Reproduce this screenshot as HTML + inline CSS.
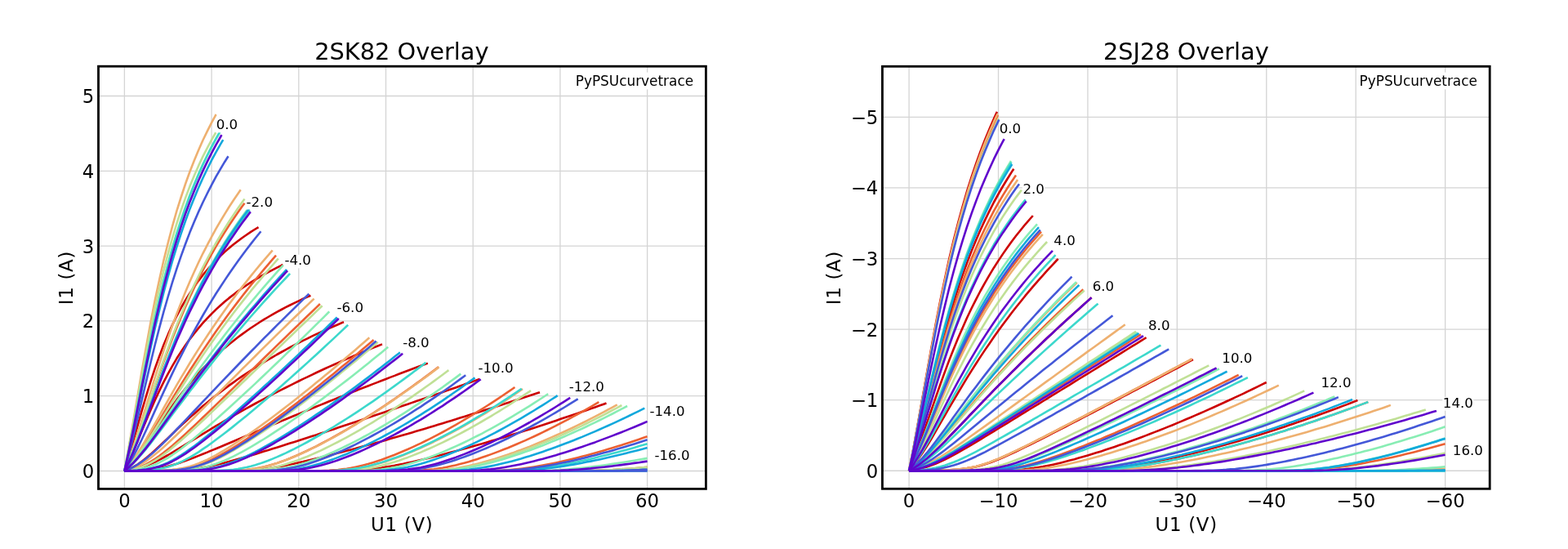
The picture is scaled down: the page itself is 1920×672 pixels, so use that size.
<!DOCTYPE html>
<html><head><meta charset="utf-8"><title>Overlay</title>
<style>html,body{margin:0;padding:0;background:#fff;overflow:hidden}svg{display:block}</style>
</head><body>
<svg width="1920" height="672" viewBox="0 0 1920 672" font-family="DejaVu Sans, Liberation Sans, sans-serif">
<rect width="1920" height="672" fill="#fff"/>
<clipPath id="c1"><rect x="120.50" y="81.20" width="743.90" height="517.20"/></clipPath>
<g stroke="#d4d4d4" stroke-width="1.3">
<line x1="152.40" y1="81.20" x2="152.40" y2="598.40"/>
<line x1="259.10" y1="81.20" x2="259.10" y2="598.40"/>
<line x1="365.80" y1="81.20" x2="365.80" y2="598.40"/>
<line x1="472.50" y1="81.20" x2="472.50" y2="598.40"/>
<line x1="579.20" y1="81.20" x2="579.20" y2="598.40"/>
<line x1="685.90" y1="81.20" x2="685.90" y2="598.40"/>
<line x1="792.60" y1="81.20" x2="792.60" y2="598.40"/>
<line x1="120.50" y1="576.50" x2="864.40" y2="576.50"/>
<line x1="120.50" y1="484.70" x2="864.40" y2="484.70"/>
<line x1="120.50" y1="392.90" x2="864.40" y2="392.90"/>
<line x1="120.50" y1="301.10" x2="864.40" y2="301.10"/>
<line x1="120.50" y1="209.30" x2="864.40" y2="209.30"/>
<line x1="120.50" y1="117.50" x2="864.40" y2="117.50"/>
</g>

<g clip-path="url(#c1)" fill="none" stroke-width="2.6" stroke-linejoin="round" stroke-linecap="butt">
<polyline points="152.4,576.5 157.7,558.8 163.1,540.2 168.4,521.3 173.7,502.6 179.1,484.4 184.4,467.2 189.7,451.1 195.1,436.1 200.4,422.2 205.8,409.4 211.1,397.6 216.4,386.8 221.8,376.7 227.1,367.5 232.4,358.9 237.8,351.0 243.1,343.6 248.4,336.7 253.8,330.3 259.1,324.3 264.4,318.7 269.8,313.4 275.1,308.4 280.4,303.7 285.8,299.3 291.1,295.2 296.4,291.2 301.8,287.5 307.1,283.9 312.5,280.5 316.5,278.1" stroke="#cc0000"/>
<polyline points="152.4,576.5 157.7,565.2 163.1,553.0 168.4,540.2 173.7,527.3 179.1,514.4 184.4,501.9 189.7,489.9 195.1,478.4 200.4,467.6 205.8,457.4 211.1,447.8 216.4,438.8 221.8,430.4 227.1,422.5 232.4,415.1 237.8,408.2 243.1,401.6 248.4,395.4 253.8,389.6 259.1,384.1 264.4,378.9 269.8,374.0 275.1,369.3 280.4,364.9 285.8,360.7 291.1,356.6 296.4,352.8 301.8,349.1 307.1,345.7 312.5,342.3 317.8,339.1 323.1,336.0 328.5,333.1 333.8,330.3 339.1,327.6 344.5,325.0 346.4,324.0" stroke="#cc0000"/>
<polyline points="152.4,576.5 157.7,571.8 163.1,566.0 168.4,559.4 173.7,552.1 179.1,544.4 184.4,536.3 189.7,528.2 195.1,520.1 200.4,512.1 205.8,504.3 211.1,496.7 216.4,489.4 221.8,482.4 227.1,475.6 232.4,469.1 237.8,462.9 243.1,456.9 248.4,451.2 253.8,445.7 259.1,440.5 264.4,435.4 269.8,430.6 275.1,425.9 280.4,421.5 285.8,417.2 291.1,413.0 296.4,409.1 301.8,405.2 307.1,401.5 312.5,398.0 317.8,394.5 323.1,391.2 328.5,388.0 333.8,384.9 339.1,381.9 344.5,379.0 349.8,376.2 355.1,373.5 360.5,370.9 365.8,368.3 371.1,365.8 376.5,363.4 380.4,361.7" stroke="#cc0000"/>
<polyline points="152.4,576.5 157.7,574.4 163.1,571.7 168.4,568.5 173.7,564.7 179.1,560.6 184.4,556.1 189.7,551.3 195.1,546.3 200.4,541.3 205.8,536.1 211.1,531.0 216.4,525.9 221.8,520.9 227.1,516.0 232.4,511.1 237.8,506.4 243.1,501.7 248.4,497.1 253.8,492.7 259.1,488.3 264.4,484.1 269.8,480.0 275.1,475.9 280.4,471.9 285.8,468.1 291.1,464.3 296.4,460.6 301.8,457.0 307.1,453.5 312.5,450.1 317.8,446.7 323.1,443.4 328.5,440.2 333.8,437.1 339.1,434.0 344.5,431.0 349.8,428.1 355.1,425.2 360.5,422.4 365.8,419.6 371.1,416.9 376.5,414.3 381.8,411.7 387.1,409.1 392.5,406.7 397.8,404.2 403.1,401.8 408.5,399.5 413.8,397.2 419.1,394.9 421.0,394.2" stroke="#cc0000"/>
<polyline points="152.4,576.5 157.7,575.8 163.1,574.8 168.4,573.5 173.7,572.0 179.1,570.1 184.4,567.9 189.7,565.5 195.1,562.8 200.4,560.0 205.8,557.0 211.1,553.9 216.4,550.7 221.8,547.4 227.1,544.2 232.4,540.9 237.8,537.6 243.1,534.3 248.4,531.1 253.8,527.8 259.1,524.6 264.4,521.4 269.8,518.3 275.1,515.1 280.4,512.0 285.8,508.9 291.1,505.9 296.4,502.9 301.8,499.9 307.1,497.0 312.5,494.0 317.8,491.2 323.1,488.3 328.5,485.5 333.8,482.7 339.1,479.9 344.5,477.2 349.8,474.5 355.1,471.8 360.5,469.1 365.8,466.5 371.1,463.9 376.5,461.4 381.8,458.8 387.1,456.3 392.5,453.8 397.8,451.3 403.1,448.9 408.5,446.5 413.8,444.1 419.1,441.8 424.5,439.4 429.8,437.1 435.2,434.8 440.5,432.5 445.8,430.3 451.2,428.1 456.5,425.9 461.8,423.7 467.2,421.6 467.9,421.3" stroke="#cc0000"/>
<polyline points="152.4,576.5 157.7,576.4 163.1,576.2 168.4,576.0 173.7,575.7 179.1,575.3 184.4,574.7 189.7,574.0 195.1,573.1 200.4,572.0 205.8,570.7 211.1,569.3 216.4,567.7 221.8,565.9 227.1,564.0 232.4,562.1 237.8,560.0 243.1,557.9 248.4,555.8 253.8,553.6 259.1,551.4 264.4,549.2 269.8,547.0 275.1,544.7 280.4,542.5 285.8,540.2 291.1,537.9 296.4,535.7 301.8,533.4 307.1,531.2 312.5,528.9 317.8,526.6 323.1,524.4 328.5,522.2 333.8,519.9 339.1,517.7 344.5,515.4 349.8,513.2 355.1,511.0 360.5,508.8 365.8,506.6 371.1,504.4 376.5,502.2 381.8,500.0 387.1,497.8 392.5,495.6 397.8,493.5 403.1,491.3 408.5,489.1 413.8,487.0 419.1,484.9 424.5,482.7 429.8,480.6 435.2,478.5 440.5,476.4 445.8,474.3 451.2,472.2 456.5,470.1 461.8,468.1 467.2,466.0 472.5,464.0 477.8,461.9 483.2,459.9 488.5,457.8 493.8,455.8 499.2,453.8 504.5,451.8 509.8,449.8 515.2,447.8 520.5,445.8 523.8,444.6" stroke="#cc0000"/>
<polyline points="152.4,576.5 157.7,576.5 163.1,576.5 168.4,576.5 173.7,576.5 179.1,576.4 184.4,576.4 189.7,576.4 195.1,576.3 200.4,576.2 205.8,576.1 211.1,576.0 216.4,575.8 221.8,575.5 227.1,575.1 232.4,574.6 237.8,574.0 243.1,573.3 248.4,572.4 253.8,571.4 259.1,570.3 264.4,569.1 269.8,567.8 275.1,566.5 280.4,565.1 285.8,563.6 291.1,562.1 296.4,560.6 301.8,559.0 307.1,557.5 312.5,555.9 317.8,554.3 323.1,552.6 328.5,551.0 333.8,549.3 339.1,547.7 344.5,546.0 349.8,544.3 355.1,542.6 360.5,540.9 365.8,539.2 371.1,537.5 376.5,535.8 381.8,534.1 387.1,532.4 392.5,530.6 397.8,528.9 403.1,527.1 408.5,525.4 413.8,523.6 419.1,521.8 424.5,520.1 429.8,518.3 435.2,516.5 440.5,514.7 445.8,512.9 451.2,511.1 456.5,509.3 461.8,507.5 467.2,505.7 472.5,503.9 477.8,502.1 483.2,500.3 488.5,498.4 493.8,496.6 499.2,494.8 504.5,492.9 509.8,491.1 515.2,489.3 520.5,487.4 525.9,485.6 531.2,483.7 536.5,481.9 541.9,480.0 547.2,478.1 552.5,476.3 557.9,474.4 563.2,472.5 568.5,470.6 573.9,468.8 579.2,466.9 584.5,465.0 587.5,463.9" stroke="#cc0000"/>
<polyline points="152.4,576.5 157.7,576.5 163.1,576.5 168.4,576.5 173.7,576.5 179.1,576.5 184.4,576.5 189.7,576.5 195.1,576.5 200.4,576.5 205.8,576.5 211.1,576.5 216.4,576.5 221.8,576.5 227.1,576.5 232.4,576.5 237.8,576.5 243.1,576.5 248.4,576.5 253.8,576.5 259.1,576.5 264.4,576.4 269.8,576.4 275.1,576.4 280.4,576.3 285.8,576.2 291.1,576.1 296.4,575.9 301.8,575.7 307.1,575.4 312.5,575.0 317.8,574.5 323.1,573.9 328.5,573.2 333.8,572.4 339.1,571.5 344.5,570.6 349.8,569.6 355.1,568.5 360.5,567.4 365.8,566.2 371.1,565.1 376.5,563.8 381.8,562.6 387.1,561.3 392.5,560.0 397.8,558.7 403.1,557.3 408.5,556.0 413.8,554.6 419.1,553.2 424.5,551.8 429.8,550.4 435.2,549.0 440.5,547.5 445.8,546.1 451.2,544.6 456.5,543.2 461.8,541.7 467.2,540.2 472.5,538.7 477.8,537.1 483.2,535.6 488.5,534.1 493.8,532.5 499.2,531.0 504.5,529.4 509.8,527.8 515.2,526.2 520.5,524.7 525.9,523.1 531.2,521.4 536.5,519.8 541.9,518.2 547.2,516.6 552.5,514.9 557.9,513.3 563.2,511.6 568.5,510.0 573.9,508.3 579.2,506.6 584.5,505.0 589.9,503.3 595.2,501.6 600.5,499.9 605.9,498.2 611.2,496.5 616.5,494.7 621.9,493.0 627.2,491.3 632.5,489.6 637.9,487.8 643.2,486.1 648.6,484.3 653.9,482.6 659.2,480.8 661.0,480.2" stroke="#cc0000"/>
<polyline points="152.4,576.5 157.7,576.5 163.1,576.5 168.4,576.5 173.7,576.5 179.1,576.5 184.4,576.5 189.7,576.5 195.1,576.5 200.4,576.5 205.8,576.5 211.1,576.5 216.4,576.5 221.8,576.5 227.1,576.5 232.4,576.5 237.8,576.5 243.1,576.5 248.4,576.5 253.8,576.5 259.1,576.5 264.4,576.5 269.8,576.5 275.1,576.5 280.4,576.5 285.8,576.5 291.1,576.5 296.4,576.5 301.8,576.5 307.1,576.5 312.5,576.5 317.8,576.5 323.1,576.5 328.5,576.5 333.8,576.5 339.1,576.5 344.5,576.5 349.8,576.5 355.1,576.5 360.5,576.5 365.8,576.5 371.1,576.5 376.5,576.5 381.8,576.5 387.1,576.5 392.5,576.5 397.8,576.4 403.1,576.4 408.5,576.4 413.8,576.3 419.1,576.2 424.5,576.1 429.8,575.9 435.2,575.7 440.5,575.4 445.8,575.0 451.2,574.5 456.5,573.9 461.8,573.2 467.2,572.5 472.5,571.6 477.8,570.7 483.2,569.8 488.5,568.7 493.8,567.7 499.2,566.5 504.5,565.4 509.8,564.2 515.2,563.0 520.5,561.7 525.9,560.4 531.2,559.1 536.5,557.8 541.9,556.4 547.2,555.0 552.5,553.6 557.9,552.2 563.2,550.8 568.5,549.3 573.9,547.8 579.2,546.3 584.5,544.8 589.9,543.3 595.2,541.7 600.5,540.1 605.9,538.6 611.2,537.0 616.5,535.4 621.9,533.7 627.2,532.1 632.5,530.4 637.9,528.8 643.2,527.1 648.6,525.4 653.9,523.7 659.2,521.9 664.6,520.2 669.9,518.4 675.2,516.7 680.6,514.9 685.9,513.1 691.2,511.3 696.6,509.5 701.9,507.7 707.2,505.9 712.6,504.0 717.9,502.2 723.2,500.3 728.6,498.4 733.9,496.6 739.2,494.7 742.5,493.5" stroke="#cc0000"/>
<polyline points="152.4,576.5 157.7,564.2 163.1,550.6 168.4,535.9 173.7,520.5 179.1,504.8 184.4,489.0 189.7,473.2 195.1,457.8 200.4,442.8 205.8,428.3 211.1,414.3 216.4,400.9 221.8,388.0 227.1,375.6 232.4,363.7 237.8,352.3 243.1,341.4 248.4,330.9 253.8,320.8 259.1,311.1 264.4,301.8 269.8,292.9 275.1,284.3 280.4,276.0 285.8,268.0 291.1,260.3 296.4,252.8 299.5,248.7" stroke="#ec6032"/>
<polyline points="152.4,576.5 157.7,570.7 163.1,564.1 168.4,556.9 173.7,549.0 179.1,540.7 184.4,532.2 189.7,523.4 195.1,514.5 200.4,505.6 205.8,496.7 211.1,487.8 216.4,479.1 221.8,470.4 227.1,461.9 232.4,453.5 237.8,445.2 243.1,437.1 248.4,429.1 253.8,421.2 259.1,413.4 264.4,405.8 269.8,398.3 275.1,391.0 280.4,383.7 285.8,376.6 291.1,369.6 296.4,362.7 301.8,355.9 307.1,349.3 312.5,342.7 317.8,336.2 323.1,329.9 328.5,323.6 333.8,317.4 338.0,312.6" stroke="#ec6032"/>
<polyline points="152.4,576.5 157.7,575.6 163.1,574.3 168.4,572.7 173.7,570.6 179.1,568.1 184.4,565.2 189.7,561.8 195.1,558.1 200.4,554.1 205.8,549.8 211.1,545.4 216.4,540.7 221.8,536.0 227.1,531.1 232.4,526.1 237.8,521.1 243.1,516.1 248.4,511.0 253.8,505.9 259.1,500.7 264.4,495.6 269.8,490.4 275.1,485.2 280.4,480.0 285.8,474.9 291.1,469.7 296.4,464.5 301.8,459.3 307.1,454.1 312.5,448.9 317.8,443.7 323.1,438.5 328.5,433.3 333.8,428.1 339.1,422.9 344.5,417.8 349.8,412.6 355.1,407.4 360.5,402.3 365.8,397.1 371.1,392.0 376.5,386.8 381.8,381.7 387.1,376.6 391.9,372.0" stroke="#ec6032"/>
<polyline points="152.4,576.5 157.7,576.5 163.1,576.5 168.4,576.5 173.7,576.4 179.1,576.4 184.4,576.4 189.7,576.3 195.1,576.2 200.4,576.0 205.8,575.7 211.1,575.4 216.4,574.9 221.8,574.2 227.1,573.3 232.4,572.2 237.8,570.8 243.1,569.1 248.4,567.2 253.8,565.0 259.1,562.6 264.4,560.0 269.8,557.2 275.1,554.2 280.4,551.1 285.8,547.9 291.1,544.6 296.4,541.2 301.8,537.7 307.1,534.1 312.5,530.5 317.8,526.8 323.1,523.1 328.5,519.3 333.8,515.5 339.1,511.6 344.5,507.6 349.8,503.7 355.1,499.6 360.5,495.6 365.8,491.5 371.1,487.3 376.5,483.2 381.8,479.0 387.1,474.7 392.5,470.4 397.8,466.1 403.1,461.8 408.5,457.4 413.8,453.0 419.1,448.6 424.5,444.2 429.8,439.7 435.2,435.2 440.5,430.6 445.8,426.1 451.2,421.5 456.5,416.9 457.5,416.0" stroke="#ec6032"/>
<polyline points="152.4,576.5 157.7,576.5 163.1,576.5 168.4,576.5 173.7,576.5 179.1,576.5 184.4,576.5 189.7,576.5 195.1,576.5 200.4,576.5 205.8,576.5 211.1,576.5 216.4,576.5 221.8,576.5 227.1,576.5 232.4,576.5 237.8,576.5 243.1,576.5 248.4,576.5 253.8,576.5 259.1,576.4 264.4,576.4 269.8,576.4 275.1,576.3 280.4,576.2 285.8,576.0 291.1,575.8 296.4,575.4 301.8,575.0 307.1,574.3 312.5,573.6 317.8,572.6 323.1,571.4 328.5,570.1 333.8,568.6 339.1,566.9 344.5,565.0 349.8,563.1 355.1,561.0 360.5,558.7 365.8,556.4 371.1,554.0 376.5,551.5 381.8,548.9 387.1,546.3 392.5,543.5 397.8,540.7 403.1,537.9 408.5,534.9 413.8,531.9 419.1,528.9 424.5,525.8 429.8,522.6 435.2,519.4 440.5,516.1 445.8,512.8 451.2,509.4 456.5,506.0 461.8,502.5 467.2,499.0 472.5,495.5 477.8,491.9 483.2,488.2 488.5,484.5 493.8,480.8 499.2,477.0 504.5,473.2 509.8,469.4 515.2,465.5 520.5,461.5 525.9,457.6 531.2,453.6 536.5,449.5 537.0,449.2" stroke="#ec6032"/>
<polyline points="152.4,576.5 157.7,576.5 163.1,576.5 168.4,576.5 173.7,576.5 179.1,576.5 184.4,576.5 189.7,576.5 195.1,576.5 200.4,576.5 205.8,576.5 211.1,576.5 216.4,576.5 221.8,576.5 227.1,576.5 232.4,576.5 237.8,576.5 243.1,576.5 248.4,576.5 253.8,576.5 259.1,576.5 264.4,576.5 269.8,576.5 275.1,576.5 280.4,576.5 285.8,576.5 291.1,576.5 296.4,576.5 301.8,576.5 307.1,576.5 312.5,576.5 317.8,576.5 323.1,576.5 328.5,576.5 333.8,576.5 339.1,576.5 344.5,576.5 349.8,576.5 355.1,576.5 360.5,576.5 365.8,576.5 371.1,576.4 376.5,576.4 381.8,576.4 387.1,576.3 392.5,576.2 397.8,576.0 403.1,575.8 408.5,575.4 413.8,575.0 419.1,574.4 424.5,573.7 429.8,572.8 435.2,571.7 440.5,570.5 445.8,569.2 451.2,567.8 456.5,566.2 461.8,564.5 467.2,562.7 472.5,560.8 477.8,558.8 483.2,556.7 488.5,554.5 493.8,552.3 499.2,550.0 504.5,547.6 509.8,545.1 515.2,542.6 520.5,540.0 525.9,537.3 531.2,534.6 536.5,531.8 541.9,529.0 547.2,526.1 552.5,523.1 557.9,520.1 563.2,517.0 568.5,513.9 573.9,510.7 579.2,507.5 584.5,504.2 589.9,500.9 595.2,497.5 600.5,494.1 605.9,490.6 611.2,487.1 616.5,483.5 621.9,479.9 627.2,476.2 630.4,474.0" stroke="#ec6032"/>
<polyline points="152.4,576.5 157.7,576.5 163.1,576.5 168.4,576.5 173.7,576.5 179.1,576.5 184.4,576.5 189.7,576.5 195.1,576.5 200.4,576.5 205.8,576.5 211.1,576.5 216.4,576.5 221.8,576.5 227.1,576.5 232.4,576.5 237.8,576.5 243.1,576.5 248.4,576.5 253.8,576.5 259.1,576.5 264.4,576.5 269.8,576.5 275.1,576.5 280.4,576.5 285.8,576.5 291.1,576.5 296.4,576.5 301.8,576.5 307.1,576.5 312.5,576.5 317.8,576.5 323.1,576.5 328.5,576.5 333.8,576.5 339.1,576.5 344.5,576.5 349.8,576.5 355.1,576.5 360.5,576.5 365.8,576.5 371.1,576.5 376.5,576.5 381.8,576.5 387.1,576.5 392.5,576.5 397.8,576.5 403.1,576.5 408.5,576.5 413.8,576.5 419.1,576.5 424.5,576.5 429.8,576.5 435.2,576.5 440.5,576.5 445.8,576.5 451.2,576.5 456.5,576.5 461.8,576.5 467.2,576.5 472.5,576.5 477.8,576.5 483.2,576.4 488.5,576.4 493.8,576.3 499.2,576.3 504.5,576.1 509.8,575.9 515.2,575.7 520.5,575.3 525.9,574.8 531.2,574.3 536.5,573.5 541.9,572.7 547.2,571.7 552.5,570.6 557.9,569.4 563.2,568.1 568.5,566.7 573.9,565.2 579.2,563.6 584.5,561.9 589.9,560.1 595.2,558.3 600.5,556.4 605.9,554.4 611.2,552.4 616.5,550.3 621.9,548.2 627.2,546.0 632.5,543.7 637.9,541.4 643.2,539.1 648.6,536.6 653.9,534.2 659.2,531.7 664.6,529.1 669.9,526.5 675.2,523.8 680.6,521.2 685.9,518.4 691.2,515.6 696.6,512.8 701.9,509.9 707.2,507.0 712.6,504.1 717.9,501.1 723.2,498.0 728.6,494.9 733.3,492.2" stroke="#ec6032"/>
<polyline points="152.4,576.5 157.7,576.5 163.1,576.5 168.4,576.5 173.7,576.5 179.1,576.5 184.4,576.5 189.7,576.5 195.1,576.5 200.4,576.5 205.8,576.5 211.1,576.5 216.4,576.5 221.8,576.5 227.1,576.5 232.4,576.5 237.8,576.5 243.1,576.5 248.4,576.5 253.8,576.5 259.1,576.5 264.4,576.5 269.8,576.5 275.1,576.5 280.4,576.5 285.8,576.5 291.1,576.5 296.4,576.5 301.8,576.5 307.1,576.5 312.5,576.5 317.8,576.5 323.1,576.5 328.5,576.5 333.8,576.5 339.1,576.5 344.5,576.5 349.8,576.5 355.1,576.5 360.5,576.5 365.8,576.5 371.1,576.5 376.5,576.5 381.8,576.5 387.1,576.5 392.5,576.5 397.8,576.5 403.1,576.5 408.5,576.5 413.8,576.5 419.1,576.5 424.5,576.5 429.8,576.5 435.2,576.5 440.5,576.5 445.8,576.5 451.2,576.5 456.5,576.5 461.8,576.5 467.2,576.5 472.5,576.5 477.8,576.5 483.2,576.5 488.5,576.5 493.8,576.5 499.2,576.5 504.5,576.5 509.8,576.5 515.2,576.5 520.5,576.5 525.9,576.5 531.2,576.5 536.5,576.5 541.9,576.5 547.2,576.5 552.5,576.5 557.9,576.5 563.2,576.5 568.5,576.5 573.9,576.5 579.2,576.4 584.5,576.4 589.9,576.4 595.2,576.3 600.5,576.2 605.9,576.1 611.2,575.8 616.5,575.6 621.9,575.2 627.2,574.8 632.5,574.3 637.9,573.7 643.2,573.0 648.6,572.3 653.9,571.5 659.2,570.6 664.6,569.6 669.9,568.6 675.2,567.5 680.6,566.4 685.9,565.3 691.2,564.1 696.6,562.8 701.9,561.5 707.2,560.2 712.6,558.8 717.9,557.4 723.2,556.0 728.6,554.5 733.9,553.0 739.2,551.4 744.6,549.8 749.9,548.2 755.3,546.6 760.6,544.9 765.9,543.2 771.3,541.5 776.6,539.7 781.9,537.9 787.3,536.1 792.6,534.3" stroke="#ec6032"/>
<polyline points="152.4,576.5 157.7,576.5 163.1,576.5 168.4,576.5 173.7,576.5 179.1,576.5 184.4,576.5 189.7,576.5 195.1,576.5 200.4,576.5 205.8,576.5 211.1,576.5 216.4,576.5 221.8,576.5 227.1,576.5 232.4,576.5 237.8,576.5 243.1,576.5 248.4,576.5 253.8,576.5 259.1,576.5 264.4,576.5 269.8,576.5 275.1,576.5 280.4,576.5 285.8,576.5 291.1,576.5 296.4,576.5 301.8,576.5 307.1,576.5 312.5,576.5 317.8,576.5 323.1,576.5 328.5,576.5 333.8,576.5 339.1,576.5 344.5,576.5 349.8,576.5 355.1,576.5 360.5,576.5 365.8,576.5 371.1,576.5 376.5,576.5 381.8,576.5 387.1,576.5 392.5,576.5 397.8,576.5 403.1,576.5 408.5,576.5 413.8,576.5 419.1,576.5 424.5,576.5 429.8,576.5 435.2,576.5 440.5,576.5 445.8,576.5 451.2,576.5 456.5,576.5 461.8,576.5 467.2,576.5 472.5,576.5 477.8,576.5 483.2,576.5 488.5,576.5 493.8,576.5 499.2,576.5 504.5,576.5 509.8,576.5 515.2,576.5 520.5,576.5 525.9,576.5 531.2,576.5 536.5,576.5 541.9,576.5 547.2,576.5 552.5,576.5 557.9,576.5 563.2,576.5 568.5,576.5 573.9,576.5 579.2,576.5 584.5,576.5 589.9,576.5 595.2,576.5 600.5,576.5 605.9,576.5 611.2,576.5 616.5,576.5 621.9,576.5 627.2,576.5 632.5,576.5 637.9,576.5 643.2,576.5 648.6,576.5 653.9,576.5 659.2,576.5 664.6,576.5 669.9,576.5 675.2,576.5 680.6,576.5 685.9,576.5 691.2,576.5 696.6,576.4 701.9,576.4 707.2,576.4 712.6,576.3 717.9,576.2 723.2,576.1 728.6,576.0 733.9,575.8 739.2,575.6 744.6,575.3 749.9,575.1 755.3,574.7 760.6,574.4 765.9,574.0 771.3,573.7 776.6,573.3 781.9,572.8 787.3,572.4 792.6,571.9" stroke="#ec6032"/>
<polyline points="152.4,576.5 157.7,547.5 163.1,516.8 168.4,485.4 173.7,454.2 179.1,423.9 184.4,395.0 189.7,367.8 195.1,342.4 200.4,318.8 205.8,297.0 211.1,276.8 216.4,258.2 221.8,241.0 227.1,225.0 232.4,210.2 237.8,196.5 243.1,183.7 248.4,171.7 253.8,160.6 259.1,150.1 264.4,140.3 264.6,140.0" stroke="#eeb070"/>
<polyline points="152.4,576.5 157.7,562.7 163.1,547.4 168.4,531.1 173.7,514.1 179.1,496.7 184.4,479.3 189.7,462.1 195.1,445.4 200.4,429.2 205.8,413.5 211.1,398.5 216.4,384.2 221.8,370.4 227.1,357.3 232.4,344.7 237.8,332.7 243.1,321.3 248.4,310.3 253.8,299.8 259.1,289.8 264.4,280.2 269.8,270.9 275.1,262.1 280.4,253.5 285.8,245.3 291.1,237.5 294.7,232.3" stroke="#eeb070"/>
<polyline points="152.4,576.5 157.7,570.1 163.1,562.9 168.4,554.9 173.7,546.4 179.1,537.4 184.4,528.1 189.7,518.6 195.1,509.1 200.4,499.5 205.8,490.0 211.1,480.6 216.4,471.4 221.8,462.2 227.1,453.3 232.4,444.5 237.8,435.8 243.1,427.4 248.4,419.1 253.8,411.0 259.1,403.0 264.4,395.2 269.8,387.5 275.1,380.0 280.4,372.6 285.8,365.4 291.1,358.3 296.4,351.4 301.8,344.6 307.1,337.9 312.5,331.3 317.8,324.9 323.1,318.6 328.5,312.4 333.7,306.4" stroke="#eeb070"/>
<polyline points="152.4,576.5 157.7,575.0 163.1,573.0 168.4,570.6 173.7,567.7 179.1,564.3 184.4,560.5 189.7,556.3 195.1,551.9 200.4,547.2 205.8,542.3 211.1,537.3 216.4,532.2 221.8,527.0 227.1,521.7 232.4,516.4 237.8,511.0 243.1,505.7 248.4,500.3 253.8,494.9 259.1,489.5 264.4,484.1 269.8,478.7 275.1,473.4 280.4,468.0 285.8,462.6 291.1,457.3 296.4,451.9 301.8,446.6 307.1,441.3 312.5,436.0 317.8,430.7 323.1,425.4 328.5,420.1 333.8,414.9 339.1,409.6 344.5,404.4 349.8,399.2 355.1,394.0 360.5,388.8 365.8,383.7 371.1,378.5 376.5,373.4 381.8,368.3 384.6,365.6" stroke="#eeb070"/>
<polyline points="152.4,576.5 157.7,576.5 163.1,576.5 168.4,576.5 173.7,576.4 179.1,576.4 184.4,576.3 189.7,576.2 195.1,576.0 200.4,575.7 205.8,575.4 211.1,574.9 216.4,574.2 221.8,573.4 227.1,572.2 232.4,570.9 237.8,569.2 243.1,567.2 248.4,565.0 253.8,562.6 259.1,559.9 264.4,557.1 269.8,554.0 275.1,550.9 280.4,547.6 285.8,544.2 291.1,540.7 296.4,537.2 301.8,533.5 307.1,529.8 312.5,526.1 317.8,522.3 323.1,518.4 328.5,514.5 333.8,510.5 339.1,506.5 344.5,502.4 349.8,498.3 355.1,494.2 360.5,490.0 365.8,485.8 371.1,481.5 376.5,477.3 381.8,473.0 387.1,468.6 392.5,464.2 397.8,459.8 403.1,455.4 408.5,450.9 413.8,446.4 419.1,441.9 424.5,437.3 429.8,432.8 435.2,428.2 440.5,423.5 445.8,418.9 451.2,414.2 452.3,413.2" stroke="#eeb070"/>
<polyline points="152.4,576.5 157.7,576.5 163.1,576.5 168.4,576.5 173.7,576.5 179.1,576.5 184.4,576.5 189.7,576.5 195.1,576.5 200.4,576.5 205.8,576.5 211.1,576.5 216.4,576.5 221.8,576.5 227.1,576.5 232.4,576.5 237.8,576.5 243.1,576.5 248.4,576.5 253.8,576.5 259.1,576.4 264.4,576.4 269.8,576.4 275.1,576.3 280.4,576.2 285.8,576.0 291.1,575.8 296.4,575.5 301.8,575.0 307.1,574.4 312.5,573.7 317.8,572.7 323.1,571.6 328.5,570.2 333.8,568.7 339.1,567.1 344.5,565.3 349.8,563.3 355.1,561.2 360.5,559.0 365.8,556.7 371.1,554.3 376.5,551.8 381.8,549.2 387.1,546.6 392.5,543.9 397.8,541.1 403.1,538.2 408.5,535.3 413.8,532.3 419.1,529.3 424.5,526.2 429.8,523.0 435.2,519.8 440.5,516.5 445.8,513.2 451.2,509.9 456.5,506.5 461.8,503.0 467.2,499.5 472.5,495.9 477.8,492.3 483.2,488.7 488.5,485.0 493.8,481.3 499.2,477.5 504.5,473.7 509.8,469.9 515.2,466.0 520.5,462.1 525.9,458.1 531.2,454.1 536.5,450.1 537.5,449.3" stroke="#eeb070"/>
<polyline points="152.4,576.5 157.7,576.5 163.1,576.5 168.4,576.5 173.7,576.5 179.1,576.5 184.4,576.5 189.7,576.5 195.1,576.5 200.4,576.5 205.8,576.5 211.1,576.5 216.4,576.5 221.8,576.5 227.1,576.5 232.4,576.5 237.8,576.5 243.1,576.5 248.4,576.5 253.8,576.5 259.1,576.5 264.4,576.5 269.8,576.5 275.1,576.5 280.4,576.5 285.8,576.5 291.1,576.5 296.4,576.5 301.8,576.5 307.1,576.5 312.5,576.5 317.8,576.5 323.1,576.5 328.5,576.5 333.8,576.5 339.1,576.5 344.5,576.5 349.8,576.5 355.1,576.5 360.5,576.5 365.8,576.5 371.1,576.5 376.5,576.5 381.8,576.5 387.1,576.4 392.5,576.4 397.8,576.3 403.1,576.2 408.5,576.0 413.8,575.8 419.1,575.5 424.5,575.1 429.8,574.5 435.2,573.8 440.5,573.0 445.8,572.0 451.2,570.8 456.5,569.5 461.8,568.1 467.2,566.5 472.5,564.9 477.8,563.1 483.2,561.2 488.5,559.3 493.8,557.2 499.2,555.1 504.5,552.8 509.8,550.6 515.2,548.2 520.5,545.7 525.9,543.2 531.2,540.7 536.5,538.0 541.9,535.3 547.2,532.6 552.5,529.8 557.9,526.9 563.2,524.0 568.5,521.0 573.9,517.9 579.2,514.9 584.5,511.7 589.9,508.5 595.2,505.3 600.5,502.0 605.9,498.6 611.2,495.2 616.5,491.8 621.9,488.3 627.2,484.7 632.5,481.1 637.9,477.5 640.0,476.1" stroke="#eeb070"/>
<polyline points="152.4,576.5 157.7,576.5 163.1,576.5 168.4,576.5 173.7,576.5 179.1,576.5 184.4,576.5 189.7,576.5 195.1,576.5 200.4,576.5 205.8,576.5 211.1,576.5 216.4,576.5 221.8,576.5 227.1,576.5 232.4,576.5 237.8,576.5 243.1,576.5 248.4,576.5 253.8,576.5 259.1,576.5 264.4,576.5 269.8,576.5 275.1,576.5 280.4,576.5 285.8,576.5 291.1,576.5 296.4,576.5 301.8,576.5 307.1,576.5 312.5,576.5 317.8,576.5 323.1,576.5 328.5,576.5 333.8,576.5 339.1,576.5 344.5,576.5 349.8,576.5 355.1,576.5 360.5,576.5 365.8,576.5 371.1,576.5 376.5,576.5 381.8,576.5 387.1,576.5 392.5,576.5 397.8,576.5 403.1,576.5 408.5,576.5 413.8,576.5 419.1,576.5 424.5,576.5 429.8,576.5 435.2,576.5 440.5,576.5 445.8,576.5 451.2,576.5 456.5,576.5 461.8,576.5 467.2,576.5 472.5,576.5 477.8,576.5 483.2,576.5 488.5,576.5 493.8,576.5 499.2,576.4 504.5,576.4 509.8,576.4 515.2,576.3 520.5,576.2 525.9,576.0 531.2,575.8 536.5,575.5 541.9,575.1 547.2,574.6 552.5,573.9 557.9,573.2 563.2,572.3 568.5,571.3 573.9,570.2 579.2,569.0 584.5,567.7 589.9,566.3 595.2,564.8 600.5,563.3 605.9,561.7 611.2,560.0 616.5,558.2 621.9,556.4 627.2,554.6 632.5,552.6 637.9,550.7 643.2,548.6 648.6,546.6 653.9,544.4 659.2,542.2 664.6,540.0 669.9,537.7 675.2,535.4 680.6,533.0 685.9,530.6 691.2,528.2 696.6,525.7 701.9,523.2 707.2,520.6 712.6,518.0 717.9,515.3 723.2,512.6 728.6,509.9 733.9,507.1 739.2,504.3 744.6,501.4 749.9,498.6 755.3,495.6 755.8,495.3" stroke="#eeb070"/>
<polyline points="152.4,576.5 157.7,576.5 163.1,576.5 168.4,576.5 173.7,576.5 179.1,576.5 184.4,576.5 189.7,576.5 195.1,576.5 200.4,576.5 205.8,576.5 211.1,576.5 216.4,576.5 221.8,576.5 227.1,576.5 232.4,576.5 237.8,576.5 243.1,576.5 248.4,576.5 253.8,576.5 259.1,576.5 264.4,576.5 269.8,576.5 275.1,576.5 280.4,576.5 285.8,576.5 291.1,576.5 296.4,576.5 301.8,576.5 307.1,576.5 312.5,576.5 317.8,576.5 323.1,576.5 328.5,576.5 333.8,576.5 339.1,576.5 344.5,576.5 349.8,576.5 355.1,576.5 360.5,576.5 365.8,576.5 371.1,576.5 376.5,576.5 381.8,576.5 387.1,576.5 392.5,576.5 397.8,576.5 403.1,576.5 408.5,576.5 413.8,576.5 419.1,576.5 424.5,576.5 429.8,576.5 435.2,576.5 440.5,576.5 445.8,576.5 451.2,576.5 456.5,576.5 461.8,576.5 467.2,576.5 472.5,576.5 477.8,576.5 483.2,576.5 488.5,576.5 493.8,576.5 499.2,576.5 504.5,576.5 509.8,576.5 515.2,576.5 520.5,576.5 525.9,576.5 531.2,576.5 536.5,576.5 541.9,576.5 547.2,576.5 552.5,576.5 557.9,576.5 563.2,576.5 568.5,576.5 573.9,576.5 579.2,576.5 584.5,576.5 589.9,576.5 595.2,576.5 600.5,576.5 605.9,576.5 611.2,576.5 616.5,576.5 621.9,576.5 627.2,576.5 632.5,576.5 637.9,576.5 643.2,576.5 648.6,576.5 653.9,576.5 659.2,576.5 664.6,576.5 669.9,576.5 675.2,576.5 680.6,576.5 685.9,576.5 691.2,576.5 696.6,576.5 701.9,576.5 707.2,576.5 712.6,576.4 717.9,576.4 723.2,576.4 728.6,576.3 733.9,576.2 739.2,576.1 744.6,576.0 749.9,575.8 755.3,575.6 760.6,575.4 765.9,575.2 771.3,575.0 776.6,574.7 781.9,574.4 787.3,574.1 792.6,573.7" stroke="#eeb070"/>
<polyline points="152.4,576.5 157.7,548.8 163.1,519.5 168.4,489.6 173.7,459.9 179.1,431.1 184.4,403.6 189.7,377.7 195.1,353.5 200.4,331.1 205.8,310.4 211.1,291.3 216.4,273.6 221.8,257.2 227.1,242.1 232.4,228.1 237.8,215.1 243.1,202.9 248.4,191.6 253.8,181.1 259.1,171.2 264.3,162.1" stroke="#c0e096"/>
<polyline points="152.4,576.5 157.7,564.0 163.1,550.2 168.4,535.3 173.7,519.7 179.1,503.7 184.4,487.6 189.7,471.6 195.1,456.0 200.4,440.7 205.8,426.0 211.1,411.8 216.4,398.1 221.8,385.0 227.1,372.4 232.4,360.3 237.8,348.8 243.1,337.7 248.4,327.0 253.8,316.8 259.1,307.0 264.4,297.5 269.8,288.4 275.1,279.7 280.4,271.3 285.8,263.1 291.1,255.3 296.4,247.8 299.5,243.6" stroke="#c0e096"/>
<polyline points="152.4,576.5 157.7,571.0 163.1,564.8 168.4,557.9 173.7,550.4 179.1,542.6 184.4,534.4 189.7,526.0 195.1,517.5 200.4,508.9 205.8,500.4 211.1,491.8 216.4,483.4 221.8,475.0 227.1,466.8 232.4,458.6 237.8,450.6 243.1,442.7 248.4,434.8 253.8,427.1 259.1,419.6 264.4,412.1 269.8,404.8 275.1,397.5 280.4,390.4 285.8,383.3 291.1,376.4 296.4,369.6 301.8,362.9 307.1,356.2 312.5,349.7 317.8,343.3 323.1,336.9 328.5,330.7 333.8,324.5 339.1,318.4 340.8,316.5" stroke="#c0e096"/>
<polyline points="152.4,576.5 157.7,575.8 163.1,574.7 168.4,573.3 173.7,571.5 179.1,569.3 184.4,566.6 189.7,563.6 195.1,560.2 200.4,556.4 205.8,552.4 211.1,548.1 216.4,543.6 221.8,539.0 227.1,534.3 232.4,529.5 237.8,524.6 243.1,519.7 248.4,514.7 253.8,509.7 259.1,504.6 264.4,499.5 269.8,494.4 275.1,489.3 280.4,484.2 285.8,479.1 291.1,474.0 296.4,468.8 301.8,463.7 307.1,458.5 312.5,453.4 317.8,448.2 323.1,443.1 328.5,437.9 333.8,432.8 339.1,427.6 344.5,422.5 349.8,417.4 355.1,412.2 360.5,407.1 365.8,401.9 371.1,396.8 376.5,391.7 381.8,386.6 387.1,381.4 392.5,376.3 394.6,374.3" stroke="#c0e096"/>
<polyline points="152.4,576.5 157.7,576.5 163.1,576.5 168.4,576.5 173.7,576.5 179.1,576.4 184.4,576.4 189.7,576.3 195.1,576.3 200.4,576.1 205.8,576.0 211.1,575.7 216.4,575.3 221.8,574.8 227.1,574.1 232.4,573.2 237.8,572.1 243.1,570.7 248.4,569.0 253.8,567.1 259.1,565.0 264.4,562.6 269.8,560.0 275.1,557.3 280.4,554.4 285.8,551.3 291.1,548.2 296.4,545.0 301.8,541.6 307.1,538.2 312.5,534.7 317.8,531.2 323.1,527.6 328.5,523.9 333.8,520.2 339.1,516.4 344.5,512.6 349.8,508.8 355.1,504.9 360.5,500.9 365.8,496.9 371.1,492.9 376.5,488.8 381.8,484.7 387.1,480.6 392.5,476.4 397.8,472.2 403.1,468.0 408.5,463.7 413.8,459.4 419.1,455.1 424.5,450.7 429.8,446.3 435.2,441.9 440.5,437.5 445.8,433.0 451.2,428.5 456.5,424.0 461.8,419.4 462.7,418.7" stroke="#c0e096"/>
<polyline points="152.4,576.5 157.7,576.5 163.1,576.5 168.4,576.5 173.7,576.5 179.1,576.5 184.4,576.5 189.7,576.5 195.1,576.5 200.4,576.5 205.8,576.5 211.1,576.5 216.4,576.5 221.8,576.5 227.1,576.5 232.4,576.5 237.8,576.5 243.1,576.5 248.4,576.5 253.8,576.5 259.1,576.5 264.4,576.5 269.8,576.5 275.1,576.4 280.4,576.4 285.8,576.3 291.1,576.3 296.4,576.1 301.8,576.0 307.1,575.7 312.5,575.3 317.8,574.8 323.1,574.2 328.5,573.4 333.8,572.4 339.1,571.2 344.5,569.8 349.8,568.3 355.1,566.6 360.5,564.8 365.8,562.9 371.1,560.8 376.5,558.7 381.8,556.4 387.1,554.0 392.5,551.6 397.8,549.0 403.1,546.4 408.5,543.7 413.8,541.0 419.1,538.2 424.5,535.3 429.8,532.4 435.2,529.4 440.5,526.3 445.8,523.2 451.2,520.0 456.5,516.8 461.8,513.5 467.2,510.2 472.5,506.8 477.8,503.4 483.2,499.9 488.5,496.4 493.8,492.8 499.2,489.2 504.5,485.6 509.8,481.9 515.2,478.1 520.5,474.3 525.9,470.5 531.2,466.6 536.5,462.7 541.9,458.8 547.2,454.8 549.4,453.1" stroke="#c0e096"/>
<polyline points="152.4,576.5 157.7,576.5 163.1,576.5 168.4,576.5 173.7,576.5 179.1,576.5 184.4,576.5 189.7,576.5 195.1,576.5 200.4,576.5 205.8,576.5 211.1,576.5 216.4,576.5 221.8,576.5 227.1,576.5 232.4,576.5 237.8,576.5 243.1,576.5 248.4,576.5 253.8,576.5 259.1,576.5 264.4,576.5 269.8,576.5 275.1,576.5 280.4,576.5 285.8,576.5 291.1,576.5 296.4,576.5 301.8,576.5 307.1,576.5 312.5,576.5 317.8,576.5 323.1,576.5 328.5,576.5 333.8,576.5 339.1,576.5 344.5,576.5 349.8,576.5 355.1,576.5 360.5,576.5 365.8,576.5 371.1,576.5 376.5,576.5 381.8,576.5 387.1,576.5 392.5,576.5 397.8,576.4 403.1,576.4 408.5,576.3 413.8,576.2 419.1,576.1 424.5,575.9 429.8,575.6 435.2,575.2 440.5,574.7 445.8,574.0 451.2,573.2 456.5,572.3 461.8,571.2 467.2,569.9 472.5,568.5 477.8,567.0 483.2,565.4 488.5,563.7 493.8,561.8 499.2,559.9 504.5,557.9 509.8,555.8 515.2,553.6 520.5,551.3 525.9,549.0 531.2,546.6 536.5,544.1 541.9,541.6 547.2,539.0 552.5,536.3 557.9,533.6 563.2,530.8 568.5,528.0 573.9,525.1 579.2,522.1 584.5,519.1 589.9,516.0 595.2,512.9 600.5,509.8 605.9,506.5 611.2,503.3 616.5,500.0 621.9,496.6 627.2,493.2 632.5,489.7 637.9,486.2 643.2,482.7 648.6,479.1 650.0,478.1" stroke="#c0e096"/>
<polyline points="152.4,576.5 157.7,576.5 163.1,576.5 168.4,576.5 173.7,576.5 179.1,576.5 184.4,576.5 189.7,576.5 195.1,576.5 200.4,576.5 205.8,576.5 211.1,576.5 216.4,576.5 221.8,576.5 227.1,576.5 232.4,576.5 237.8,576.5 243.1,576.5 248.4,576.5 253.8,576.5 259.1,576.5 264.4,576.5 269.8,576.5 275.1,576.5 280.4,576.5 285.8,576.5 291.1,576.5 296.4,576.5 301.8,576.5 307.1,576.5 312.5,576.5 317.8,576.5 323.1,576.5 328.5,576.5 333.8,576.5 339.1,576.5 344.5,576.5 349.8,576.5 355.1,576.5 360.5,576.5 365.8,576.5 371.1,576.5 376.5,576.5 381.8,576.5 387.1,576.5 392.5,576.5 397.8,576.5 403.1,576.5 408.5,576.5 413.8,576.5 419.1,576.5 424.5,576.5 429.8,576.5 435.2,576.5 440.5,576.5 445.8,576.5 451.2,576.5 456.5,576.5 461.8,576.5 467.2,576.5 472.5,576.5 477.8,576.5 483.2,576.5 488.5,576.5 493.8,576.5 499.2,576.5 504.5,576.4 509.8,576.4 515.2,576.4 520.5,576.3 525.9,576.2 531.2,576.0 536.5,575.8 541.9,575.4 547.2,575.0 552.5,574.5 557.9,573.8 563.2,573.1 568.5,572.2 573.9,571.2 579.2,570.1 584.5,568.9 589.9,567.6 595.2,566.2 600.5,564.8 605.9,563.2 611.2,561.6 616.5,560.0 621.9,558.2 627.2,556.4 632.5,554.6 637.9,552.7 643.2,550.7 648.6,548.7 653.9,546.7 659.2,544.6 664.6,542.4 669.9,540.2 675.2,538.0 680.6,535.7 685.9,533.4 691.2,531.0 696.6,528.6 701.9,526.1 707.2,523.6 712.6,521.1 717.9,518.5 723.2,515.9 728.6,513.2 733.9,510.5 739.2,507.8 744.6,505.0 749.9,502.2 755.3,499.4 760.6,496.5 761.4,496.1" stroke="#c0e096"/>
<polyline points="152.4,576.5 157.7,576.5 163.1,576.5 168.4,576.5 173.7,576.5 179.1,576.5 184.4,576.5 189.7,576.5 195.1,576.5 200.4,576.5 205.8,576.5 211.1,576.5 216.4,576.5 221.8,576.5 227.1,576.5 232.4,576.5 237.8,576.5 243.1,576.5 248.4,576.5 253.8,576.5 259.1,576.5 264.4,576.5 269.8,576.5 275.1,576.5 280.4,576.5 285.8,576.5 291.1,576.5 296.4,576.5 301.8,576.5 307.1,576.5 312.5,576.5 317.8,576.5 323.1,576.5 328.5,576.5 333.8,576.5 339.1,576.5 344.5,576.5 349.8,576.5 355.1,576.5 360.5,576.5 365.8,576.5 371.1,576.5 376.5,576.5 381.8,576.5 387.1,576.5 392.5,576.5 397.8,576.5 403.1,576.5 408.5,576.5 413.8,576.5 419.1,576.5 424.5,576.5 429.8,576.5 435.2,576.5 440.5,576.5 445.8,576.5 451.2,576.5 456.5,576.5 461.8,576.5 467.2,576.5 472.5,576.5 477.8,576.5 483.2,576.5 488.5,576.5 493.8,576.5 499.2,576.5 504.5,576.5 509.8,576.5 515.2,576.5 520.5,576.5 525.9,576.5 531.2,576.5 536.5,576.5 541.9,576.5 547.2,576.5 552.5,576.5 557.9,576.5 563.2,576.5 568.5,576.5 573.9,576.5 579.2,576.5 584.5,576.5 589.9,576.5 595.2,576.5 600.5,576.5 605.9,576.5 611.2,576.5 616.5,576.5 621.9,576.5 627.2,576.5 632.5,576.5 637.9,576.5 643.2,576.5 648.6,576.5 653.9,576.5 659.2,576.5 664.6,576.5 669.9,576.5 675.2,576.5 680.6,576.5 685.9,576.5 691.2,576.5 696.6,576.4 701.9,576.4 707.2,576.4 712.6,576.3 717.9,576.2 723.2,576.1 728.6,576.0 733.9,575.8 739.2,575.6 744.6,575.3 749.9,575.1 755.3,574.7 760.6,574.4 765.9,574.0 771.3,573.7 776.6,573.3 781.9,572.8 787.3,572.4 792.6,571.9" stroke="#c0e096"/>
<polyline points="152.4,576.5 157.7,551.1 163.1,524.0 168.4,496.0 173.7,467.9 179.1,440.4 184.4,413.9 189.7,388.8 195.1,365.1 200.4,343.0 205.8,322.3 211.1,303.1 216.4,285.3 221.8,268.7 227.1,253.3 232.4,238.9 237.8,225.5 243.1,212.9 248.4,201.1 253.8,190.1 259.1,179.7 264.4,170.0 268.8,162.5" stroke="#88edb4"/>
<polyline points="152.4,576.5 157.7,565.2 163.1,552.6 168.4,539.0 173.7,524.7 179.1,510.0 184.4,495.1 189.7,480.3 195.1,465.7 200.4,451.4 205.8,437.6 211.1,424.2 216.4,411.2 221.8,398.7 227.1,386.7 232.4,375.1 237.8,364.0 243.1,353.3 248.4,343.0 253.8,333.1 259.1,323.5 264.4,314.3 269.8,305.4 275.1,296.8 280.4,288.5 285.8,280.5 291.1,272.8 296.4,265.3 301.8,258.1 304.5,254.5" stroke="#88edb4"/>
<polyline points="152.4,576.5 157.7,571.6 163.1,565.9 168.4,559.7 173.7,552.9 179.1,545.8 184.4,538.3 189.7,530.6 195.1,522.8 200.4,515.0 205.8,507.1 211.1,499.2 216.4,491.3 221.8,483.5 227.1,475.8 232.4,468.2 237.8,460.6 243.1,453.1 248.4,445.8 253.8,438.5 259.1,431.2 264.4,424.1 269.8,417.1 275.1,410.1 280.4,403.3 285.8,396.5 291.1,389.8 296.4,383.2 301.8,376.7 307.1,370.2 312.5,363.8 317.8,357.5 323.1,351.3 328.5,345.2 333.8,339.1 339.1,333.1 344.5,327.2 346.8,324.6" stroke="#88edb4"/>
<polyline points="152.4,576.5 157.7,576.1 163.1,575.6 168.4,574.8 173.7,573.8 179.1,572.4 184.4,570.7 189.7,568.7 195.1,566.2 200.4,563.4 205.8,560.3 211.1,556.8 216.4,553.1 221.8,549.2 227.1,545.1 232.4,540.9 237.8,536.5 243.1,532.1 248.4,527.6 253.8,523.0 259.1,518.3 264.4,513.6 269.8,508.8 275.1,504.0 280.4,499.2 285.8,494.3 291.1,489.4 296.4,484.5 301.8,479.5 307.1,474.6 312.5,469.6 317.8,464.5 323.1,459.5 328.5,454.4 333.8,449.3 339.1,444.2 344.5,439.1 349.8,433.9 355.1,428.7 360.5,423.5 365.8,418.3 371.1,413.1 376.5,407.9 381.8,402.6 387.1,397.4 392.5,392.1 397.8,386.8 403.1,381.5 403.3,381.3" stroke="#88edb4"/>
<polyline points="152.4,576.5 157.7,576.5 163.1,576.5 168.4,576.5 173.7,576.5 179.1,576.5 184.4,576.5 189.7,576.4 195.1,576.4 200.4,576.4 205.8,576.3 211.1,576.2 216.4,576.0 221.8,575.8 227.1,575.4 232.4,574.9 237.8,574.3 243.1,573.5 248.4,572.4 253.8,571.1 259.1,569.6 264.4,567.8 269.8,565.8 275.1,563.6 280.4,561.2 285.8,558.6 291.1,555.9 296.4,553.1 301.8,550.1 307.1,547.1 312.5,543.9 317.8,540.7 323.1,537.5 328.5,534.1 333.8,530.7 339.1,527.2 344.5,523.7 349.8,520.1 355.1,516.5 360.5,512.8 365.8,509.1 371.1,505.4 376.5,501.5 381.8,497.7 387.1,493.8 392.5,489.9 397.8,485.9 403.1,481.9 408.5,477.9 413.8,473.8 419.1,469.7 424.5,465.6 429.8,461.4 435.2,457.2 440.5,453.0 445.8,448.7 451.2,444.5 456.5,440.1 461.8,435.8 467.2,431.4 472.5,427.0 475.2,424.8" stroke="#88edb4"/>
<polyline points="152.4,576.5 157.7,576.5 163.1,576.5 168.4,576.5 173.7,576.5 179.1,576.5 184.4,576.5 189.7,576.5 195.1,576.5 200.4,576.5 205.8,576.5 211.1,576.5 216.4,576.5 221.8,576.5 227.1,576.5 232.4,576.5 237.8,576.5 243.1,576.5 248.4,576.5 253.8,576.5 259.1,576.5 264.4,576.5 269.8,576.5 275.1,576.5 280.4,576.5 285.8,576.5 291.1,576.4 296.4,576.4 301.8,576.4 307.1,576.3 312.5,576.2 317.8,576.0 323.1,575.8 328.5,575.5 333.8,575.0 339.1,574.4 344.5,573.6 349.8,572.7 355.1,571.6 360.5,570.4 365.8,569.0 371.1,567.4 376.5,565.7 381.8,563.8 387.1,561.9 392.5,559.8 397.8,557.7 403.1,555.4 408.5,553.1 413.8,550.6 419.1,548.1 424.5,545.5 429.8,542.9 435.2,540.2 440.5,537.4 445.8,534.5 451.2,531.6 456.5,528.7 461.8,525.6 467.2,522.5 472.5,519.4 477.8,516.2 483.2,513.0 488.5,509.7 493.8,506.3 499.2,502.9 504.5,499.4 509.8,495.9 515.2,492.4 520.5,488.8 525.9,485.2 531.2,481.5 536.5,477.7 541.9,474.0 547.2,470.1 552.5,466.3 557.9,462.4 563.2,458.4 564.3,457.6" stroke="#88edb4"/>
<polyline points="152.4,576.5 157.7,576.5 163.1,576.5 168.4,576.5 173.7,576.5 179.1,576.5 184.4,576.5 189.7,576.5 195.1,576.5 200.4,576.5 205.8,576.5 211.1,576.5 216.4,576.5 221.8,576.5 227.1,576.5 232.4,576.5 237.8,576.5 243.1,576.5 248.4,576.5 253.8,576.5 259.1,576.5 264.4,576.5 269.8,576.5 275.1,576.5 280.4,576.5 285.8,576.5 291.1,576.5 296.4,576.5 301.8,576.5 307.1,576.5 312.5,576.5 317.8,576.5 323.1,576.5 328.5,576.5 333.8,576.5 339.1,576.5 344.5,576.5 349.8,576.5 355.1,576.5 360.5,576.5 365.8,576.5 371.1,576.5 376.5,576.5 381.8,576.5 387.1,576.5 392.5,576.5 397.8,576.5 403.1,576.5 408.5,576.5 413.8,576.5 419.1,576.5 424.5,576.4 429.8,576.4 435.2,576.3 440.5,576.2 445.8,576.1 451.2,575.8 456.5,575.5 461.8,575.1 467.2,574.6 472.5,573.9 477.8,573.1 483.2,572.1 488.5,571.0 493.8,569.7 499.2,568.3 504.5,566.8 509.8,565.2 515.2,563.4 520.5,561.6 525.9,559.7 531.2,557.7 536.5,555.6 541.9,553.4 547.2,551.1 552.5,548.8 557.9,546.4 563.2,544.0 568.5,541.5 573.9,538.9 579.2,536.2 584.5,533.5 589.9,530.8 595.2,527.9 600.5,525.1 605.9,522.1 611.2,519.1 616.5,516.1 621.9,513.0 627.2,509.9 632.5,506.7 637.9,503.4 643.2,500.1 648.6,496.8 653.9,493.4 659.2,490.0 664.6,486.5 669.9,483.0 671.2,482.1" stroke="#88edb4"/>
<polyline points="152.4,576.5 157.7,576.5 163.1,576.5 168.4,576.5 173.7,576.5 179.1,576.5 184.4,576.5 189.7,576.5 195.1,576.5 200.4,576.5 205.8,576.5 211.1,576.5 216.4,576.5 221.8,576.5 227.1,576.5 232.4,576.5 237.8,576.5 243.1,576.5 248.4,576.5 253.8,576.5 259.1,576.5 264.4,576.5 269.8,576.5 275.1,576.5 280.4,576.5 285.8,576.5 291.1,576.5 296.4,576.5 301.8,576.5 307.1,576.5 312.5,576.5 317.8,576.5 323.1,576.5 328.5,576.5 333.8,576.5 339.1,576.5 344.5,576.5 349.8,576.5 355.1,576.5 360.5,576.5 365.8,576.5 371.1,576.5 376.5,576.5 381.8,576.5 387.1,576.5 392.5,576.5 397.8,576.5 403.1,576.5 408.5,576.5 413.8,576.5 419.1,576.5 424.5,576.5 429.8,576.5 435.2,576.5 440.5,576.5 445.8,576.5 451.2,576.5 456.5,576.5 461.8,576.5 467.2,576.5 472.5,576.5 477.8,576.5 483.2,576.5 488.5,576.5 493.8,576.5 499.2,576.5 504.5,576.5 509.8,576.4 515.2,576.4 520.5,576.4 525.9,576.3 531.2,576.2 536.5,576.0 541.9,575.8 547.2,575.4 552.5,575.0 557.9,574.5 563.2,573.9 568.5,573.1 573.9,572.2 579.2,571.3 584.5,570.2 589.9,569.0 595.2,567.7 600.5,566.4 605.9,564.9 611.2,563.4 616.5,561.9 621.9,560.2 627.2,558.6 632.5,556.8 637.9,555.0 643.2,553.1 648.6,551.2 653.9,549.3 659.2,547.2 664.6,545.2 669.9,543.1 675.2,540.9 680.6,538.7 685.9,536.5 691.2,534.2 696.6,531.9 701.9,529.5 707.2,527.1 712.6,524.7 717.9,522.2 723.2,519.6 728.6,517.1 733.9,514.5 739.2,511.8 744.6,509.2 749.9,506.5 755.3,503.7 760.6,500.9 765.9,498.1 768.1,497.0" stroke="#88edb4"/>
<polyline points="152.4,576.5 157.7,576.5 163.1,576.5 168.4,576.5 173.7,576.5 179.1,576.5 184.4,576.5 189.7,576.5 195.1,576.5 200.4,576.5 205.8,576.5 211.1,576.5 216.4,576.5 221.8,576.5 227.1,576.5 232.4,576.5 237.8,576.5 243.1,576.5 248.4,576.5 253.8,576.5 259.1,576.5 264.4,576.5 269.8,576.5 275.1,576.5 280.4,576.5 285.8,576.5 291.1,576.5 296.4,576.5 301.8,576.5 307.1,576.5 312.5,576.5 317.8,576.5 323.1,576.5 328.5,576.5 333.8,576.5 339.1,576.5 344.5,576.5 349.8,576.5 355.1,576.5 360.5,576.5 365.8,576.5 371.1,576.5 376.5,576.5 381.8,576.5 387.1,576.5 392.5,576.5 397.8,576.5 403.1,576.5 408.5,576.5 413.8,576.5 419.1,576.5 424.5,576.5 429.8,576.5 435.2,576.5 440.5,576.5 445.8,576.5 451.2,576.5 456.5,576.5 461.8,576.5 467.2,576.5 472.5,576.5 477.8,576.5 483.2,576.5 488.5,576.5 493.8,576.5 499.2,576.5 504.5,576.5 509.8,576.5 515.2,576.5 520.5,576.5 525.9,576.5 531.2,576.5 536.5,576.5 541.9,576.5 547.2,576.5 552.5,576.5 557.9,576.5 563.2,576.5 568.5,576.5 573.9,576.5 579.2,576.5 584.5,576.5 589.9,576.5 595.2,576.5 600.5,576.5 605.9,576.5 611.2,576.5 616.5,576.5 621.9,576.5 627.2,576.5 632.5,576.5 637.9,576.4 643.2,576.4 648.6,576.4 653.9,576.3 659.2,576.2 664.6,576.1 669.9,575.9 675.2,575.7 680.6,575.4 685.9,575.1 691.2,574.7 696.6,574.3 701.9,573.8 707.2,573.3 712.6,572.8 717.9,572.2 723.2,571.5 728.6,570.9 733.9,570.2 739.2,569.5 744.6,568.7 749.9,567.9 755.3,567.1 760.6,566.3 765.9,565.5 771.3,564.6 776.6,563.7 781.9,562.8 787.3,561.9 792.6,560.9" stroke="#88edb4"/>
<polyline points="152.4,576.5 157.7,551.5 163.1,524.8 168.4,497.1 173.7,469.3 179.1,442.0 184.4,415.7 189.7,390.6 195.1,366.9 200.4,344.7 205.8,324.0 211.1,304.7 216.4,286.7 221.8,270.0 227.1,254.4 232.4,239.8 237.8,226.2 243.1,213.5 248.4,201.5 253.8,190.3 259.1,179.8 264.4,169.8 269.8,160.4 270.0,160.0" stroke="#3cd8cc"/>
<polyline points="152.4,576.5 157.7,565.5 163.1,553.2 168.4,539.9 173.7,525.9 179.1,511.5 184.4,496.9 189.7,482.4 195.1,468.0 200.4,454.0 205.8,440.4 211.1,427.2 216.4,414.4 221.8,402.1 227.1,390.2 232.4,378.7 237.8,367.7 243.1,357.1 248.4,346.9 253.8,337.1 259.1,327.6 264.4,318.4 269.8,309.6 275.1,301.1 280.4,292.8 285.8,284.9 291.1,277.2 296.4,269.7 301.8,262.5 305.8,257.2" stroke="#3cd8cc"/>
<polyline points="152.4,576.5 157.7,572.1 163.1,567.2 168.4,561.6 173.7,555.6 179.1,549.3 184.4,542.6 189.7,535.7 195.1,528.7 200.4,521.6 205.8,514.5 211.1,507.3 216.4,500.2 221.8,493.1 227.1,486.1 232.4,479.0 237.8,472.1 243.1,465.2 248.4,458.4 253.8,451.6 259.1,444.9 264.4,438.3 269.8,431.7 275.1,425.2 280.4,418.8 285.8,412.4 291.1,406.1 296.4,399.8 301.8,393.6 307.1,387.5 312.5,381.4 317.8,375.4 323.1,369.4 328.5,363.5 333.8,357.7 339.1,351.9 344.5,346.2 349.8,340.5 355.1,334.9" stroke="#3cd8cc"/>
<polyline points="152.4,576.5 157.7,576.4 163.1,576.3 168.4,576.2 173.7,576.0 179.1,575.7 184.4,575.2 189.7,574.6 195.1,573.8 200.4,572.7 205.8,571.4 211.1,569.7 216.4,567.7 221.8,565.3 227.1,562.7 232.4,559.8 237.8,556.6 243.1,553.3 248.4,549.7 253.8,546.1 259.1,542.3 264.4,538.3 269.8,534.3 275.1,530.2 280.4,526.1 285.8,521.9 291.1,517.6 296.4,513.3 301.8,508.9 307.1,504.5 312.5,500.0 317.8,495.5 323.1,491.0 328.5,486.4 333.8,481.8 339.1,477.2 344.5,472.5 349.8,467.8 355.1,463.1 360.5,458.3 365.8,453.5 371.1,448.7 376.5,443.9 381.8,439.0 387.1,434.2 392.5,429.2 397.8,424.3 403.1,419.4 408.5,414.4 413.8,409.4 419.1,404.4 424.5,399.3 426.2,397.7" stroke="#3cd8cc"/>
<polyline points="152.4,576.5 157.7,576.5 163.1,576.5 168.4,576.5 173.7,576.5 179.1,576.5 184.4,576.5 189.7,576.5 195.1,576.5 200.4,576.5 205.8,576.5 211.1,576.5 216.4,576.5 221.8,576.5 227.1,576.5 232.4,576.5 237.8,576.5 243.1,576.4 248.4,576.4 253.8,576.3 259.1,576.2 264.4,576.1 269.8,575.9 275.1,575.6 280.4,575.2 285.8,574.7 291.1,574.0 296.4,573.1 301.8,572.0 307.1,570.7 312.5,569.2 317.8,567.6 323.1,565.7 328.5,563.8 333.8,561.6 339.1,559.4 344.5,557.0 349.8,554.6 355.1,552.0 360.5,549.4 365.8,546.6 371.1,543.8 376.5,541.0 381.8,538.0 387.1,535.0 392.5,532.0 397.8,528.9 403.1,525.7 408.5,522.5 413.8,519.2 419.1,515.9 424.5,512.5 429.8,509.1 435.2,505.6 440.5,502.1 445.8,498.5 451.2,494.9 456.5,491.3 461.8,487.6 467.2,483.8 472.5,480.1 477.8,476.3 483.2,472.4 488.5,468.5 493.8,464.6 499.2,460.6 504.5,456.7 509.8,452.6 515.2,448.6 520.5,444.5 521.4,443.8" stroke="#3cd8cc"/>
<polyline points="152.4,576.5 157.7,576.5 163.1,576.5 168.4,576.5 173.7,576.5 179.1,576.5 184.4,576.5 189.7,576.5 195.1,576.5 200.4,576.5 205.8,576.5 211.1,576.5 216.4,576.5 221.8,576.5 227.1,576.5 232.4,576.5 237.8,576.5 243.1,576.5 248.4,576.5 253.8,576.5 259.1,576.5 264.4,576.5 269.8,576.5 275.1,576.5 280.4,576.5 285.8,576.5 291.1,576.5 296.4,576.5 301.8,576.5 307.1,576.5 312.5,576.5 317.8,576.5 323.1,576.5 328.5,576.5 333.8,576.5 339.1,576.5 344.5,576.5 349.8,576.5 355.1,576.5 360.5,576.5 365.8,576.5 371.1,576.5 376.5,576.5 381.8,576.4 387.1,576.4 392.5,576.4 397.8,576.3 403.1,576.2 408.5,576.0 413.8,575.7 419.1,575.4 424.5,574.9 429.8,574.3 435.2,573.6 440.5,572.7 445.8,571.6 451.2,570.4 456.5,569.1 461.8,567.6 467.2,566.0 472.5,564.3 477.8,562.5 483.2,560.6 488.5,558.6 493.8,556.6 499.2,554.4 504.5,552.2 509.8,549.8 515.2,547.5 520.5,545.0 525.9,542.5 531.2,539.9 536.5,537.2 541.9,534.5 547.2,531.7 552.5,528.9 557.9,526.0 563.2,523.1 568.5,520.1 573.9,517.0 579.2,513.9 584.5,510.7 589.9,507.5 595.2,504.2 600.5,500.9 605.9,497.5 611.2,494.1 616.5,490.7 621.9,487.2 627.2,483.6 632.5,480.0 637.9,476.4 638.7,475.8" stroke="#3cd8cc"/>
<polyline points="152.4,576.5 157.7,576.5 163.1,576.5 168.4,576.5 173.7,576.5 179.1,576.5 184.4,576.5 189.7,576.5 195.1,576.5 200.4,576.5 205.8,576.5 211.1,576.5 216.4,576.5 221.8,576.5 227.1,576.5 232.4,576.5 237.8,576.5 243.1,576.5 248.4,576.5 253.8,576.5 259.1,576.5 264.4,576.5 269.8,576.5 275.1,576.5 280.4,576.5 285.8,576.5 291.1,576.5 296.4,576.5 301.8,576.5 307.1,576.5 312.5,576.5 317.8,576.5 323.1,576.5 328.5,576.5 333.8,576.5 339.1,576.5 344.5,576.5 349.8,576.5 355.1,576.5 360.5,576.5 365.8,576.5 371.1,576.5 376.5,576.5 381.8,576.5 387.1,576.5 392.5,576.5 397.8,576.5 403.1,576.5 408.5,576.5 413.8,576.5 419.1,576.5 424.5,576.5 429.8,576.5 435.2,576.5 440.5,576.5 445.8,576.5 451.2,576.5 456.5,576.5 461.8,576.5 467.2,576.5 472.5,576.5 477.8,576.5 483.2,576.5 488.5,576.5 493.8,576.5 499.2,576.5 504.5,576.5 509.8,576.5 515.2,576.5 520.5,576.5 525.9,576.5 531.2,576.5 536.5,576.5 541.9,576.5 547.2,576.5 552.5,576.5 557.9,576.5 563.2,576.5 568.5,576.5 573.9,576.5 579.2,576.5 584.5,576.5 589.9,576.5 595.2,576.5 600.5,576.4 605.9,576.4 611.2,576.3 616.5,576.2 621.9,576.1 627.2,575.9 632.5,575.6 637.9,575.3 643.2,574.9 648.6,574.5 653.9,573.9 659.2,573.3 664.6,572.6 669.9,571.9 675.2,571.1 680.6,570.2 685.9,569.3 691.2,568.3 696.6,567.3 701.9,566.2 707.2,565.2 712.6,564.0 717.9,562.9 723.2,561.7 728.6,560.4 733.9,559.1 739.2,557.8 744.6,556.5 749.9,555.1 755.3,553.7 760.6,552.3 765.9,550.9 771.3,549.4 776.6,547.9 781.9,546.3 787.3,544.8 792.6,543.2" stroke="#3cd8cc"/>
<polyline points="152.4,576.5 157.7,576.5 163.1,576.5 168.4,576.5 173.7,576.5 179.1,576.5 184.4,576.5 189.7,576.5 195.1,576.5 200.4,576.5 205.8,576.5 211.1,576.5 216.4,576.5 221.8,576.5 227.1,576.5 232.4,576.5 237.8,576.5 243.1,576.5 248.4,576.5 253.8,576.5 259.1,576.5 264.4,576.5 269.8,576.5 275.1,576.5 280.4,576.5 285.8,576.5 291.1,576.5 296.4,576.5 301.8,576.5 307.1,576.5 312.5,576.5 317.8,576.5 323.1,576.5 328.5,576.5 333.8,576.5 339.1,576.5 344.5,576.5 349.8,576.5 355.1,576.5 360.5,576.5 365.8,576.5 371.1,576.5 376.5,576.5 381.8,576.5 387.1,576.5 392.5,576.5 397.8,576.5 403.1,576.5 408.5,576.5 413.8,576.5 419.1,576.5 424.5,576.5 429.8,576.5 435.2,576.5 440.5,576.5 445.8,576.5 451.2,576.5 456.5,576.5 461.8,576.5 467.2,576.5 472.5,576.5 477.8,576.5 483.2,576.5 488.5,576.5 493.8,576.5 499.2,576.5 504.5,576.5 509.8,576.5 515.2,576.5 520.5,576.5 525.9,576.5 531.2,576.5 536.5,576.5 541.9,576.5 547.2,576.5 552.5,576.5 557.9,576.5 563.2,576.5 568.5,576.5 573.9,576.5 579.2,576.5 584.5,576.5 589.9,576.5 595.2,576.5 600.5,576.5 605.9,576.5 611.2,576.5 616.5,576.5 621.9,576.5 627.2,576.5 632.5,576.5 637.9,576.5 643.2,576.5 648.6,576.5 653.9,576.5 659.2,576.5 664.6,576.5 669.9,576.5 675.2,576.5 680.6,576.5 685.9,576.5 691.2,576.5 696.6,576.5 701.9,576.5 707.2,576.5 712.6,576.5 717.9,576.5 723.2,576.5 728.6,576.4 733.9,576.4 739.2,576.4 744.6,576.3 749.9,576.2 755.3,576.1 760.6,576.0 765.9,575.8 771.3,575.6 776.6,575.4 781.9,575.2 787.3,574.9 792.6,574.7" stroke="#3cd8cc"/>
<polyline points="152.4,576.5 792.6,576.5" stroke="#3cd8cc"/>
<polyline points="152.4,576.5 157.7,553.5 163.1,528.7 168.4,503.0 173.7,477.0 179.1,451.2 184.4,426.2 189.7,402.3 195.1,379.6 200.4,358.3 205.8,338.2 211.1,319.5 216.4,302.0 221.8,285.6 227.1,270.3 232.4,255.9 237.8,242.5 243.1,229.8 248.4,218.0 253.8,206.8 259.1,196.2 264.4,186.3 269.8,176.9 273.2,171.1" stroke="#12a8dc"/>
<polyline points="152.4,576.5 157.7,565.3 163.1,552.8 168.4,539.4 173.7,525.2 179.1,510.6 184.4,495.8 189.7,481.1 195.1,466.6 200.4,452.4 205.8,438.7 211.1,425.3 216.4,412.4 221.8,400.0 227.1,388.1 232.4,376.5 237.8,365.5 243.1,354.8 248.4,344.5 253.8,334.6 259.1,325.1 264.4,315.9 269.8,307.0 275.1,298.5 280.4,290.2 285.8,282.2 291.1,274.5 296.4,267.0 301.8,259.8 305.0,255.6" stroke="#12a8dc"/>
<polyline points="152.4,576.5 157.7,571.9 163.1,566.6 168.4,560.7 173.7,554.4 179.1,547.6 184.4,540.6 189.7,533.4 195.1,526.0 200.4,518.5 205.8,511.0 211.1,503.5 216.4,496.1 221.8,488.6 227.1,481.3 232.4,474.0 237.8,466.7 243.1,459.5 248.4,452.4 253.8,445.4 259.1,438.5 264.4,431.6 269.8,424.8 275.1,418.1 280.4,411.4 285.8,404.9 291.1,398.3 296.4,391.9 301.8,385.5 307.1,379.2 312.5,373.0 317.8,366.8 323.1,360.7 328.5,354.7 333.8,348.7 339.1,342.8 344.5,337.0 349.8,331.2 351.0,329.9" stroke="#12a8dc"/>
<polyline points="152.4,576.5 157.7,576.3 163.1,576.1 168.4,575.7 173.7,575.1 179.1,574.4 184.4,573.4 189.7,572.1 195.1,570.4 200.4,568.4 205.8,566.1 211.1,563.4 216.4,560.4 221.8,557.1 227.1,553.6 232.4,549.9 237.8,546.0 243.1,542.0 248.4,537.8 253.8,533.6 259.1,529.2 264.4,524.8 269.8,520.4 275.1,515.8 280.4,511.3 285.8,506.7 291.1,502.0 296.4,497.3 301.8,492.6 307.1,487.8 312.5,483.0 317.8,478.2 323.1,473.3 328.5,468.5 333.8,463.5 339.1,458.6 344.5,453.6 349.8,448.7 355.1,443.7 360.5,438.6 365.8,433.6 371.1,428.5 376.5,423.4 381.8,418.3 387.1,413.2 392.5,408.0 397.8,402.9 403.1,397.7 408.5,392.5 412.7,388.4" stroke="#12a8dc"/>
<polyline points="152.4,576.5 157.7,576.5 163.1,576.5 168.4,576.5 173.7,576.5 179.1,576.5 184.4,576.5 189.7,576.5 195.1,576.5 200.4,576.5 205.8,576.4 211.1,576.4 216.4,576.3 221.8,576.2 227.1,576.1 232.4,575.9 237.8,575.6 243.1,575.2 248.4,574.7 253.8,574.0 259.1,573.1 264.4,572.0 269.8,570.7 275.1,569.1 280.4,567.3 285.8,565.3 291.1,563.2 296.4,560.8 301.8,558.4 307.1,555.8 312.5,553.1 317.8,550.3 323.1,547.4 328.5,544.4 333.8,541.4 339.1,538.3 344.5,535.1 349.8,531.8 355.1,528.6 360.5,525.2 365.8,521.8 371.1,518.3 376.5,514.8 381.8,511.3 387.1,507.7 392.5,504.1 397.8,500.4 403.1,496.7 408.5,492.9 413.8,489.1 419.1,485.3 424.5,481.4 429.8,477.5 435.2,473.6 440.5,469.6 445.8,465.6 451.2,461.6 456.5,457.5 461.8,453.4 467.2,449.2 472.5,445.1 477.8,440.9 483.2,436.6 488.5,432.4 489.8,431.3" stroke="#12a8dc"/>
<polyline points="152.4,576.5 157.7,576.5 163.1,576.5 168.4,576.5 173.7,576.5 179.1,576.5 184.4,576.5 189.7,576.5 195.1,576.5 200.4,576.5 205.8,576.5 211.1,576.5 216.4,576.5 221.8,576.5 227.1,576.5 232.4,576.5 237.8,576.5 243.1,576.5 248.4,576.5 253.8,576.5 259.1,576.5 264.4,576.5 269.8,576.5 275.1,576.5 280.4,576.5 285.8,576.5 291.1,576.5 296.4,576.5 301.8,576.5 307.1,576.5 312.5,576.4 317.8,576.4 323.1,576.4 328.5,576.3 333.8,576.2 339.1,576.0 344.5,575.7 349.8,575.4 355.1,574.9 360.5,574.3 365.8,573.5 371.1,572.6 376.5,571.5 381.8,570.2 387.1,568.8 392.5,567.3 397.8,565.6 403.1,563.8 408.5,561.9 413.8,559.9 419.1,557.8 424.5,555.7 429.8,553.4 435.2,551.0 440.5,548.6 445.8,546.1 451.2,543.5 456.5,540.8 461.8,538.1 467.2,535.3 472.5,532.5 477.8,529.6 483.2,526.6 488.5,523.6 493.8,520.5 499.2,517.4 504.5,514.2 509.8,510.9 515.2,507.6 520.5,504.2 525.9,500.8 531.2,497.4 536.5,493.9 541.9,490.3 547.2,486.7 552.5,483.0 557.9,479.3 563.2,475.6 568.5,471.8 573.9,467.9 579.2,464.1 581.5,462.4" stroke="#12a8dc"/>
<polyline points="152.4,576.5 157.7,576.5 163.1,576.5 168.4,576.5 173.7,576.5 179.1,576.5 184.4,576.5 189.7,576.5 195.1,576.5 200.4,576.5 205.8,576.5 211.1,576.5 216.4,576.5 221.8,576.5 227.1,576.5 232.4,576.5 237.8,576.5 243.1,576.5 248.4,576.5 253.8,576.5 259.1,576.5 264.4,576.5 269.8,576.5 275.1,576.5 280.4,576.5 285.8,576.5 291.1,576.5 296.4,576.5 301.8,576.5 307.1,576.5 312.5,576.5 317.8,576.5 323.1,576.5 328.5,576.5 333.8,576.5 339.1,576.5 344.5,576.5 349.8,576.5 355.1,576.5 360.5,576.5 365.8,576.5 371.1,576.5 376.5,576.5 381.8,576.5 387.1,576.5 392.5,576.5 397.8,576.5 403.1,576.5 408.5,576.5 413.8,576.5 419.1,576.5 424.5,576.5 429.8,576.5 435.2,576.4 440.5,576.4 445.8,576.4 451.2,576.3 456.5,576.2 461.8,576.0 467.2,575.7 472.5,575.4 477.8,574.9 483.2,574.4 488.5,573.6 493.8,572.7 499.2,571.7 504.5,570.5 509.8,569.2 515.2,567.8 520.5,566.2 525.9,564.6 531.2,562.8 536.5,560.9 541.9,559.0 547.2,557.0 552.5,554.8 557.9,552.6 563.2,550.4 568.5,548.0 573.9,545.6 579.2,543.2 584.5,540.6 589.9,538.0 595.2,535.4 600.5,532.6 605.9,529.9 611.2,527.0 616.5,524.2 621.9,521.2 627.2,518.2 632.5,515.2 637.9,512.1 643.2,508.9 648.6,505.7 653.9,502.5 659.2,499.2 664.6,495.9 669.9,492.5 675.2,489.0 680.6,485.6 682.7,484.1" stroke="#12a8dc"/>
<polyline points="152.4,576.5 157.7,576.5 163.1,576.5 168.4,576.5 173.7,576.5 179.1,576.5 184.4,576.5 189.7,576.5 195.1,576.5 200.4,576.5 205.8,576.5 211.1,576.5 216.4,576.5 221.8,576.5 227.1,576.5 232.4,576.5 237.8,576.5 243.1,576.5 248.4,576.5 253.8,576.5 259.1,576.5 264.4,576.5 269.8,576.5 275.1,576.5 280.4,576.5 285.8,576.5 291.1,576.5 296.4,576.5 301.8,576.5 307.1,576.5 312.5,576.5 317.8,576.5 323.1,576.5 328.5,576.5 333.8,576.5 339.1,576.5 344.5,576.5 349.8,576.5 355.1,576.5 360.5,576.5 365.8,576.5 371.1,576.5 376.5,576.5 381.8,576.5 387.1,576.5 392.5,576.5 397.8,576.5 403.1,576.5 408.5,576.5 413.8,576.5 419.1,576.5 424.5,576.5 429.8,576.5 435.2,576.5 440.5,576.5 445.8,576.5 451.2,576.5 456.5,576.5 461.8,576.5 467.2,576.5 472.5,576.5 477.8,576.5 483.2,576.5 488.5,576.5 493.8,576.5 499.2,576.5 504.5,576.5 509.8,576.5 515.2,576.5 520.5,576.5 525.9,576.4 531.2,576.4 536.5,576.4 541.9,576.3 547.2,576.2 552.5,576.0 557.9,575.8 563.2,575.5 568.5,575.1 573.9,574.7 579.2,574.1 584.5,573.4 589.9,572.5 595.2,571.6 600.5,570.6 605.9,569.5 611.2,568.3 616.5,567.1 621.9,565.8 627.2,564.4 632.5,562.9 637.9,561.4 643.2,559.8 648.6,558.2 653.9,556.5 659.2,554.7 664.6,552.9 669.9,551.1 675.2,549.2 680.6,547.3 685.9,545.3 691.2,543.3 696.6,541.3 701.9,539.2 707.2,537.0 712.6,534.9 717.9,532.6 723.2,530.4 728.6,528.1 733.9,525.8 739.2,523.4 744.6,521.0 749.9,518.6 755.3,516.1 760.6,513.6 765.9,511.1 771.3,508.5 776.6,505.9 781.9,503.3 787.3,500.6 789.3,499.6" stroke="#12a8dc"/>
<polyline points="152.4,576.5 157.7,576.5 163.1,576.5 168.4,576.5 173.7,576.5 179.1,576.5 184.4,576.5 189.7,576.5 195.1,576.5 200.4,576.5 205.8,576.5 211.1,576.5 216.4,576.5 221.8,576.5 227.1,576.5 232.4,576.5 237.8,576.5 243.1,576.5 248.4,576.5 253.8,576.5 259.1,576.5 264.4,576.5 269.8,576.5 275.1,576.5 280.4,576.5 285.8,576.5 291.1,576.5 296.4,576.5 301.8,576.5 307.1,576.5 312.5,576.5 317.8,576.5 323.1,576.5 328.5,576.5 333.8,576.5 339.1,576.5 344.5,576.5 349.8,576.5 355.1,576.5 360.5,576.5 365.8,576.5 371.1,576.5 376.5,576.5 381.8,576.5 387.1,576.5 392.5,576.5 397.8,576.5 403.1,576.5 408.5,576.5 413.8,576.5 419.1,576.5 424.5,576.5 429.8,576.5 435.2,576.5 440.5,576.5 445.8,576.5 451.2,576.5 456.5,576.5 461.8,576.5 467.2,576.5 472.5,576.5 477.8,576.5 483.2,576.5 488.5,576.5 493.8,576.5 499.2,576.5 504.5,576.5 509.8,576.5 515.2,576.5 520.5,576.5 525.9,576.5 531.2,576.5 536.5,576.5 541.9,576.5 547.2,576.5 552.5,576.5 557.9,576.5 563.2,576.5 568.5,576.5 573.9,576.5 579.2,576.5 584.5,576.5 589.9,576.5 595.2,576.5 600.5,576.5 605.9,576.4 611.2,576.4 616.5,576.4 621.9,576.3 627.2,576.2 632.5,576.1 637.9,575.9 643.2,575.6 648.6,575.3 653.9,574.9 659.2,574.5 664.6,573.9 669.9,573.3 675.2,572.7 680.6,572.0 685.9,571.2 691.2,570.4 696.6,569.5 701.9,568.6 707.2,567.7 712.6,566.7 717.9,565.6 723.2,564.6 728.6,563.5 733.9,562.4 739.2,561.2 744.6,560.0 749.9,558.8 755.3,557.5 760.6,556.3 765.9,555.0 771.3,553.6 776.6,552.3 781.9,550.9 787.3,549.5 792.6,548.0" stroke="#12a8dc"/>
<polyline points="152.4,576.5 157.7,556.7 163.1,535.2 168.4,512.6 173.7,489.6 179.1,466.6 184.4,444.0 189.7,422.3 195.1,401.4 200.4,381.7 205.8,363.0 211.1,345.3 216.4,328.8 221.8,313.1 227.1,298.5 232.4,284.6 237.8,271.6 243.1,259.3 248.4,247.7 253.8,236.7 259.1,226.3 264.4,216.4 269.8,207.1 275.1,198.2 279.5,191.2" stroke="#4458d8"/>
<polyline points="152.4,576.5 157.7,568.2 163.1,558.8 168.4,548.6 173.7,537.7 179.1,526.3 184.4,514.7 189.7,502.9 195.1,491.2 200.4,479.6 205.8,468.1 211.1,456.9 216.4,446.0 221.8,435.3 227.1,424.9 232.4,414.7 237.8,404.9 243.1,395.3 248.4,386.0 253.8,376.9 259.1,368.1 264.4,359.5 269.8,351.2 275.1,343.1 280.4,335.2 285.8,327.5 291.1,320.0 296.4,312.7 301.8,305.5 307.1,298.6 312.5,291.8 317.8,285.2 319.4,283.2" stroke="#4458d8"/>
<polyline points="152.4,576.5 157.7,574.5 163.1,571.9 168.4,568.8 173.7,565.2 179.1,561.2 184.4,556.8 189.7,552.1 195.1,547.1 200.4,541.9 205.8,536.5 211.1,531.1 216.4,525.5 221.8,520.0 227.1,514.3 232.4,508.7 237.8,503.0 243.1,497.4 248.4,491.7 253.8,486.1 259.1,480.4 264.4,474.8 269.8,469.2 275.1,463.6 280.4,458.1 285.8,452.5 291.1,447.0 296.4,441.5 301.8,436.0 307.1,430.5 312.5,425.1 317.8,419.6 323.1,414.2 328.5,408.8 333.8,403.5 339.1,398.2 344.5,392.8 349.8,387.6 355.1,382.3 360.5,377.1 365.8,371.8 371.1,366.6 376.5,361.5 378.3,359.7" stroke="#4458d8"/>
<polyline points="152.4,576.5 157.7,576.5 163.1,576.5 168.4,576.5 173.7,576.5 179.1,576.4 184.4,576.4 189.7,576.3 195.1,576.2 200.4,576.1 205.8,575.9 211.1,575.6 216.4,575.2 221.8,574.6 227.1,573.8 232.4,572.8 237.8,571.6 243.1,570.1 248.4,568.3 253.8,566.3 259.1,564.0 264.4,561.6 269.8,558.9 275.1,556.1 280.4,553.1 285.8,550.0 291.1,546.8 296.4,543.5 301.8,540.1 307.1,536.6 312.5,533.1 317.8,529.5 323.1,525.8 328.5,522.1 333.8,518.3 339.1,514.5 344.5,510.6 349.8,506.7 355.1,502.8 360.5,498.8 365.8,494.8 371.1,490.7 376.5,486.6 381.8,482.4 387.1,478.3 392.5,474.0 397.8,469.8 403.1,465.5 408.5,461.2 413.8,456.9 419.1,452.5 424.5,448.1 429.8,443.7 435.2,439.2 440.5,434.7 445.8,430.2 451.2,425.7 456.5,421.1 460.6,417.6" stroke="#4458d8"/>
<polyline points="152.4,576.5 157.7,576.5 163.1,576.5 168.4,576.5 173.7,576.5 179.1,576.5 184.4,576.5 189.7,576.5 195.1,576.5 200.4,576.5 205.8,576.5 211.1,576.5 216.4,576.5 221.8,576.5 227.1,576.5 232.4,576.5 237.8,576.5 243.1,576.5 248.4,576.5 253.8,576.5 259.1,576.5 264.4,576.5 269.8,576.5 275.1,576.5 280.4,576.5 285.8,576.5 291.1,576.5 296.4,576.5 301.8,576.4 307.1,576.4 312.5,576.3 317.8,576.2 323.1,576.1 328.5,575.9 333.8,575.6 339.1,575.2 344.5,574.6 349.8,573.9 355.1,573.0 360.5,572.0 365.8,570.8 371.1,569.5 376.5,568.0 381.8,566.3 387.1,564.5 392.5,562.6 397.8,560.6 403.1,558.5 408.5,556.3 413.8,554.0 419.1,551.7 424.5,549.2 429.8,546.7 435.2,544.1 440.5,541.4 445.8,538.7 451.2,535.9 456.5,533.0 461.8,530.1 467.2,527.1 472.5,524.1 477.8,521.0 483.2,517.8 488.5,514.6 493.8,511.3 499.2,508.0 504.5,504.6 509.8,501.2 515.2,497.8 520.5,494.2 525.9,490.7 531.2,487.1 536.5,483.4 541.9,479.7 547.2,476.0 552.5,472.2 557.9,468.3 563.2,464.4 568.5,460.5 570.2,459.3" stroke="#4458d8"/>
<polyline points="152.4,576.5 157.7,576.5 163.1,576.5 168.4,576.5 173.7,576.5 179.1,576.5 184.4,576.5 189.7,576.5 195.1,576.5 200.4,576.5 205.8,576.5 211.1,576.5 216.4,576.5 221.8,576.5 227.1,576.5 232.4,576.5 237.8,576.5 243.1,576.5 248.4,576.5 253.8,576.5 259.1,576.5 264.4,576.5 269.8,576.5 275.1,576.5 280.4,576.5 285.8,576.5 291.1,576.5 296.4,576.5 301.8,576.5 307.1,576.5 312.5,576.5 317.8,576.5 323.1,576.5 328.5,576.5 333.8,576.5 339.1,576.5 344.5,576.5 349.8,576.5 355.1,576.5 360.5,576.5 365.8,576.5 371.1,576.5 376.5,576.5 381.8,576.5 387.1,576.5 392.5,576.5 397.8,576.5 403.1,576.5 408.5,576.5 413.8,576.5 419.1,576.5 424.5,576.5 429.8,576.5 435.2,576.5 440.5,576.5 445.8,576.5 451.2,576.5 456.5,576.5 461.8,576.4 467.2,576.4 472.5,576.4 477.8,576.3 483.2,576.1 488.5,576.0 493.8,575.7 499.2,575.3 504.5,574.9 509.8,574.3 515.2,573.5 520.5,572.7 525.9,571.6 531.2,570.5 536.5,569.2 541.9,567.8 547.2,566.3 552.5,564.7 557.9,562.9 563.2,561.1 568.5,559.3 573.9,557.3 579.2,555.2 584.5,553.1 589.9,550.9 595.2,548.7 600.5,546.4 605.9,544.0 611.2,541.5 616.5,539.0 621.9,536.5 627.2,533.9 632.5,531.2 637.9,528.5 643.2,525.7 648.6,522.9 653.9,520.0 659.2,517.1 664.6,514.1 669.9,511.1 675.2,508.0 680.6,504.9 685.9,501.7 691.2,498.5 696.6,495.2 701.9,491.9 707.2,488.6 707.7,488.3" stroke="#4458d8"/>
<polyline points="152.4,576.5 157.7,576.5 163.1,576.5 168.4,576.5 173.7,576.5 179.1,576.5 184.4,576.5 189.7,576.5 195.1,576.5 200.4,576.5 205.8,576.5 211.1,576.5 216.4,576.5 221.8,576.5 227.1,576.5 232.4,576.5 237.8,576.5 243.1,576.5 248.4,576.5 253.8,576.5 259.1,576.5 264.4,576.5 269.8,576.5 275.1,576.5 280.4,576.5 285.8,576.5 291.1,576.5 296.4,576.5 301.8,576.5 307.1,576.5 312.5,576.5 317.8,576.5 323.1,576.5 328.5,576.5 333.8,576.5 339.1,576.5 344.5,576.5 349.8,576.5 355.1,576.5 360.5,576.5 365.8,576.5 371.1,576.5 376.5,576.5 381.8,576.5 387.1,576.5 392.5,576.5 397.8,576.5 403.1,576.5 408.5,576.5 413.8,576.5 419.1,576.5 424.5,576.5 429.8,576.5 435.2,576.5 440.5,576.5 445.8,576.5 451.2,576.5 456.5,576.5 461.8,576.5 467.2,576.5 472.5,576.5 477.8,576.5 483.2,576.5 488.5,576.5 493.8,576.5 499.2,576.5 504.5,576.5 509.8,576.5 515.2,576.5 520.5,576.5 525.9,576.5 531.2,576.5 536.5,576.5 541.9,576.5 547.2,576.5 552.5,576.5 557.9,576.5 563.2,576.5 568.5,576.5 573.9,576.5 579.2,576.5 584.5,576.5 589.9,576.4 595.2,576.4 600.5,576.3 605.9,576.2 611.2,576.1 616.5,575.9 621.9,575.7 627.2,575.4 632.5,575.0 637.9,574.5 643.2,573.9 648.6,573.3 653.9,572.6 659.2,571.8 664.6,571.0 669.9,570.1 675.2,569.2 680.6,568.2 685.9,567.1 691.2,566.0 696.6,564.9 701.9,563.7 707.2,562.4 712.6,561.2 717.9,559.9 723.2,558.5 728.6,557.2 733.9,555.8 739.2,554.3 744.6,552.9 749.9,551.4 755.3,549.8 760.6,548.3 765.9,546.7 771.3,545.1 776.6,543.4 781.9,541.7 787.3,540.0 792.6,538.3" stroke="#4458d8"/>
<polyline points="152.4,576.5 157.7,576.5 163.1,576.5 168.4,576.5 173.7,576.5 179.1,576.5 184.4,576.5 189.7,576.5 195.1,576.5 200.4,576.5 205.8,576.5 211.1,576.5 216.4,576.5 221.8,576.5 227.1,576.5 232.4,576.5 237.8,576.5 243.1,576.5 248.4,576.5 253.8,576.5 259.1,576.5 264.4,576.5 269.8,576.5 275.1,576.5 280.4,576.5 285.8,576.5 291.1,576.5 296.4,576.5 301.8,576.5 307.1,576.5 312.5,576.5 317.8,576.5 323.1,576.5 328.5,576.5 333.8,576.5 339.1,576.5 344.5,576.5 349.8,576.5 355.1,576.5 360.5,576.5 365.8,576.5 371.1,576.5 376.5,576.5 381.8,576.5 387.1,576.5 392.5,576.5 397.8,576.5 403.1,576.5 408.5,576.5 413.8,576.5 419.1,576.5 424.5,576.5 429.8,576.5 435.2,576.5 440.5,576.5 445.8,576.5 451.2,576.5 456.5,576.5 461.8,576.5 467.2,576.5 472.5,576.5 477.8,576.5 483.2,576.5 488.5,576.5 493.8,576.5 499.2,576.5 504.5,576.5 509.8,576.5 515.2,576.5 520.5,576.5 525.9,576.5 531.2,576.5 536.5,576.5 541.9,576.5 547.2,576.5 552.5,576.5 557.9,576.5 563.2,576.5 568.5,576.5 573.9,576.5 579.2,576.5 584.5,576.5 589.9,576.5 595.2,576.5 600.5,576.5 605.9,576.5 611.2,576.5 616.5,576.5 621.9,576.5 627.2,576.5 632.5,576.5 637.9,576.5 643.2,576.5 648.6,576.5 653.9,576.5 659.2,576.5 664.6,576.5 669.9,576.5 675.2,576.5 680.6,576.5 685.9,576.5 691.2,576.5 696.6,576.5 701.9,576.5 707.2,576.5 712.6,576.5 717.9,576.5 723.2,576.5 728.6,576.4 733.9,576.4 739.2,576.4 744.6,576.3 749.9,576.2 755.3,576.1 760.6,576.0 765.9,575.8 771.3,575.6 776.6,575.4 781.9,575.2 787.3,574.9 792.6,574.7" stroke="#4458d8"/>
<polyline points="152.4,576.5 792.6,576.5" stroke="#4458d8"/>
<polyline points="152.4,576.5 157.7,552.4 163.1,526.6 168.4,499.9 173.7,472.9 179.1,446.3 184.4,420.6 189.7,396.0 195.1,372.8 200.4,351.0 205.8,330.6 211.1,311.5 216.4,293.8 221.8,277.2 227.1,261.7 232.4,247.2 237.8,233.7 243.1,221.0 248.4,209.1 253.8,197.9 259.1,187.3 264.4,177.4 269.8,168.0 271.4,165.2" stroke="#6004cc"/>
<polyline points="152.4,576.5 157.7,565.7 163.1,553.6 168.4,540.6 173.7,526.8 179.1,512.6 184.4,498.3 189.7,483.9 195.1,469.8 200.4,456.0 205.8,442.5 211.1,429.4 216.4,416.8 221.8,404.6 227.1,392.8 232.4,381.5 237.8,370.6 243.1,360.0 248.4,349.9 253.8,340.1 259.1,330.7 264.4,321.6 269.8,312.8 275.1,304.3 280.4,296.1 285.8,288.2 291.1,280.5 296.4,273.1 301.8,265.9 306.8,259.3" stroke="#6004cc"/>
<polyline points="152.4,576.5 157.7,572.0 163.1,566.8 168.4,561.0 173.7,554.7 179.1,548.1 184.4,541.2 189.7,534.0 195.1,526.7 200.4,519.4 205.8,512.0 211.1,504.6 216.4,497.2 221.8,489.9 227.1,482.6 232.4,475.4 237.8,468.2 243.1,461.1 248.4,454.1 253.8,447.1 259.1,440.3 264.4,433.5 269.8,426.7 275.1,420.0 280.4,413.5 285.8,406.9 291.1,400.5 296.4,394.1 301.8,387.8 307.1,381.5 312.5,375.3 317.8,369.2 323.1,363.1 328.5,357.1 333.8,351.2 339.1,345.3 344.5,339.5 349.8,333.7 352.1,331.3" stroke="#6004cc"/>
<polyline points="152.4,576.5 157.7,576.4 163.1,576.1 168.4,575.8 173.7,575.3 179.1,574.7 184.4,573.8 189.7,572.6 195.1,571.2 200.4,569.3 205.8,567.2 211.1,564.7 216.4,561.8 221.8,558.7 227.1,555.3 232.4,551.7 237.8,548.0 243.1,544.0 248.4,540.0 253.8,535.8 259.1,531.6 264.4,527.2 269.8,522.8 275.1,518.4 280.4,513.9 285.8,509.3 291.1,504.7 296.4,500.1 301.8,495.4 307.1,490.7 312.5,485.9 317.8,481.1 323.1,476.3 328.5,471.5 333.8,466.6 339.1,461.7 344.5,456.8 349.8,451.8 355.1,446.9 360.5,441.9 365.8,436.9 371.1,431.8 376.5,426.8 381.8,421.7 387.1,416.6 392.5,411.5 397.8,406.3 403.1,401.2 408.5,396.0 413.8,390.8 414.8,389.9" stroke="#6004cc"/>
<polyline points="152.4,576.5 157.7,576.5 163.1,576.5 168.4,576.5 173.7,576.5 179.1,576.5 184.4,576.5 189.7,576.5 195.1,576.5 200.4,576.5 205.8,576.4 211.1,576.4 216.4,576.4 221.8,576.3 227.1,576.2 232.4,576.0 237.8,575.8 243.1,575.5 248.4,575.0 253.8,574.5 259.1,573.7 264.4,572.7 269.8,571.5 275.1,570.1 280.4,568.4 285.8,566.6 291.1,564.6 296.4,562.4 301.8,560.0 307.1,557.5 312.5,554.9 317.8,552.2 323.1,549.4 328.5,546.5 333.8,543.6 339.1,540.5 344.5,537.4 349.8,534.3 355.1,531.1 360.5,527.8 365.8,524.4 371.1,521.1 376.5,517.6 381.8,514.2 387.1,510.6 392.5,507.1 397.8,503.4 403.1,499.8 408.5,496.1 413.8,492.4 419.1,488.6 424.5,484.8 429.8,480.9 435.2,477.1 440.5,473.1 445.8,469.2 451.2,465.2 456.5,461.2 461.8,457.1 467.2,453.0 472.5,448.9 477.8,444.8 483.2,440.6 488.5,436.4 493.1,432.8" stroke="#6004cc"/>
<polyline points="152.4,576.5 157.7,576.5 163.1,576.5 168.4,576.5 173.7,576.5 179.1,576.5 184.4,576.5 189.7,576.5 195.1,576.5 200.4,576.5 205.8,576.5 211.1,576.5 216.4,576.5 221.8,576.5 227.1,576.5 232.4,576.5 237.8,576.5 243.1,576.5 248.4,576.5 253.8,576.5 259.1,576.5 264.4,576.5 269.8,576.5 275.1,576.5 280.4,576.5 285.8,576.5 291.1,576.5 296.4,576.5 301.8,576.5 307.1,576.5 312.5,576.5 317.8,576.5 323.1,576.4 328.5,576.4 333.8,576.3 339.1,576.2 344.5,576.1 349.8,575.9 355.1,575.6 360.5,575.2 365.8,574.7 371.1,574.0 376.5,573.2 381.8,572.2 387.1,571.0 392.5,569.7 397.8,568.3 403.1,566.7 408.5,565.1 413.8,563.2 419.1,561.3 424.5,559.3 429.8,557.2 435.2,555.0 440.5,552.7 445.8,550.4 451.2,547.9 456.5,545.4 461.8,542.9 467.2,540.2 472.5,537.5 477.8,534.7 483.2,531.9 488.5,529.0 493.8,526.0 499.2,523.0 504.5,519.9 509.8,516.7 515.2,513.6 520.5,510.3 525.9,507.0 531.2,503.6 536.5,500.2 541.9,496.8 547.2,493.2 552.5,489.7 557.9,486.1 563.2,482.4 568.5,478.7 573.9,474.9 579.2,471.1 584.5,467.3 588.7,464.2" stroke="#6004cc"/>
<polyline points="152.4,576.5 157.7,576.5 163.1,576.5 168.4,576.5 173.7,576.5 179.1,576.5 184.4,576.5 189.7,576.5 195.1,576.5 200.4,576.5 205.8,576.5 211.1,576.5 216.4,576.5 221.8,576.5 227.1,576.5 232.4,576.5 237.8,576.5 243.1,576.5 248.4,576.5 253.8,576.5 259.1,576.5 264.4,576.5 269.8,576.5 275.1,576.5 280.4,576.5 285.8,576.5 291.1,576.5 296.4,576.5 301.8,576.5 307.1,576.5 312.5,576.5 317.8,576.5 323.1,576.5 328.5,576.5 333.8,576.5 339.1,576.5 344.5,576.5 349.8,576.5 355.1,576.5 360.5,576.5 365.8,576.5 371.1,576.5 376.5,576.5 381.8,576.5 387.1,576.5 392.5,576.5 397.8,576.5 403.1,576.5 408.5,576.5 413.8,576.5 419.1,576.5 424.5,576.5 429.8,576.5 435.2,576.5 440.5,576.5 445.8,576.5 451.2,576.5 456.5,576.4 461.8,576.4 467.2,576.3 472.5,576.2 477.8,576.1 483.2,575.9 488.5,575.6 493.8,575.1 499.2,574.6 504.5,573.9 509.8,573.1 515.2,572.2 520.5,571.1 525.9,569.8 531.2,568.4 536.5,566.9 541.9,565.3 547.2,563.6 552.5,561.8 557.9,559.9 563.2,557.9 568.5,555.9 573.9,553.7 579.2,551.5 584.5,549.2 589.9,546.9 595.2,544.4 600.5,542.0 605.9,539.4 611.2,536.8 616.5,534.1 621.9,531.4 627.2,528.6 632.5,525.8 637.9,522.9 643.2,520.0 648.6,517.0 653.9,513.9 659.2,510.8 664.6,507.7 669.9,504.5 675.2,501.3 680.6,498.0 685.9,494.6 691.2,491.3 696.6,487.8 698.2,486.8" stroke="#6004cc"/>
<polyline points="152.4,576.5 157.7,576.5 163.1,576.5 168.4,576.5 173.7,576.5 179.1,576.5 184.4,576.5 189.7,576.5 195.1,576.5 200.4,576.5 205.8,576.5 211.1,576.5 216.4,576.5 221.8,576.5 227.1,576.5 232.4,576.5 237.8,576.5 243.1,576.5 248.4,576.5 253.8,576.5 259.1,576.5 264.4,576.5 269.8,576.5 275.1,576.5 280.4,576.5 285.8,576.5 291.1,576.5 296.4,576.5 301.8,576.5 307.1,576.5 312.5,576.5 317.8,576.5 323.1,576.5 328.5,576.5 333.8,576.5 339.1,576.5 344.5,576.5 349.8,576.5 355.1,576.5 360.5,576.5 365.8,576.5 371.1,576.5 376.5,576.5 381.8,576.5 387.1,576.5 392.5,576.5 397.8,576.5 403.1,576.5 408.5,576.5 413.8,576.5 419.1,576.5 424.5,576.5 429.8,576.5 435.2,576.5 440.5,576.5 445.8,576.5 451.2,576.5 456.5,576.5 461.8,576.5 467.2,576.5 472.5,576.5 477.8,576.5 483.2,576.5 488.5,576.5 493.8,576.5 499.2,576.5 504.5,576.5 509.8,576.5 515.2,576.5 520.5,576.5 525.9,576.5 531.2,576.5 536.5,576.5 541.9,576.5 547.2,576.5 552.5,576.4 557.9,576.4 563.2,576.3 568.5,576.2 573.9,576.1 579.2,575.9 584.5,575.7 589.9,575.3 595.2,574.9 600.5,574.4 605.9,573.7 611.2,573.0 616.5,572.2 621.9,571.3 627.2,570.3 632.5,569.3 637.9,568.2 643.2,567.0 648.6,565.7 653.9,564.4 659.2,563.1 664.6,561.7 669.9,560.2 675.2,558.7 680.6,557.2 685.9,555.6 691.2,553.9 696.6,552.2 701.9,550.5 707.2,548.8 712.6,547.0 717.9,545.1 723.2,543.3 728.6,541.4 733.9,539.4 739.2,537.4 744.6,535.4 749.9,533.4 755.3,531.3 760.6,529.2 765.9,527.1 771.3,524.9 776.6,522.7 781.9,520.5 787.3,518.2 792.6,515.9" stroke="#6004cc"/>
<polyline points="152.4,576.5 157.7,576.5 163.1,576.5 168.4,576.5 173.7,576.5 179.1,576.5 184.4,576.5 189.7,576.5 195.1,576.5 200.4,576.5 205.8,576.5 211.1,576.5 216.4,576.5 221.8,576.5 227.1,576.5 232.4,576.5 237.8,576.5 243.1,576.5 248.4,576.5 253.8,576.5 259.1,576.5 264.4,576.5 269.8,576.5 275.1,576.5 280.4,576.5 285.8,576.5 291.1,576.5 296.4,576.5 301.8,576.5 307.1,576.5 312.5,576.5 317.8,576.5 323.1,576.5 328.5,576.5 333.8,576.5 339.1,576.5 344.5,576.5 349.8,576.5 355.1,576.5 360.5,576.5 365.8,576.5 371.1,576.5 376.5,576.5 381.8,576.5 387.1,576.5 392.5,576.5 397.8,576.5 403.1,576.5 408.5,576.5 413.8,576.5 419.1,576.5 424.5,576.5 429.8,576.5 435.2,576.5 440.5,576.5 445.8,576.5 451.2,576.5 456.5,576.5 461.8,576.5 467.2,576.5 472.5,576.5 477.8,576.5 483.2,576.5 488.5,576.5 493.8,576.5 499.2,576.5 504.5,576.5 509.8,576.5 515.2,576.5 520.5,576.5 525.9,576.5 531.2,576.5 536.5,576.5 541.9,576.5 547.2,576.5 552.5,576.5 557.9,576.5 563.2,576.5 568.5,576.5 573.9,576.5 579.2,576.5 584.5,576.5 589.9,576.5 595.2,576.5 600.5,576.5 605.9,576.5 611.2,576.5 616.5,576.5 621.9,576.5 627.2,576.5 632.5,576.5 637.9,576.5 643.2,576.5 648.6,576.5 653.9,576.4 659.2,576.4 664.6,576.4 669.9,576.3 675.2,576.2 680.6,576.0 685.9,575.9 691.2,575.6 696.6,575.4 701.9,575.0 707.2,574.7 712.6,574.3 717.9,573.8 723.2,573.4 728.6,572.8 733.9,572.3 739.2,571.7 744.6,571.1 749.9,570.5 755.3,569.8 760.6,569.1 765.9,568.4 771.3,567.7 776.6,566.9 781.9,566.2 787.3,565.4 792.6,564.6" stroke="#6004cc"/>
</g>

<rect x="702.40" y="88.6" width="150" height="20.8" fill="#fff"/>
<text x="849.10" y="104.60" font-size="16.90" text-anchor="end">PyPSUcurvetrace</text>
<rect x="264.16" y="145.73" width="27.51" height="16.60" fill="#fff"/><text x="264.66" y="158.40" font-size="16.67" text-anchor="start">0.0</text>
<rect x="301.00" y="239.83" width="33.53" height="16.60" fill="#fff"/><text x="301.50" y="252.50" font-size="16.67" text-anchor="start">-2.0</text>
<rect x="347.90" y="311.73" width="33.53" height="16.60" fill="#fff"/><text x="348.40" y="324.40" font-size="16.67" text-anchor="start">-4.0</text>
<rect x="412.00" y="369.23" width="33.53" height="16.60" fill="#fff"/><text x="412.50" y="381.90" font-size="16.67" text-anchor="start">-6.0</text>
<rect x="492.70" y="412.23" width="33.53" height="16.60" fill="#fff"/><text x="493.20" y="424.90" font-size="16.67" text-anchor="start">-8.0</text>
<rect x="585.00" y="443.63" width="44.13" height="16.60" fill="#fff"/><text x="585.50" y="456.30" font-size="16.67" text-anchor="start">-10.0</text>
<rect x="696.30" y="466.33" width="44.13" height="16.60" fill="#fff"/><text x="696.80" y="479.00" font-size="16.67" text-anchor="start">-12.0</text>
<rect x="795.00" y="496.13" width="44.13" height="16.60" fill="#fff"/><text x="795.50" y="508.80" font-size="16.67" text-anchor="start">-14.0</text>
<rect x="801.00" y="550.53" width="44.13" height="16.60" fill="#fff"/><text x="801.50" y="563.20" font-size="16.67" text-anchor="start">-16.0</text>
<rect x="120.50" y="81.20" width="743.90" height="517.20" fill="none" stroke="#000" stroke-width="2.8"/>
<text x="152.40" y="620.90" font-size="22.80" text-anchor="middle">0</text>
<text x="259.10" y="620.90" font-size="22.80" text-anchor="middle">10</text>
<text x="365.80" y="620.90" font-size="22.80" text-anchor="middle">20</text>
<text x="472.50" y="620.90" font-size="22.80" text-anchor="middle">30</text>
<text x="579.20" y="620.90" font-size="22.80" text-anchor="middle">40</text>
<text x="685.90" y="620.90" font-size="22.80" text-anchor="middle">50</text>
<text x="792.60" y="620.90" font-size="22.80" text-anchor="middle">60</text>
<text x="115.30" y="585.00" font-size="22.80" text-anchor="end">0</text>
<text x="115.30" y="493.20" font-size="22.80" text-anchor="end">1</text>
<text x="115.30" y="401.40" font-size="22.80" text-anchor="end">2</text>
<text x="115.30" y="309.60" font-size="22.80" text-anchor="end">3</text>
<text x="115.30" y="217.80" font-size="22.80" text-anchor="end">4</text>
<text x="115.30" y="126.00" font-size="22.80" text-anchor="end">5</text>
<text x="491.90" y="649.60" font-size="22.80" text-anchor="middle" textLength="75.7">U1 (V)</text>
<text x="0" y="0" font-size="22.8" text-anchor="middle" textLength="65.6" transform="translate(88.8 340.45) rotate(-90)">I1 (A)</text>
<text x="491.90" y="72.60" font-size="28.80" text-anchor="middle">2SK82 Overlay</text><clipPath id="c2"><rect x="1080.45" y="81.30" width="743.75" height="517.00"/></clipPath>
<g stroke="#d4d4d4" stroke-width="1.3">
<line x1="1113.10" y1="81.30" x2="1113.10" y2="598.30"/>
<line x1="1222.52" y1="81.30" x2="1222.52" y2="598.30"/>
<line x1="1331.94" y1="81.30" x2="1331.94" y2="598.30"/>
<line x1="1441.36" y1="81.30" x2="1441.36" y2="598.30"/>
<line x1="1550.78" y1="81.30" x2="1550.78" y2="598.30"/>
<line x1="1660.20" y1="81.30" x2="1660.20" y2="598.30"/>
<line x1="1769.62" y1="81.30" x2="1769.62" y2="598.30"/>
<line x1="1080.45" y1="576.25" x2="1824.20" y2="576.25"/>
<line x1="1080.45" y1="489.68" x2="1824.20" y2="489.68"/>
<line x1="1080.45" y1="403.11" x2="1824.20" y2="403.11"/>
<line x1="1080.45" y1="316.54" x2="1824.20" y2="316.54"/>
<line x1="1080.45" y1="229.97" x2="1824.20" y2="229.97"/>
<line x1="1080.45" y1="143.40" x2="1824.20" y2="143.40"/>
</g>

<g clip-path="url(#c2)" fill="none" stroke-width="2.6" stroke-linejoin="round" stroke-linecap="butt">
<polyline points="1113.1,576.2 1118.6,548.2 1124.0,518.2 1129.5,487.3 1135.0,456.2 1140.5,425.6 1145.9,396.1 1151.4,368.1 1156.9,341.7 1162.3,316.9 1167.8,293.9 1173.3,272.4 1178.8,252.3 1184.2,233.7 1189.7,216.4 1195.2,200.2 1200.6,185.1 1206.1,170.9 1211.6,157.7 1217.0,145.2 1220.9,136.9" stroke="#cc0000"/>
<polyline points="1113.1,576.2 1118.6,557.0 1124.0,536.2 1129.5,514.3 1135.0,492.0 1140.5,469.7 1145.9,447.9 1151.4,426.8 1156.9,406.7 1162.3,387.5 1167.8,369.5 1173.3,352.4 1178.8,336.4 1184.2,321.3 1189.7,307.1 1195.2,293.8 1200.6,281.2 1206.1,269.4 1211.6,258.1 1217.0,247.5 1222.5,237.5 1228.0,228.0 1233.5,219.0 1238.9,210.4 1241.3,206.8" stroke="#cc0000"/>
<polyline points="1113.1,576.2 1118.6,563.3 1124.0,549.0 1129.5,533.8 1135.0,518.0 1140.5,502.0 1145.9,486.1 1151.4,470.5 1156.9,455.4 1162.3,440.9 1167.8,426.9 1173.3,413.6 1178.8,400.9 1184.2,388.8 1189.7,377.3 1195.2,366.4 1200.6,356.0 1206.1,346.1 1211.6,336.7 1217.0,327.7 1222.5,319.1 1228.0,310.9 1233.5,303.0 1238.9,295.5 1244.4,288.3 1249.9,281.5 1255.3,274.8 1260.8,268.5 1264.8,264.0" stroke="#cc0000"/>
<polyline points="1113.1,576.2 1118.6,569.9 1124.0,562.6 1129.5,554.6 1135.0,546.0 1140.5,537.0 1145.9,527.7 1151.4,518.2 1156.9,508.7 1162.3,499.2 1167.8,489.8 1173.3,480.5 1178.8,471.4 1184.2,462.4 1189.7,453.6 1195.2,445.0 1200.6,436.6 1206.1,428.4 1211.6,420.4 1217.0,412.5 1222.5,404.8 1228.0,397.3 1233.5,390.0 1238.9,382.8 1244.4,375.8 1249.9,369.0 1255.3,362.2 1260.8,355.7 1266.3,349.2 1271.8,342.9 1277.2,336.8 1282.7,330.7 1288.2,324.8 1293.6,319.0 1295.7,316.9" stroke="#cc0000"/>
<polyline points="1113.1,576.2 1118.6,573.2 1124.0,569.7 1129.5,565.6 1135.0,561.2 1140.5,556.3 1145.9,551.2 1151.4,545.9 1156.9,540.4 1162.3,534.7 1167.8,529.0 1173.3,523.3 1178.8,517.5 1184.2,511.8 1189.7,506.0 1195.2,500.3 1200.6,494.6 1206.1,488.9 1211.6,483.3 1217.0,477.7 1222.5,472.1 1228.0,466.6 1233.5,461.1 1238.9,455.6 1244.4,450.2 1249.9,444.8 1255.3,439.5 1260.8,434.2 1266.3,428.9 1271.8,423.7 1277.2,418.5 1282.7,413.3 1288.2,408.2 1293.6,403.1 1299.1,398.0 1304.6,393.0 1310.1,388.0 1315.5,383.1 1321.0,378.2 1326.5,373.3 1331.9,368.4 1336.6,364.3" stroke="#cc0000"/>
<polyline points="1113.1,576.2 1118.6,575.4 1124.0,574.4 1129.5,573.1 1135.0,571.5 1140.5,569.6 1145.9,567.5 1151.4,565.1 1156.9,562.5 1162.3,559.8 1167.8,556.9 1173.3,553.8 1178.8,550.7 1184.2,547.6 1189.7,544.3 1195.2,541.1 1200.6,537.8 1206.1,534.5 1211.6,531.2 1217.0,527.8 1222.5,524.5 1228.0,521.2 1233.5,517.8 1238.9,514.5 1244.4,511.1 1249.9,507.7 1255.3,504.4 1260.8,501.0 1266.3,497.7 1271.8,494.3 1277.2,491.0 1282.7,487.6 1288.2,484.2 1293.6,480.9 1299.1,477.5 1304.6,474.1 1310.1,470.8 1315.5,467.4 1321.0,464.0 1326.5,460.7 1331.9,457.3 1337.4,454.0 1342.9,450.6 1348.4,447.2 1353.8,443.9 1359.3,440.5 1364.8,437.1 1370.2,433.8 1375.7,430.4 1381.2,427.0 1386.6,423.6 1392.1,420.3 1397.6,416.9 1403.1,413.5 1403.6,413.2" stroke="#cc0000"/>
<polyline points="1113.1,576.2 1118.6,576.2 1124.0,576.2 1129.5,576.2 1135.0,576.1 1140.5,576.1 1145.9,576.0 1151.4,575.9 1156.9,575.7 1162.3,575.4 1167.8,575.1 1173.3,574.7 1178.8,574.1 1184.2,573.4 1189.7,572.5 1195.2,571.3 1200.6,569.9 1206.1,568.3 1211.6,566.5 1217.0,564.5 1222.5,562.4 1228.0,560.0 1233.5,557.6 1238.9,555.1 1244.4,552.5 1249.9,549.9 1255.3,547.2 1260.8,544.5 1266.3,541.8 1271.8,539.0 1277.2,536.3 1282.7,533.5 1288.2,530.7 1293.6,527.9 1299.1,525.1 1304.6,522.3 1310.1,519.4 1315.5,516.6 1321.0,513.8 1326.5,510.9 1331.9,508.1 1337.4,505.3 1342.9,502.4 1348.4,499.5 1353.8,496.7 1359.3,493.8 1364.8,490.9 1370.2,488.1 1375.7,485.2 1381.2,482.3 1386.6,479.4 1392.1,476.6 1397.6,473.7 1403.1,470.8 1408.5,467.9 1414.0,465.0 1419.5,462.1 1424.9,459.2 1430.4,456.3 1435.9,453.4 1441.4,450.5 1446.8,447.6 1452.3,444.7 1457.8,441.7 1460.9,440.1" stroke="#cc0000"/>
<polyline points="1113.1,576.2 1118.6,576.2 1124.0,576.2 1129.5,576.2 1135.0,576.2 1140.5,576.2 1145.9,576.2 1151.4,576.2 1156.9,576.2 1162.3,576.2 1167.8,576.2 1173.3,576.2 1178.8,576.2 1184.2,576.2 1189.7,576.2 1195.2,576.2 1200.6,576.2 1206.1,576.2 1211.6,576.1 1217.0,576.1 1222.5,576.0 1228.0,575.9 1233.5,575.7 1238.9,575.5 1244.4,575.2 1249.9,574.8 1255.3,574.2 1260.8,573.6 1266.3,572.9 1271.8,572.0 1277.2,571.1 1282.7,570.0 1288.2,568.9 1293.6,567.7 1299.1,566.4 1304.6,565.0 1310.1,563.6 1315.5,562.2 1321.0,560.6 1326.5,559.1 1331.9,557.5 1337.4,555.8 1342.9,554.1 1348.4,552.4 1353.8,550.6 1359.3,548.8 1364.8,547.0 1370.2,545.1 1375.7,543.2 1381.2,541.2 1386.6,539.2 1392.1,537.2 1397.6,535.2 1403.1,533.1 1408.5,531.0 1414.0,528.9 1419.5,526.8 1424.9,524.6 1430.4,522.4 1435.9,520.2 1441.4,517.9 1446.8,515.6 1452.3,513.3 1457.8,511.0 1463.2,508.6 1468.7,506.3 1474.2,503.9 1479.7,501.4 1485.1,499.0 1490.6,496.5 1496.1,494.0 1501.5,491.5 1507.0,489.0 1512.5,486.4 1518.0,483.9 1523.4,481.3 1528.9,478.6 1534.4,476.0 1539.8,473.4 1545.3,470.7 1550.7,468.0" stroke="#cc0000"/>
<polyline points="1113.1,576.2 1118.6,576.2 1124.0,576.2 1129.5,576.2 1135.0,576.2 1140.5,576.2 1145.9,576.2 1151.4,576.2 1156.9,576.2 1162.3,576.2 1167.8,576.2 1173.3,576.2 1178.8,576.2 1184.2,576.2 1189.7,576.2 1195.2,576.2 1200.6,576.2 1206.1,576.2 1211.6,576.2 1217.0,576.2 1222.5,576.2 1228.0,576.2 1233.5,576.2 1238.9,576.2 1244.4,576.2 1249.9,576.2 1255.3,576.2 1260.8,576.2 1266.3,576.2 1271.8,576.2 1277.2,576.2 1282.7,576.2 1288.2,576.2 1293.6,576.2 1299.1,576.2 1304.6,576.2 1310.1,576.1 1315.5,576.0 1321.0,575.9 1326.5,575.8 1331.9,575.6 1337.4,575.3 1342.9,575.0 1348.4,574.6 1353.8,574.1 1359.3,573.6 1364.8,573.0 1370.2,572.3 1375.7,571.6 1381.2,570.8 1386.6,569.9 1392.1,569.1 1397.6,568.1 1403.1,567.2 1408.5,566.2 1414.0,565.1 1419.5,564.0 1424.9,562.9 1430.4,561.8 1435.9,560.6 1441.4,559.4 1446.8,558.1 1452.3,556.8 1457.8,555.5 1463.2,554.2 1468.7,552.8 1474.2,551.4 1479.7,550.0 1485.1,548.6 1490.6,547.1 1496.1,545.6 1501.5,544.1 1507.0,542.6 1512.5,541.0 1518.0,539.4 1523.4,537.8 1528.9,536.2 1534.4,534.5 1539.8,532.9 1545.3,531.2 1550.8,529.5 1556.3,527.7 1561.7,525.9 1567.2,524.2 1572.7,522.4 1578.1,520.5 1583.6,518.7 1589.1,516.8 1594.5,514.9 1600.0,513.0 1605.5,511.1 1611.0,509.2 1616.4,507.2 1621.9,505.2 1627.4,503.2 1632.8,501.2 1638.3,499.2 1643.8,497.1 1649.3,495.1 1654.7,493.0 1660.2,490.9 1662.4,490.0" stroke="#cc0000"/>
<polyline points="1113.1,576.2 1118.6,548.8 1124.0,519.5 1129.5,489.1 1135.0,458.5 1140.5,428.5 1145.9,399.5 1151.4,371.9 1156.9,345.9 1162.3,321.4 1167.8,298.6 1173.3,277.4 1178.8,257.6 1184.2,239.1 1189.7,221.9 1195.2,205.9 1200.6,190.9 1206.1,176.8 1211.6,163.7 1217.0,151.3 1221.9,140.9" stroke="#ec6032"/>
<polyline points="1113.1,576.2 1118.6,557.8 1124.0,537.8 1129.5,516.8 1135.0,495.4 1140.5,473.9 1145.9,452.9 1151.4,432.5 1156.9,413.0 1162.3,394.5 1167.8,377.0 1173.3,360.5 1178.8,344.9 1184.2,330.2 1189.7,316.4 1195.2,303.4 1200.6,291.1 1206.1,279.5 1211.6,268.6 1217.0,258.2 1222.5,248.4 1228.0,239.1 1233.5,230.3 1238.9,221.9 1244.0,214.4" stroke="#ec6032"/>
<polyline points="1113.1,576.2 1118.6,566.0 1124.0,554.6 1129.5,542.4 1135.0,529.5 1140.5,516.2 1145.9,502.9 1151.4,489.6 1156.9,476.5 1162.3,463.8 1167.8,451.4 1173.3,439.5 1178.8,428.0 1184.2,416.9 1189.7,406.2 1195.2,396.0 1200.6,386.2 1206.1,376.7 1211.6,367.7 1217.0,358.9 1222.5,350.5 1228.0,342.4 1233.5,334.6 1238.9,327.1 1244.4,319.9 1249.9,312.9 1255.3,306.2 1260.8,299.6 1266.3,293.3 1271.8,287.2 1275.0,283.7" stroke="#ec6032"/>
<polyline points="1113.1,576.2 1118.6,572.6 1124.0,568.3 1129.5,563.5 1135.0,558.3 1140.5,552.7 1145.9,546.7 1151.4,540.6 1156.9,534.2 1162.3,527.8 1167.8,521.4 1173.3,514.9 1178.8,508.4 1184.2,502.0 1189.7,495.6 1195.2,489.2 1200.6,482.9 1206.1,476.7 1211.6,470.5 1217.0,464.4 1222.5,458.3 1228.0,452.3 1233.5,446.3 1238.9,440.5 1244.4,434.6 1249.9,428.9 1255.3,423.2 1260.8,417.5 1266.3,412.0 1271.8,406.4 1277.2,401.0 1282.7,395.5 1288.2,390.2 1293.6,384.9 1299.1,379.6 1304.6,374.4 1310.1,369.3 1315.5,364.2 1321.0,359.1 1326.4,354.2" stroke="#ec6032"/>
<polyline points="1113.1,576.2 1118.6,575.1 1124.0,573.7 1129.5,572.0 1135.0,570.0 1140.5,567.7 1145.9,565.2 1151.4,562.5 1156.9,559.6 1162.3,556.6 1167.8,553.4 1173.3,550.2 1178.8,546.9 1184.2,543.6 1189.7,540.2 1195.2,536.8 1200.6,533.4 1206.1,530.0 1211.6,526.5 1217.0,523.1 1222.5,519.7 1228.0,516.2 1233.5,512.8 1238.9,509.3 1244.4,505.8 1249.9,502.4 1255.3,498.9 1260.8,495.5 1266.3,492.0 1271.8,488.6 1277.2,485.1 1282.7,481.7 1288.2,478.2 1293.6,474.7 1299.1,471.3 1304.6,467.8 1310.1,464.4 1315.5,460.9 1321.0,457.5 1326.5,454.0 1331.9,450.5 1337.4,447.1 1342.9,443.6 1348.4,440.2 1353.8,436.7 1359.3,433.3 1364.8,429.8 1370.2,426.3 1375.7,422.9 1381.2,419.4 1386.6,416.0 1392.1,412.5 1397.0,409.4" stroke="#ec6032"/>
<polyline points="1113.1,576.2 1118.6,576.2 1124.0,576.2 1129.5,576.2 1135.0,576.1 1140.5,576.1 1145.9,576.0 1151.4,575.8 1156.9,575.6 1162.3,575.4 1167.8,575.0 1173.3,574.5 1178.8,573.9 1184.2,573.1 1189.7,572.1 1195.2,570.9 1200.6,569.4 1206.1,567.8 1211.6,565.9 1217.0,563.8 1222.5,561.6 1228.0,559.2 1233.5,556.8 1238.9,554.2 1244.4,551.6 1249.9,549.0 1255.3,546.3 1260.8,543.6 1266.3,540.8 1271.8,538.0 1277.2,535.3 1282.7,532.5 1288.2,529.7 1293.6,526.8 1299.1,524.0 1304.6,521.2 1310.1,518.3 1315.5,515.5 1321.0,512.7 1326.5,509.8 1331.9,507.0 1337.4,504.1 1342.9,501.2 1348.4,498.4 1353.8,495.5 1359.3,492.6 1364.8,489.7 1370.2,486.8 1375.7,484.0 1381.2,481.1 1386.6,478.2 1392.1,475.3 1397.6,472.4 1403.1,469.5 1408.5,466.6 1414.0,463.7 1419.5,460.8 1424.9,457.9 1430.4,455.0 1435.9,452.0 1441.4,449.1 1446.8,446.2 1452.3,443.3 1457.8,440.4 1459.4,439.5" stroke="#ec6032"/>
<polyline points="1113.1,576.2 1118.6,576.2 1124.0,576.2 1129.5,576.2 1135.0,576.2 1140.5,576.2 1145.9,576.2 1151.4,576.2 1156.9,576.2 1162.3,576.2 1167.8,576.2 1173.3,576.2 1178.8,576.2 1184.2,576.2 1189.7,576.1 1195.2,576.0 1200.6,575.9 1206.1,575.8 1211.6,575.6 1217.0,575.3 1222.5,575.0 1228.0,574.5 1233.5,573.9 1238.9,573.1 1244.4,572.2 1249.9,571.1 1255.3,569.9 1260.8,568.5 1266.3,567.0 1271.8,565.4 1277.2,563.7 1282.7,561.9 1288.2,560.1 1293.6,558.2 1299.1,556.3 1304.6,554.3 1310.1,552.2 1315.5,550.2 1321.0,548.0 1326.5,545.9 1331.9,543.7 1337.4,541.5 1342.9,539.3 1348.4,537.1 1353.8,534.8 1359.3,532.5 1364.8,530.2 1370.2,527.8 1375.7,525.5 1381.2,523.1 1386.6,520.7 1392.1,518.2 1397.6,515.8 1403.1,513.4 1408.5,510.9 1414.0,508.4 1419.5,505.9 1424.9,503.4 1430.4,500.8 1435.9,498.3 1441.4,495.7 1446.8,493.1 1452.3,490.5 1457.8,487.9 1463.2,485.3 1468.7,482.6 1474.2,480.0 1479.7,477.3 1485.1,474.6 1490.6,471.9 1496.1,469.2 1501.5,466.5 1507.0,463.8 1512.5,461.0 1516.7,458.9" stroke="#ec6032"/>
<polyline points="1113.1,576.2 1118.6,576.2 1124.0,576.2 1129.5,576.2 1135.0,576.2 1140.5,576.2 1145.9,576.2 1151.4,576.2 1156.9,576.2 1162.3,576.2 1167.8,576.2 1173.3,576.2 1178.8,576.2 1184.2,576.2 1189.7,576.2 1195.2,576.2 1200.6,576.2 1206.1,576.2 1211.6,576.2 1217.0,576.2 1222.5,576.2 1228.0,576.2 1233.5,576.2 1238.9,576.2 1244.4,576.2 1249.9,576.2 1255.3,576.2 1260.8,576.2 1266.3,576.2 1271.8,576.2 1277.2,576.2 1282.7,576.2 1288.2,576.2 1293.6,576.2 1299.1,576.2 1304.6,576.2 1310.1,576.2 1315.5,576.2 1321.0,576.1 1326.5,576.0 1331.9,575.9 1337.4,575.7 1342.9,575.5 1348.4,575.3 1353.8,574.9 1359.3,574.5 1364.8,574.1 1370.2,573.5 1375.7,572.9 1381.2,572.2 1386.6,571.5 1392.1,570.8 1397.6,569.9 1403.1,569.1 1408.5,568.2 1414.0,567.2 1419.5,566.2 1424.9,565.2 1430.4,564.2 1435.9,563.1 1441.4,562.0 1446.8,560.8 1452.3,559.6 1457.8,558.4 1463.2,557.2 1468.7,555.9 1474.2,554.6 1479.7,553.3 1485.1,552.0 1490.6,550.6 1496.1,549.2 1501.5,547.8 1507.0,546.4 1512.5,544.9 1518.0,543.4 1523.4,541.9 1528.9,540.4 1534.4,538.8 1539.8,537.3 1545.3,535.7 1550.8,534.0 1556.3,532.4 1561.7,530.7 1567.2,529.1 1572.7,527.4 1578.1,525.6 1583.6,523.9 1589.1,522.1 1594.5,520.4 1600.0,518.6 1605.5,516.8 1611.0,514.9 1616.4,513.1 1621.9,511.2 1627.4,509.3 1632.8,507.4 1638.3,505.5 1643.8,503.5 1649.3,501.6 1654.7,499.6 1660.2,497.6 1665.7,495.6 1671.1,493.6 1675.3,492.0" stroke="#ec6032"/>
<polyline points="1113.1,576.2 1118.6,576.2 1124.0,576.2 1129.5,576.2 1135.0,576.2 1140.5,576.2 1145.9,576.2 1151.4,576.2 1156.9,576.2 1162.3,576.2 1167.8,576.2 1173.3,576.2 1178.8,576.2 1184.2,576.2 1189.7,576.2 1195.2,576.2 1200.6,576.2 1206.1,576.2 1211.6,576.2 1217.0,576.2 1222.5,576.2 1228.0,576.2 1233.5,576.2 1238.9,576.2 1244.4,576.2 1249.9,576.2 1255.3,576.2 1260.8,576.2 1266.3,576.2 1271.8,576.2 1277.2,576.2 1282.7,576.2 1288.2,576.2 1293.6,576.2 1299.1,576.2 1304.6,576.2 1310.1,576.2 1315.5,576.2 1321.0,576.2 1326.5,576.2 1331.9,576.2 1337.4,576.2 1342.9,576.2 1348.4,576.2 1353.8,576.2 1359.3,576.2 1364.8,576.2 1370.2,576.2 1375.7,576.2 1381.2,576.2 1386.6,576.2 1392.1,576.2 1397.6,576.2 1403.1,576.2 1408.5,576.2 1414.0,576.2 1419.5,576.2 1424.9,576.2 1430.4,576.2 1435.9,576.2 1441.4,576.2 1446.8,576.2 1452.3,576.2 1457.8,576.2 1463.2,576.2 1468.7,576.2 1474.2,576.2 1479.7,576.2 1485.1,576.2 1490.6,576.2 1496.1,576.2 1501.5,576.2 1507.0,576.2 1512.5,576.2 1518.0,576.2 1523.4,576.2 1528.9,576.2 1534.4,576.2 1539.8,576.2 1545.3,576.2 1550.8,576.2 1556.3,576.2 1561.7,576.2 1567.2,576.2 1572.7,576.1 1578.1,576.1 1583.6,576.0 1589.1,575.9 1594.5,575.7 1600.0,575.5 1605.5,575.2 1611.0,574.8 1616.4,574.4 1621.9,573.9 1627.4,573.3 1632.8,572.7 1638.3,572.0 1643.8,571.2 1649.3,570.4 1654.7,569.5 1660.2,568.6 1665.7,567.6 1671.1,566.7 1676.6,565.6 1682.1,564.5 1687.6,563.4 1693.0,562.3 1698.5,561.1 1704.0,559.9 1709.4,558.7 1714.9,557.4 1720.4,556.1 1725.9,554.8 1731.3,553.4 1736.8,552.0 1742.3,550.6 1747.7,549.2 1753.2,547.7 1758.7,546.2 1764.1,544.7 1769.6,543.2" stroke="#ec6032"/>
<polyline points="1113.1,576.2 1118.6,548.6 1124.0,519.0 1129.5,488.4 1135.0,457.6 1140.5,427.4 1145.9,398.2 1151.4,370.4 1156.9,344.2 1162.3,319.7 1167.8,296.7 1173.3,275.4 1178.8,255.5 1184.2,237.0 1189.7,219.7 1195.2,203.6 1200.6,188.6 1206.1,174.5 1211.6,161.3 1217.0,148.9 1221.5,139.3" stroke="#eeb070"/>
<polyline points="1113.1,576.2 1118.6,558.4 1124.0,539.1 1129.5,518.7 1135.0,497.8 1140.5,477.0 1145.9,456.5 1151.4,436.7 1156.9,417.7 1162.3,399.7 1167.8,382.5 1173.3,366.4 1178.8,351.2 1184.2,336.8 1189.7,323.3 1195.2,310.5 1200.6,298.5 1206.1,287.1 1211.6,276.4 1217.0,266.2 1222.5,256.5 1228.0,247.4 1233.5,238.7 1238.9,230.4 1244.4,222.5 1246.1,220.1" stroke="#eeb070"/>
<polyline points="1113.1,576.2 1118.6,566.4 1124.0,555.4 1129.5,543.6 1135.0,531.1 1140.5,518.3 1145.9,505.4 1151.4,492.4 1156.9,479.7 1162.3,467.3 1167.8,455.2 1173.3,443.5 1178.8,432.2 1184.2,421.3 1189.7,410.8 1195.2,400.7 1200.6,391.0 1206.1,381.7 1211.6,372.7 1217.0,364.0 1222.5,355.6 1228.0,347.6 1233.5,339.8 1238.9,332.3 1244.4,325.1 1249.9,318.1 1255.3,311.4 1260.8,304.8 1266.3,298.5 1271.8,292.4 1276.8,286.9" stroke="#eeb070"/>
<polyline points="1113.1,576.2 1118.6,572.1 1124.0,567.4 1129.5,562.0 1135.0,556.2 1140.5,550.0 1145.9,543.4 1151.4,536.7 1156.9,529.8 1162.3,522.8 1167.8,515.7 1173.3,508.7 1178.8,501.7 1184.2,494.7 1189.7,487.8 1195.2,481.0 1200.6,474.2 1206.1,467.5 1211.6,460.9 1217.0,454.3 1222.5,447.8 1228.0,441.4 1233.5,435.1 1238.9,428.9 1244.4,422.7 1249.9,416.6 1255.3,410.6 1260.8,404.7 1266.3,398.8 1271.8,393.0 1277.2,387.3 1282.7,381.6 1288.2,376.0 1293.6,370.5 1299.1,365.0 1304.6,359.6 1310.1,354.3 1315.5,349.0 1318.8,345.9" stroke="#eeb070"/>
<polyline points="1113.1,576.2 1118.6,574.7 1124.0,572.9 1129.5,570.8 1135.0,568.3 1140.5,565.5 1145.9,562.5 1151.4,559.3 1156.9,555.9 1162.3,552.3 1167.8,548.6 1173.3,544.9 1178.8,541.1 1184.2,537.2 1189.7,533.3 1195.2,529.4 1200.6,525.5 1206.1,521.6 1211.6,517.6 1217.0,513.7 1222.5,509.7 1228.0,505.8 1233.5,501.8 1238.9,497.9 1244.4,493.9 1249.9,489.9 1255.3,486.0 1260.8,482.0 1266.3,478.0 1271.8,474.1 1277.2,470.1 1282.7,466.1 1288.2,462.2 1293.6,458.2 1299.1,454.2 1304.6,450.3 1310.1,446.3 1315.5,442.3 1321.0,438.4 1326.5,434.4 1331.9,430.4 1337.4,426.5 1342.9,422.5 1348.4,418.5 1353.8,414.6 1359.3,410.6 1364.8,406.6 1370.2,402.7 1375.7,398.7 1377.7,397.3" stroke="#eeb070"/>
<polyline points="1113.1,576.2 1118.6,576.2 1124.0,576.2 1129.5,576.2 1135.0,576.1 1140.5,576.1 1145.9,576.0 1151.4,575.8 1156.9,575.6 1162.3,575.4 1167.8,575.0 1173.3,574.5 1178.8,573.9 1184.2,573.1 1189.7,572.1 1195.2,570.9 1200.6,569.4 1206.1,567.8 1211.6,565.9 1217.0,563.8 1222.5,561.6 1228.0,559.2 1233.5,556.8 1238.9,554.2 1244.4,551.6 1249.9,549.0 1255.3,546.3 1260.8,543.6 1266.3,540.8 1271.8,538.0 1277.2,535.3 1282.7,532.5 1288.2,529.7 1293.6,526.8 1299.1,524.0 1304.6,521.2 1310.1,518.3 1315.5,515.5 1321.0,512.7 1326.5,509.8 1331.9,507.0 1337.4,504.1 1342.9,501.2 1348.4,498.4 1353.8,495.5 1359.3,492.6 1364.8,489.7 1370.2,486.8 1375.7,484.0 1381.2,481.1 1386.6,478.2 1392.1,475.3 1397.6,472.4 1403.1,469.5 1408.5,466.6 1414.0,463.7 1419.5,460.8 1424.9,457.9 1430.4,455.0 1435.9,452.0 1441.4,449.1 1446.8,446.2 1452.3,443.3 1457.8,440.4 1459.4,439.5" stroke="#eeb070"/>
<polyline points="1113.1,576.2 1118.6,576.2 1124.0,576.2 1129.5,576.2 1135.0,576.2 1140.5,576.2 1145.9,576.2 1151.4,576.2 1156.9,576.2 1162.3,576.2 1167.8,576.2 1173.3,576.2 1178.8,576.2 1184.2,576.2 1189.7,576.2 1195.2,576.2 1200.6,576.2 1206.1,576.2 1211.6,576.2 1217.0,576.2 1222.5,576.2 1228.0,576.1 1233.5,576.1 1238.9,576.0 1244.4,575.8 1249.9,575.6 1255.3,575.4 1260.8,575.0 1266.3,574.6 1271.8,574.0 1277.2,573.4 1282.7,572.6 1288.2,571.8 1293.6,570.8 1299.1,569.8 1304.6,568.7 1310.1,567.5 1315.5,566.3 1321.0,565.0 1326.5,563.6 1331.9,562.2 1337.4,560.8 1342.9,559.3 1348.4,557.7 1353.8,556.1 1359.3,554.5 1364.8,552.8 1370.2,551.1 1375.7,549.4 1381.2,547.6 1386.6,545.8 1392.1,544.0 1397.6,542.1 1403.1,540.2 1408.5,538.3 1414.0,536.3 1419.5,534.3 1424.9,532.3 1430.4,530.2 1435.9,528.2 1441.4,526.1 1446.8,523.9 1452.3,521.8 1457.8,519.6 1463.2,517.4 1468.7,515.1 1474.2,512.9 1479.7,510.6 1485.1,508.3 1490.6,505.9 1496.1,503.6 1501.5,501.2 1507.0,498.8 1512.5,496.4 1518.0,493.9 1523.4,491.5 1528.9,489.0 1534.4,486.5 1539.8,483.9 1545.3,481.4 1550.8,478.8 1556.3,476.2 1561.7,473.6 1565.8,471.6" stroke="#eeb070"/>
<polyline points="1113.1,576.2 1118.6,576.2 1124.0,576.2 1129.5,576.2 1135.0,576.2 1140.5,576.2 1145.9,576.2 1151.4,576.2 1156.9,576.2 1162.3,576.2 1167.8,576.2 1173.3,576.2 1178.8,576.2 1184.2,576.2 1189.7,576.2 1195.2,576.2 1200.6,576.2 1206.1,576.2 1211.6,576.2 1217.0,576.2 1222.5,576.2 1228.0,576.2 1233.5,576.2 1238.9,576.2 1244.4,576.2 1249.9,576.2 1255.3,576.2 1260.8,576.2 1266.3,576.2 1271.8,576.2 1277.2,576.2 1282.7,576.2 1288.2,576.2 1293.6,576.2 1299.1,576.2 1304.6,576.2 1310.1,576.2 1315.5,576.2 1321.0,576.2 1326.5,576.2 1331.9,576.2 1337.4,576.1 1342.9,576.1 1348.4,576.0 1353.8,575.8 1359.3,575.7 1364.8,575.4 1370.2,575.1 1375.7,574.8 1381.2,574.4 1386.6,573.9 1392.1,573.3 1397.6,572.8 1403.1,572.1 1408.5,571.4 1414.0,570.7 1419.5,569.9 1424.9,569.1 1430.4,568.2 1435.9,567.3 1441.4,566.4 1446.8,565.5 1452.3,564.5 1457.8,563.5 1463.2,562.4 1468.7,561.4 1474.2,560.3 1479.7,559.1 1485.1,558.0 1490.6,556.8 1496.1,555.6 1501.5,554.4 1507.0,553.2 1512.5,551.9 1518.0,550.6 1523.4,549.3 1528.9,548.0 1534.4,546.6 1539.8,545.3 1545.3,543.9 1550.8,542.5 1556.3,541.0 1561.7,539.6 1567.2,538.1 1572.7,536.6 1578.1,535.1 1583.6,533.6 1589.1,532.0 1594.5,530.4 1600.0,528.9 1605.5,527.3 1611.0,525.6 1616.4,524.0 1621.9,522.4 1627.4,520.7 1632.8,519.0 1638.3,517.3 1643.8,515.6 1649.3,513.8 1654.7,512.1 1660.2,510.3 1665.7,508.5 1671.1,506.7 1676.6,504.9 1682.1,503.1 1687.6,501.2 1693.0,499.4 1698.5,497.5 1702.9,495.9" stroke="#eeb070"/>
<polyline points="1113.1,576.2 1118.6,576.2 1124.0,576.2 1129.5,576.2 1135.0,576.2 1140.5,576.2 1145.9,576.2 1151.4,576.2 1156.9,576.2 1162.3,576.2 1167.8,576.2 1173.3,576.2 1178.8,576.2 1184.2,576.2 1189.7,576.2 1195.2,576.2 1200.6,576.2 1206.1,576.2 1211.6,576.2 1217.0,576.2 1222.5,576.2 1228.0,576.2 1233.5,576.2 1238.9,576.2 1244.4,576.2 1249.9,576.2 1255.3,576.2 1260.8,576.2 1266.3,576.2 1271.8,576.2 1277.2,576.2 1282.7,576.2 1288.2,576.2 1293.6,576.2 1299.1,576.2 1304.6,576.2 1310.1,576.2 1315.5,576.2 1321.0,576.2 1326.5,576.2 1331.9,576.2 1337.4,576.2 1342.9,576.2 1348.4,576.2 1353.8,576.2 1359.3,576.2 1364.8,576.2 1370.2,576.2 1375.7,576.2 1381.2,576.2 1386.6,576.2 1392.1,576.2 1397.6,576.2 1403.1,576.2 1408.5,576.2 1414.0,576.2 1419.5,576.2 1424.9,576.2 1430.4,576.2 1435.9,576.2 1441.4,576.2 1446.8,576.2 1452.3,576.2 1457.8,576.2 1463.2,576.2 1468.7,576.2 1474.2,576.2 1479.7,576.2 1485.1,576.2 1490.6,576.2 1496.1,576.2 1501.5,576.2 1507.0,576.2 1512.5,576.2 1518.0,576.2 1523.4,576.2 1528.9,576.2 1534.4,576.2 1539.8,576.2 1545.3,576.2 1550.8,576.2 1556.3,576.2 1561.7,576.2 1567.2,576.2 1572.7,576.2 1578.1,576.2 1583.6,576.2 1589.1,576.2 1594.5,576.2 1600.0,576.2 1605.5,576.2 1611.0,576.2 1616.4,576.2 1621.9,576.2 1627.4,576.2 1632.8,576.2 1638.3,576.2 1643.8,576.2 1649.3,576.2 1654.7,576.2 1660.2,576.2 1665.7,576.2 1671.1,576.2 1676.6,576.2 1682.1,576.2 1687.6,576.2 1693.0,576.1 1698.5,576.1 1704.0,576.0 1709.4,575.9 1714.9,575.8 1720.4,575.6 1725.9,575.5 1731.3,575.3 1736.8,575.1 1742.3,574.9 1747.7,574.7 1753.2,574.4 1758.7,574.2 1764.1,573.9 1769.6,573.7" stroke="#eeb070"/>
<polyline points="1113.1,576.2 1118.6,549.4 1124.0,520.6 1129.5,490.9 1135.0,460.9 1140.5,431.3 1145.9,402.8 1151.4,375.6 1156.9,349.9 1162.3,325.8 1167.8,303.3 1173.3,282.3 1178.8,262.7 1184.2,244.4 1189.7,227.4 1195.2,211.4 1200.6,196.6 1206.1,182.6 1211.6,169.5 1217.0,157.2 1222.5,145.7 1222.9,144.9" stroke="#c0e096"/>
<polyline points="1113.1,576.2 1118.6,559.7 1124.0,541.6 1129.5,522.6 1135.0,503.1 1140.5,483.6 1145.9,464.3 1151.4,445.7 1156.9,427.7 1162.3,410.6 1167.8,394.4 1173.3,379.1 1178.8,364.6 1184.2,350.9 1189.7,338.0 1195.2,325.8 1200.6,314.2 1206.1,303.3 1211.6,293.0 1217.0,283.2 1222.5,274.0 1228.0,265.1 1233.5,256.7 1238.9,248.8 1244.4,241.1 1249.9,233.9 1250.9,232.5" stroke="#c0e096"/>
<polyline points="1113.1,576.2 1118.6,567.4 1124.0,557.6 1129.5,546.9 1135.0,535.5 1140.5,523.8 1145.9,511.9 1151.4,500.0 1156.9,488.2 1162.3,476.6 1167.8,465.3 1173.3,454.3 1178.8,443.6 1184.2,433.2 1189.7,423.2 1195.2,413.5 1200.6,404.2 1206.1,395.2 1211.6,386.4 1217.0,378.0 1222.5,369.8 1228.0,362.0 1233.5,354.3 1238.9,346.9 1244.4,339.8 1249.9,332.8 1255.3,326.1 1260.8,319.6 1266.3,313.3 1271.8,307.1 1277.2,301.2 1282.1,296.0" stroke="#c0e096"/>
<polyline points="1113.1,576.2 1118.6,572.7 1124.0,568.5 1129.5,563.8 1135.0,558.6 1140.5,553.1 1145.9,547.2 1151.4,541.2 1156.9,534.9 1162.3,528.6 1167.8,522.3 1173.3,515.9 1178.8,509.5 1184.2,503.1 1189.7,496.8 1195.2,490.5 1200.6,484.3 1206.1,478.1 1211.6,472.0 1217.0,465.9 1222.5,459.9 1228.0,454.0 1233.5,448.1 1238.9,442.3 1244.4,436.5 1249.9,430.8 1255.3,425.2 1260.8,419.6 1266.3,414.0 1271.8,408.6 1277.2,403.1 1282.7,397.8 1288.2,392.5 1293.6,387.2 1299.1,382.0 1304.6,376.8 1310.1,371.7 1315.5,366.6 1321.0,361.6 1326.5,356.7 1327.7,355.5" stroke="#c0e096"/>
<polyline points="1113.1,576.2 1118.6,575.0 1124.0,573.5 1129.5,571.6 1135.0,569.5 1140.5,567.1 1145.9,564.4 1151.4,561.6 1156.9,558.5 1162.3,555.3 1167.8,552.0 1173.3,548.7 1178.8,545.2 1184.2,541.7 1189.7,538.2 1195.2,534.7 1200.6,531.1 1206.1,527.6 1211.6,524.0 1217.0,520.4 1222.5,516.8 1228.0,513.2 1233.5,509.6 1238.9,506.0 1244.4,502.4 1249.9,498.8 1255.3,495.2 1260.8,491.6 1266.3,488.0 1271.8,484.4 1277.2,480.8 1282.7,477.2 1288.2,473.6 1293.6,470.0 1299.1,466.4 1304.6,462.8 1310.1,459.1 1315.5,455.5 1321.0,451.9 1326.5,448.3 1331.9,444.7 1337.4,441.1 1342.9,437.5 1348.4,433.9 1353.8,430.3 1359.3,426.7 1364.8,423.1 1370.2,419.5 1375.7,415.9 1381.2,412.3 1386.6,408.7 1391.0,405.8" stroke="#c0e096"/>
<polyline points="1113.1,576.2 1118.6,576.2 1124.0,576.2 1129.5,576.2 1135.0,576.2 1140.5,576.2 1145.9,576.2 1151.4,576.2 1156.9,576.1 1162.3,576.1 1167.8,576.0 1173.3,575.8 1178.8,575.7 1184.2,575.5 1189.7,575.2 1195.2,574.7 1200.6,574.2 1206.1,573.5 1211.6,572.6 1217.0,571.5 1222.5,570.2 1228.0,568.7 1233.5,566.9 1238.9,565.0 1244.4,563.0 1249.9,560.8 1255.3,558.5 1260.8,556.1 1266.3,553.7 1271.8,551.2 1277.2,548.6 1282.7,546.1 1288.2,543.5 1293.6,540.9 1299.1,538.2 1304.6,535.6 1310.1,532.9 1315.5,530.2 1321.0,527.6 1326.5,524.9 1331.9,522.2 1337.4,519.5 1342.9,516.8 1348.4,514.1 1353.8,511.3 1359.3,508.6 1364.8,505.9 1370.2,503.1 1375.7,500.4 1381.2,497.7 1386.6,494.9 1392.1,492.2 1397.6,489.4 1403.1,486.6 1408.5,483.9 1414.0,481.1 1419.5,478.3 1424.9,475.5 1430.4,472.8 1435.9,470.0 1441.4,467.2 1446.8,464.4 1452.3,461.6 1457.8,458.8 1463.2,456.0 1468.7,453.2 1474.2,450.4 1479.7,447.6 1480.3,447.3" stroke="#c0e096"/>
<polyline points="1113.1,576.2 1118.6,576.2 1124.0,576.2 1129.5,576.2 1135.0,576.2 1140.5,576.2 1145.9,576.2 1151.4,576.2 1156.9,576.2 1162.3,576.2 1167.8,576.2 1173.3,576.2 1178.8,576.2 1184.2,576.2 1189.7,576.2 1195.2,576.2 1200.6,576.2 1206.1,576.2 1211.6,576.2 1217.0,576.2 1222.5,576.2 1228.0,576.2 1233.5,576.2 1238.9,576.2 1244.4,576.2 1249.9,576.2 1255.3,576.2 1260.8,576.1 1266.3,576.0 1271.8,575.9 1277.2,575.7 1282.7,575.5 1288.2,575.2 1293.6,574.8 1299.1,574.3 1304.6,573.8 1310.1,573.1 1315.5,572.4 1321.0,571.5 1326.5,570.7 1331.9,569.7 1337.4,568.7 1342.9,567.6 1348.4,566.4 1353.8,565.2 1359.3,564.0 1364.8,562.7 1370.2,561.4 1375.7,560.0 1381.2,558.6 1386.6,557.1 1392.1,555.6 1397.6,554.1 1403.1,552.5 1408.5,550.9 1414.0,549.3 1419.5,547.6 1424.9,545.9 1430.4,544.2 1435.9,542.4 1441.4,540.6 1446.8,538.8 1452.3,537.0 1457.8,535.1 1463.2,533.2 1468.7,531.2 1474.2,529.3 1479.7,527.3 1485.1,525.2 1490.6,523.2 1496.1,521.1 1501.5,519.0 1507.0,516.9 1512.5,514.7 1518.0,512.6 1523.4,510.4 1528.9,508.1 1534.4,505.9 1539.8,503.6 1545.3,501.3 1550.8,499.0 1556.3,496.7 1561.7,494.3 1567.2,491.9 1572.7,489.5 1578.1,487.1 1583.6,484.6 1589.1,482.1 1594.5,479.6 1597.2,478.4" stroke="#c0e096"/>
<polyline points="1113.1,576.2 1118.6,576.2 1124.0,576.2 1129.5,576.2 1135.0,576.2 1140.5,576.2 1145.9,576.2 1151.4,576.2 1156.9,576.2 1162.3,576.2 1167.8,576.2 1173.3,576.2 1178.8,576.2 1184.2,576.2 1189.7,576.2 1195.2,576.2 1200.6,576.2 1206.1,576.2 1211.6,576.2 1217.0,576.2 1222.5,576.2 1228.0,576.2 1233.5,576.2 1238.9,576.2 1244.4,576.2 1249.9,576.2 1255.3,576.2 1260.8,576.2 1266.3,576.2 1271.8,576.2 1277.2,576.2 1282.7,576.2 1288.2,576.2 1293.6,576.2 1299.1,576.2 1304.6,576.2 1310.1,576.2 1315.5,576.2 1321.0,576.2 1326.5,576.2 1331.9,576.2 1337.4,576.2 1342.9,576.2 1348.4,576.2 1353.8,576.2 1359.3,576.2 1364.8,576.1 1370.2,576.1 1375.7,576.0 1381.2,575.9 1386.6,575.7 1392.1,575.5 1397.6,575.2 1403.1,574.9 1408.5,574.6 1414.0,574.1 1419.5,573.7 1424.9,573.2 1430.4,572.6 1435.9,572.0 1441.4,571.3 1446.8,570.7 1452.3,569.9 1457.8,569.2 1463.2,568.4 1468.7,567.6 1474.2,566.8 1479.7,565.9 1485.1,565.0 1490.6,564.1 1496.1,563.2 1501.5,562.2 1507.0,561.3 1512.5,560.3 1518.0,559.2 1523.4,558.2 1528.9,557.1 1534.4,556.0 1539.8,554.9 1545.3,553.8 1550.8,552.7 1556.3,551.5 1561.7,550.3 1567.2,549.1 1572.7,547.9 1578.1,546.7 1583.6,545.4 1589.1,544.2 1594.5,542.9 1600.0,541.6 1605.5,540.3 1611.0,538.9 1616.4,537.6 1621.9,536.2 1627.4,534.8 1632.8,533.4 1638.3,532.0 1643.8,530.6 1649.3,529.2 1654.7,527.7 1660.2,526.2 1665.7,524.7 1671.1,523.2 1676.6,521.7 1682.1,520.2 1687.6,518.7 1693.0,517.1 1698.5,515.5 1704.0,513.9 1709.4,512.4 1714.9,510.7 1720.4,509.1 1725.9,507.5 1731.3,505.8 1736.8,504.2 1742.3,502.5 1745.8,501.4" stroke="#c0e096"/>
<polyline points="1113.1,576.2 1118.6,576.2 1124.0,576.2 1129.5,576.2 1135.0,576.2 1140.5,576.2 1145.9,576.2 1151.4,576.2 1156.9,576.2 1162.3,576.2 1167.8,576.2 1173.3,576.2 1178.8,576.2 1184.2,576.2 1189.7,576.2 1195.2,576.2 1200.6,576.2 1206.1,576.2 1211.6,576.2 1217.0,576.2 1222.5,576.2 1228.0,576.2 1233.5,576.2 1238.9,576.2 1244.4,576.2 1249.9,576.2 1255.3,576.2 1260.8,576.2 1266.3,576.2 1271.8,576.2 1277.2,576.2 1282.7,576.2 1288.2,576.2 1293.6,576.2 1299.1,576.2 1304.6,576.2 1310.1,576.2 1315.5,576.2 1321.0,576.2 1326.5,576.2 1331.9,576.2 1337.4,576.2 1342.9,576.2 1348.4,576.2 1353.8,576.2 1359.3,576.2 1364.8,576.2 1370.2,576.2 1375.7,576.2 1381.2,576.2 1386.6,576.2 1392.1,576.2 1397.6,576.2 1403.1,576.2 1408.5,576.2 1414.0,576.2 1419.5,576.2 1424.9,576.2 1430.4,576.2 1435.9,576.2 1441.4,576.2 1446.8,576.2 1452.3,576.2 1457.8,576.2 1463.2,576.2 1468.7,576.2 1474.2,576.2 1479.7,576.2 1485.1,576.2 1490.6,576.2 1496.1,576.2 1501.5,576.2 1507.0,576.2 1512.5,576.2 1518.0,576.2 1523.4,576.2 1528.9,576.2 1534.4,576.2 1539.8,576.2 1545.3,576.2 1550.8,576.2 1556.3,576.2 1561.7,576.2 1567.2,576.2 1572.7,576.2 1578.1,576.2 1583.6,576.2 1589.1,576.2 1594.5,576.1 1600.0,576.1 1605.5,576.0 1611.0,575.8 1616.4,575.7 1621.9,575.4 1627.4,575.2 1632.8,574.8 1638.3,574.5 1643.8,574.0 1649.3,573.5 1654.7,573.0 1660.2,572.4 1665.7,571.8 1671.1,571.1 1676.6,570.5 1682.1,569.7 1687.6,569.0 1693.0,568.2 1698.5,567.4 1704.0,566.5 1709.4,565.7 1714.9,564.8 1720.4,563.9 1725.9,562.9 1731.3,561.9 1736.8,561.0 1742.3,560.0 1747.7,558.9 1753.2,557.9 1758.7,556.8 1764.1,555.7 1769.6,554.6" stroke="#c0e096"/>
<polyline points="1113.1,576.2 1118.6,555.9 1124.0,534.0 1129.5,511.0 1135.0,487.5 1140.5,464.2 1145.9,441.4 1151.4,419.4 1156.9,398.4 1162.3,378.5 1167.8,359.7 1173.3,342.0 1178.8,325.4 1184.2,309.8 1189.7,295.1 1195.2,281.4 1200.6,268.4 1206.1,256.2 1211.6,244.6 1217.0,233.7 1222.5,223.4 1228.0,213.6 1233.5,204.4 1238.0,197.0" stroke="#88edb4"/>
<polyline points="1113.1,576.2 1118.6,564.7 1124.0,552.0 1129.5,538.4 1135.0,524.1 1140.5,509.6 1145.9,495.0 1151.4,480.7 1156.9,466.6 1162.3,453.0 1167.8,439.9 1173.3,427.2 1178.8,415.1 1184.2,403.6 1189.7,392.5 1195.2,381.9 1200.6,371.8 1206.1,362.1 1211.6,352.8 1217.0,344.0 1222.5,335.5 1228.0,327.3 1233.5,319.5 1238.9,312.0 1244.4,304.8 1249.9,297.8 1255.3,291.1 1260.8,284.7 1266.3,278.5 1270.0,274.4" stroke="#88edb4"/>
<polyline points="1113.1,576.2 1118.6,572.1 1124.0,567.3 1129.5,561.9 1135.0,556.0 1140.5,549.7 1145.9,543.1 1151.4,536.2 1156.9,529.3 1162.3,522.2 1167.8,515.1 1173.3,508.0 1178.8,501.0 1184.2,493.9 1189.7,487.0 1195.2,480.1 1200.6,473.2 1206.1,466.5 1211.6,459.8 1217.0,453.2 1222.5,446.7 1228.0,440.3 1233.5,434.0 1238.9,427.7 1244.4,421.5 1249.9,415.4 1255.3,409.3 1260.8,403.4 1266.3,397.5 1271.8,391.6 1277.2,385.9 1282.7,380.2 1288.2,374.6 1293.6,369.0 1299.1,363.5 1304.6,358.1 1310.1,352.8 1315.5,347.5 1318.0,345.1" stroke="#88edb4"/>
<polyline points="1113.1,576.2 1118.6,575.0 1124.0,573.5 1129.5,571.7 1135.0,569.7 1140.5,567.3 1145.9,564.7 1151.4,561.9 1156.9,558.9 1162.3,555.7 1167.8,552.5 1173.3,549.2 1178.8,545.8 1184.2,542.3 1189.7,538.9 1195.2,535.4 1200.6,531.9 1206.1,528.3 1211.6,524.8 1217.0,521.3 1222.5,517.7 1228.0,514.2 1233.5,510.6 1238.9,507.1 1244.4,503.5 1249.9,500.0 1255.3,496.4 1260.8,492.8 1266.3,489.3 1271.8,485.7 1277.2,482.2 1282.7,478.6 1288.2,475.1 1293.6,471.5 1299.1,468.0 1304.6,464.4 1310.1,460.8 1315.5,457.3 1321.0,453.7 1326.5,450.2 1331.9,446.6 1337.4,443.1 1342.9,439.5 1348.4,435.9 1353.8,432.4 1359.3,428.8 1364.8,425.3 1370.2,421.7 1375.7,418.2 1381.2,414.6 1386.6,411.0 1392.1,407.5 1392.9,407.0" stroke="#88edb4"/>
<polyline points="1113.1,576.2 1118.6,576.2 1124.0,576.2 1129.5,576.2 1135.0,576.2 1140.5,576.2 1145.9,576.2 1151.4,576.2 1156.9,576.2 1162.3,576.2 1167.8,576.1 1173.3,576.1 1178.8,576.0 1184.2,575.9 1189.7,575.7 1195.2,575.5 1200.6,575.2 1206.1,574.8 1211.6,574.3 1217.0,573.6 1222.5,572.8 1228.0,571.7 1233.5,570.5 1238.9,569.0 1244.4,567.4 1249.9,565.6 1255.3,563.7 1260.8,561.7 1266.3,559.5 1271.8,557.3 1277.2,555.1 1282.7,552.7 1288.2,550.4 1293.6,548.0 1299.1,545.5 1304.6,543.1 1310.1,540.6 1315.5,538.1 1321.0,535.6 1326.5,533.1 1331.9,530.5 1337.4,527.9 1342.9,525.4 1348.4,522.8 1353.8,520.2 1359.3,517.6 1364.8,515.0 1370.2,512.4 1375.7,509.7 1381.2,507.1 1386.6,504.4 1392.1,501.8 1397.6,499.1 1403.1,496.4 1408.5,493.7 1414.0,491.1 1419.5,488.4 1424.9,485.7 1430.4,482.9 1435.9,480.2 1441.4,477.5 1446.8,474.8 1452.3,472.0 1457.8,469.3 1463.2,466.5 1468.7,463.8 1474.2,461.0 1479.7,458.3 1485.1,455.5 1490.6,452.7 1492.9,451.5" stroke="#88edb4"/>
<polyline points="1113.1,576.2 1118.6,576.2 1124.0,576.2 1129.5,576.2 1135.0,576.2 1140.5,576.2 1145.9,576.2 1151.4,576.2 1156.9,576.2 1162.3,576.2 1167.8,576.2 1173.3,576.2 1178.8,576.2 1184.2,576.2 1189.7,576.2 1195.2,576.2 1200.6,576.2 1206.1,576.2 1211.6,576.2 1217.0,576.2 1222.5,576.2 1228.0,576.2 1233.5,576.2 1238.9,576.2 1244.4,576.2 1249.9,576.2 1255.3,576.2 1260.8,576.2 1266.3,576.2 1271.8,576.2 1277.2,576.2 1282.7,576.2 1288.2,576.1 1293.6,576.1 1299.1,575.9 1304.6,575.8 1310.1,575.6 1315.5,575.3 1321.0,575.0 1326.5,574.6 1331.9,574.1 1337.4,573.5 1342.9,572.9 1348.4,572.2 1353.8,571.4 1359.3,570.6 1364.8,569.7 1370.2,568.7 1375.7,567.7 1381.2,566.7 1386.6,565.6 1392.1,564.5 1397.6,563.3 1403.1,562.1 1408.5,560.8 1414.0,559.6 1419.5,558.2 1424.9,556.9 1430.4,555.5 1435.9,554.1 1441.4,552.7 1446.8,551.2 1452.3,549.7 1457.8,548.1 1463.2,546.6 1468.7,545.0 1474.2,543.4 1479.7,541.7 1485.1,540.0 1490.6,538.3 1496.1,536.6 1501.5,534.9 1507.0,533.1 1512.5,531.3 1518.0,529.5 1523.4,527.6 1528.9,525.8 1534.4,523.9 1539.8,521.9 1545.3,520.0 1550.8,518.0 1556.3,516.1 1561.7,514.1 1567.2,512.0 1572.7,510.0 1578.1,507.9 1583.6,505.8 1589.1,503.7 1594.5,501.6 1600.0,499.4 1605.5,497.2 1611.0,495.0 1616.4,492.8 1621.9,490.6 1627.4,488.3 1632.8,486.0 1634.4,485.4" stroke="#88edb4"/>
<polyline points="1113.1,576.2 1118.6,576.2 1124.0,576.2 1129.5,576.2 1135.0,576.2 1140.5,576.2 1145.9,576.2 1151.4,576.2 1156.9,576.2 1162.3,576.2 1167.8,576.2 1173.3,576.2 1178.8,576.2 1184.2,576.2 1189.7,576.2 1195.2,576.2 1200.6,576.2 1206.1,576.2 1211.6,576.2 1217.0,576.2 1222.5,576.2 1228.0,576.2 1233.5,576.2 1238.9,576.2 1244.4,576.2 1249.9,576.2 1255.3,576.2 1260.8,576.2 1266.3,576.2 1271.8,576.2 1277.2,576.2 1282.7,576.2 1288.2,576.2 1293.6,576.2 1299.1,576.2 1304.6,576.2 1310.1,576.2 1315.5,576.2 1321.0,576.2 1326.5,576.2 1331.9,576.2 1337.4,576.2 1342.9,576.2 1348.4,576.2 1353.8,576.2 1359.3,576.2 1364.8,576.2 1370.2,576.2 1375.7,576.2 1381.2,576.2 1386.6,576.2 1392.1,576.2 1397.6,576.2 1403.1,576.2 1408.5,576.2 1414.0,576.2 1419.5,576.2 1424.9,576.2 1430.4,576.2 1435.9,576.2 1441.4,576.2 1446.8,576.2 1452.3,576.2 1457.8,576.2 1463.2,576.2 1468.7,576.2 1474.2,576.2 1479.7,576.2 1485.1,576.2 1490.6,576.2 1496.1,576.2 1501.5,576.2 1507.0,576.2 1512.5,576.1 1518.0,576.1 1523.4,576.0 1528.9,575.9 1534.4,575.7 1539.8,575.4 1545.3,575.1 1550.8,574.8 1556.3,574.3 1561.7,573.8 1567.2,573.2 1572.7,572.5 1578.1,571.8 1583.6,571.0 1589.1,570.1 1594.5,569.2 1600.0,568.2 1605.5,567.2 1611.0,566.2 1616.4,565.1 1621.9,564.0 1627.4,562.8 1632.8,561.6 1638.3,560.4 1643.8,559.1 1649.3,557.8 1654.7,556.5 1660.2,555.1 1665.7,553.8 1671.1,552.3 1676.6,550.9 1682.1,549.4 1687.6,547.9 1693.0,546.4 1698.5,544.8 1704.0,543.2 1709.4,541.6 1714.9,540.0 1720.4,538.3 1725.9,536.6 1731.3,534.9 1736.8,533.2 1742.3,531.4 1747.7,529.7 1753.2,527.9 1758.7,526.0 1764.1,524.2 1769.6,522.3" stroke="#88edb4"/>
<polyline points="1113.1,576.2 1118.6,576.2 1124.0,576.2 1129.5,576.2 1135.0,576.2 1140.5,576.2 1145.9,576.2 1151.4,576.2 1156.9,576.2 1162.3,576.2 1167.8,576.2 1173.3,576.2 1178.8,576.2 1184.2,576.2 1189.7,576.2 1195.2,576.2 1200.6,576.2 1206.1,576.2 1211.6,576.2 1217.0,576.2 1222.5,576.2 1228.0,576.2 1233.5,576.2 1238.9,576.2 1244.4,576.2 1249.9,576.2 1255.3,576.2 1260.8,576.2 1266.3,576.2 1271.8,576.2 1277.2,576.2 1282.7,576.2 1288.2,576.2 1293.6,576.2 1299.1,576.2 1304.6,576.2 1310.1,576.2 1315.5,576.2 1321.0,576.2 1326.5,576.2 1331.9,576.2 1337.4,576.2 1342.9,576.2 1348.4,576.2 1353.8,576.2 1359.3,576.2 1364.8,576.2 1370.2,576.2 1375.7,576.2 1381.2,576.2 1386.6,576.2 1392.1,576.2 1397.6,576.2 1403.1,576.2 1408.5,576.2 1414.0,576.2 1419.5,576.2 1424.9,576.2 1430.4,576.2 1435.9,576.2 1441.4,576.2 1446.8,576.2 1452.3,576.2 1457.8,576.2 1463.2,576.2 1468.7,576.2 1474.2,576.2 1479.7,576.2 1485.1,576.2 1490.6,576.2 1496.1,576.2 1501.5,576.2 1507.0,576.2 1512.5,576.2 1518.0,576.2 1523.4,576.2 1528.9,576.2 1534.4,576.2 1539.8,576.2 1545.3,576.2 1550.8,576.2 1556.3,576.2 1561.7,576.2 1567.2,576.2 1572.7,576.2 1578.1,576.2 1583.6,576.2 1589.1,576.2 1594.5,576.2 1600.0,576.2 1605.5,576.2 1611.0,576.2 1616.4,576.2 1621.9,576.2 1627.4,576.2 1632.8,576.2 1638.3,576.2 1643.8,576.2 1649.3,576.2 1654.7,576.2 1660.2,576.2 1665.7,576.2 1671.1,576.1 1676.6,576.1 1682.1,576.0 1687.6,575.9 1693.0,575.8 1698.5,575.6 1704.0,575.5 1709.4,575.3 1714.9,575.0 1720.4,574.7 1725.9,574.4 1731.3,574.1 1736.8,573.8 1742.3,573.4 1747.7,573.0 1753.2,572.6 1758.7,572.2 1764.1,571.8 1769.6,571.3" stroke="#88edb4"/>
<polyline points="1113.1,576.2 1769.6,576.2" stroke="#88edb4"/>
<polyline points="1113.1,576.2 1118.6,556.1 1124.0,534.3 1129.5,511.5 1135.0,488.2 1140.5,465.1 1145.9,442.4 1151.4,420.5 1156.9,399.7 1162.3,379.9 1167.8,361.2 1173.3,343.6 1178.8,327.1 1184.2,311.6 1189.7,297.0 1195.2,283.3 1200.6,270.4 1206.1,258.2 1211.6,246.7 1217.0,235.9 1222.5,225.6 1228.0,215.9 1233.5,206.6 1238.5,198.6" stroke="#3cd8cc"/>
<polyline points="1113.1,576.2 1118.6,560.9 1124.0,544.1 1129.5,526.4 1135.0,508.1 1140.5,489.8 1145.9,471.7 1151.4,454.1 1156.9,437.2 1162.3,421.0 1167.8,405.6 1173.3,391.0 1178.8,377.2 1184.2,364.2 1189.7,351.9 1195.2,340.2 1200.6,329.1 1206.1,318.7 1211.6,308.8 1217.0,299.3 1222.5,290.4 1228.0,281.9 1233.5,273.8 1238.9,266.0 1244.4,258.7 1249.9,251.6 1255.3,244.9 1255.8,244.3" stroke="#3cd8cc"/>
<polyline points="1113.1,576.2 1118.6,569.3 1124.0,561.5 1129.5,552.9 1135.0,543.7 1140.5,534.1 1145.9,524.2 1151.4,514.1 1156.9,504.1 1162.3,494.1 1167.8,484.3 1173.3,474.6 1178.8,465.1 1184.2,455.8 1189.7,446.7 1195.2,437.9 1200.6,429.2 1206.1,420.8 1211.6,412.6 1217.0,404.6 1222.5,396.8 1228.0,389.2 1233.5,381.8 1238.9,374.6 1244.4,367.5 1249.9,360.6 1255.3,353.9 1260.8,347.4 1266.3,341.0 1271.8,334.7 1277.2,328.6 1282.7,322.6 1288.2,316.8 1292.5,312.2" stroke="#3cd8cc"/>
<polyline points="1113.1,576.2 1118.6,573.6 1124.0,570.6 1129.5,567.0 1135.0,563.1 1140.5,558.8 1145.9,554.3 1151.4,549.5 1156.9,544.5 1162.3,539.4 1167.8,534.2 1173.3,529.0 1178.8,523.7 1184.2,518.4 1189.7,513.1 1195.2,507.8 1200.6,502.6 1206.1,497.3 1211.6,492.1 1217.0,486.8 1222.5,481.6 1228.0,476.4 1233.5,471.3 1238.9,466.1 1244.4,461.0 1249.9,455.9 1255.3,450.9 1260.8,445.8 1266.3,440.8 1271.8,435.8 1277.2,430.9 1282.7,425.9 1288.2,421.0 1293.6,416.1 1299.1,411.3 1304.6,406.4 1310.1,401.6 1315.5,396.8 1321.0,392.0 1326.5,387.3 1331.9,382.5 1337.4,377.8 1342.9,373.1 1344.6,371.7" stroke="#3cd8cc"/>
<polyline points="1113.1,576.2 1118.6,576.0 1124.0,575.6 1129.5,575.1 1135.0,574.5 1140.5,573.6 1145.9,572.5 1151.4,571.2 1156.9,569.7 1162.3,567.8 1167.8,565.8 1173.3,563.5 1178.8,561.0 1184.2,558.4 1189.7,555.6 1195.2,552.8 1200.6,549.9 1206.1,546.9 1211.6,543.9 1217.0,540.8 1222.5,537.7 1228.0,534.6 1233.5,531.5 1238.9,528.4 1244.4,525.3 1249.9,522.1 1255.3,519.0 1260.8,515.8 1266.3,512.7 1271.8,509.5 1277.2,506.4 1282.7,503.2 1288.2,500.1 1293.6,496.9 1299.1,493.7 1304.6,490.6 1310.1,487.4 1315.5,484.2 1321.0,481.0 1326.5,477.9 1331.9,474.7 1337.4,471.5 1342.9,468.3 1348.4,465.2 1353.8,462.0 1359.3,458.8 1364.8,455.6 1370.2,452.4 1375.7,449.3 1381.2,446.1 1386.6,442.9 1392.1,439.7 1397.6,436.5 1403.1,433.3 1408.5,430.1 1414.0,426.9 1419.5,423.7 1421.4,422.6" stroke="#3cd8cc"/>
<polyline points="1113.1,576.2 1118.6,576.2 1124.0,576.2 1129.5,576.2 1135.0,576.2 1140.5,576.2 1145.9,576.2 1151.4,576.2 1156.9,576.2 1162.3,576.2 1167.8,576.2 1173.3,576.2 1178.8,576.2 1184.2,576.2 1189.7,576.2 1195.2,576.1 1200.6,576.1 1206.1,576.0 1211.6,575.9 1217.0,575.7 1222.5,575.5 1228.0,575.2 1233.5,574.8 1238.9,574.2 1244.4,573.5 1249.9,572.7 1255.3,571.8 1260.8,570.7 1266.3,569.5 1271.8,568.1 1277.2,566.7 1282.7,565.2 1288.2,563.6 1293.6,561.9 1299.1,560.2 1304.6,558.4 1310.1,556.6 1315.5,554.7 1321.0,552.8 1326.5,550.9 1331.9,548.9 1337.4,546.9 1342.9,544.8 1348.4,542.7 1353.8,540.6 1359.3,538.5 1364.8,536.3 1370.2,534.1 1375.7,531.9 1381.2,529.6 1386.6,527.4 1392.1,525.1 1397.6,522.8 1403.1,520.4 1408.5,518.1 1414.0,515.7 1419.5,513.3 1424.9,510.9 1430.4,508.4 1435.9,506.0 1441.4,503.5 1446.8,501.0 1452.3,498.5 1457.8,496.0 1463.2,493.4 1468.7,490.9 1474.2,488.3 1479.7,485.7 1485.1,483.1 1490.6,480.4 1496.1,477.8 1501.5,475.1 1507.0,472.4 1512.5,469.7 1518.0,467.0 1523.4,464.3 1527.9,462.1" stroke="#3cd8cc"/>
<polyline points="1113.1,576.2 1118.6,576.2 1124.0,576.2 1129.5,576.2 1135.0,576.2 1140.5,576.2 1145.9,576.2 1151.4,576.2 1156.9,576.2 1162.3,576.2 1167.8,576.2 1173.3,576.2 1178.8,576.2 1184.2,576.2 1189.7,576.2 1195.2,576.2 1200.6,576.2 1206.1,576.2 1211.6,576.2 1217.0,576.2 1222.5,576.2 1228.0,576.2 1233.5,576.2 1238.9,576.2 1244.4,576.2 1249.9,576.2 1255.3,576.2 1260.8,576.2 1266.3,576.2 1271.8,576.2 1277.2,576.2 1282.7,576.2 1288.2,576.2 1293.6,576.2 1299.1,576.2 1304.6,576.2 1310.1,576.2 1315.5,576.2 1321.0,576.1 1326.5,576.0 1331.9,575.9 1337.4,575.7 1342.9,575.5 1348.4,575.3 1353.8,574.9 1359.3,574.5 1364.8,574.1 1370.2,573.5 1375.7,572.9 1381.2,572.2 1386.6,571.5 1392.1,570.8 1397.6,569.9 1403.1,569.1 1408.5,568.2 1414.0,567.2 1419.5,566.2 1424.9,565.2 1430.4,564.2 1435.9,563.1 1441.4,562.0 1446.8,560.8 1452.3,559.6 1457.8,558.4 1463.2,557.2 1468.7,555.9 1474.2,554.6 1479.7,553.3 1485.1,552.0 1490.6,550.6 1496.1,549.2 1501.5,547.8 1507.0,546.4 1512.5,544.9 1518.0,543.4 1523.4,541.9 1528.9,540.4 1534.4,538.8 1539.8,537.3 1545.3,535.7 1550.8,534.0 1556.3,532.4 1561.7,530.7 1567.2,529.1 1572.7,527.4 1578.1,525.6 1583.6,523.9 1589.1,522.1 1594.5,520.4 1600.0,518.6 1605.5,516.8 1611.0,514.9 1616.4,513.1 1621.9,511.2 1627.4,509.3 1632.8,507.4 1638.3,505.5 1643.8,503.5 1649.3,501.6 1654.7,499.6 1660.2,497.6 1665.7,495.6 1671.1,493.6 1675.3,492.0" stroke="#3cd8cc"/>
<polyline points="1113.1,576.2 1118.6,576.2 1124.0,576.2 1129.5,576.2 1135.0,576.2 1140.5,576.2 1145.9,576.2 1151.4,576.2 1156.9,576.2 1162.3,576.2 1167.8,576.2 1173.3,576.2 1178.8,576.2 1184.2,576.2 1189.7,576.2 1195.2,576.2 1200.6,576.2 1206.1,576.2 1211.6,576.2 1217.0,576.2 1222.5,576.2 1228.0,576.2 1233.5,576.2 1238.9,576.2 1244.4,576.2 1249.9,576.2 1255.3,576.2 1260.8,576.2 1266.3,576.2 1271.8,576.2 1277.2,576.2 1282.7,576.2 1288.2,576.2 1293.6,576.2 1299.1,576.2 1304.6,576.2 1310.1,576.2 1315.5,576.2 1321.0,576.2 1326.5,576.2 1331.9,576.2 1337.4,576.2 1342.9,576.2 1348.4,576.2 1353.8,576.2 1359.3,576.2 1364.8,576.2 1370.2,576.2 1375.7,576.2 1381.2,576.2 1386.6,576.2 1392.1,576.2 1397.6,576.2 1403.1,576.2 1408.5,576.2 1414.0,576.2 1419.5,576.2 1424.9,576.2 1430.4,576.2 1435.9,576.2 1441.4,576.2 1446.8,576.2 1452.3,576.2 1457.8,576.2 1463.2,576.2 1468.7,576.2 1474.2,576.2 1479.7,576.2 1485.1,576.2 1490.6,576.2 1496.1,576.2 1501.5,576.2 1507.0,576.2 1512.5,576.2 1518.0,576.2 1523.4,576.2 1528.9,576.2 1534.4,576.2 1539.8,576.2 1545.3,576.2 1550.8,576.2 1556.3,576.2 1561.7,576.2 1567.2,576.1 1572.7,576.0 1578.1,575.9 1583.6,575.8 1589.1,575.6 1594.5,575.3 1600.0,574.9 1605.5,574.5 1611.0,574.0 1616.4,573.4 1621.9,572.7 1627.4,572.0 1632.8,571.1 1638.3,570.2 1643.8,569.3 1649.3,568.3 1654.7,567.3 1660.2,566.2 1665.7,565.0 1671.1,563.8 1676.6,562.6 1682.1,561.3 1687.6,560.0 1693.0,558.7 1698.5,557.3 1704.0,555.9 1709.4,554.4 1714.9,552.9 1720.4,551.4 1725.9,549.9 1731.3,548.3 1736.8,546.7 1742.3,545.1 1747.7,543.4 1753.2,541.7 1758.7,540.0 1764.1,538.2 1769.6,536.4" stroke="#3cd8cc"/>
<polyline points="1113.1,576.2 1769.6,576.2" stroke="#3cd8cc"/>
<polyline points="1113.1,576.2 1118.6,556.4 1124.0,534.9 1129.5,512.3 1135.0,489.3 1140.5,466.4 1145.9,444.0 1151.4,422.4 1156.9,401.7 1162.3,382.1 1167.8,363.6 1173.3,346.2 1178.8,329.8 1184.2,314.4 1189.7,300.0 1195.2,286.4 1200.6,273.5 1206.1,261.5 1211.6,250.0 1217.0,239.3 1222.5,229.1 1228.0,219.4 1233.5,210.2 1238.9,201.5 1239.3,201.0" stroke="#12a8dc"/>
<polyline points="1113.1,576.2 1118.6,565.3 1124.0,553.1 1129.5,540.1 1135.0,526.4 1140.5,512.4 1145.9,498.3 1151.4,484.4 1156.9,470.8 1162.3,457.5 1167.8,444.7 1173.3,432.3 1178.8,420.5 1184.2,409.1 1189.7,398.2 1195.2,387.7 1200.6,377.7 1206.1,368.1 1211.6,358.9 1217.0,350.1 1222.5,341.6 1228.0,333.5 1233.5,325.7 1238.9,318.2 1244.4,310.9 1249.9,303.9 1255.3,297.2 1260.8,290.7 1266.3,284.5 1271.8,278.4 1272.0,278.2" stroke="#12a8dc"/>
<polyline points="1113.1,576.2 1118.6,572.3 1124.0,567.7 1129.5,562.6 1135.0,557.0 1140.5,551.0 1145.9,544.6 1151.4,538.1 1156.9,531.4 1162.3,524.6 1167.8,517.8 1173.3,511.0 1178.8,504.1 1184.2,497.4 1189.7,490.6 1195.2,484.0 1200.6,477.4 1206.1,470.8 1211.6,464.3 1217.0,457.9 1222.5,451.6 1228.0,445.4 1233.5,439.2 1238.9,433.1 1244.4,427.0 1249.9,421.0 1255.3,415.1 1260.8,409.3 1266.3,403.5 1271.8,397.8 1277.2,392.2 1282.7,386.6 1288.2,381.1 1293.6,375.6 1299.1,370.2 1304.6,364.9 1310.1,359.6 1315.5,354.4 1321.0,349.3 1321.4,348.9" stroke="#12a8dc"/>
<polyline points="1113.1,576.2 1118.6,575.1 1124.0,573.6 1129.5,571.8 1135.0,569.8 1140.5,567.5 1145.9,564.9 1151.4,562.1 1156.9,559.2 1162.3,556.1 1167.8,552.9 1173.3,549.6 1178.8,546.2 1184.2,542.9 1189.7,539.4 1195.2,536.0 1200.6,532.5 1206.1,529.0 1211.6,525.5 1217.0,522.0 1222.5,518.5 1228.0,515.0 1233.5,511.5 1238.9,508.0 1244.4,504.5 1249.9,501.0 1255.3,497.5 1260.8,494.0 1266.3,490.4 1271.8,486.9 1277.2,483.4 1282.7,479.9 1288.2,476.4 1293.6,472.9 1299.1,469.3 1304.6,465.8 1310.1,462.3 1315.5,458.8 1321.0,455.3 1326.5,451.8 1331.9,448.3 1337.4,444.7 1342.9,441.2 1348.4,437.7 1353.8,434.2 1359.3,430.7 1364.8,427.2 1370.2,423.7 1375.7,420.1 1381.2,416.6 1386.6,413.1 1392.1,409.6 1394.6,408.0" stroke="#12a8dc"/>
<polyline points="1113.1,576.2 1118.6,576.2 1124.0,576.2 1129.5,576.2 1135.0,576.2 1140.5,576.2 1145.9,576.2 1151.4,576.2 1156.9,576.2 1162.3,576.2 1167.8,576.2 1173.3,576.2 1178.8,576.1 1184.2,576.0 1189.7,575.9 1195.2,575.8 1200.6,575.6 1206.1,575.3 1211.6,575.0 1217.0,574.5 1222.5,573.9 1228.0,573.1 1233.5,572.2 1238.9,571.0 1244.4,569.7 1249.9,568.2 1255.3,566.6 1260.8,564.8 1266.3,563.0 1271.8,561.0 1277.2,559.0 1282.7,556.9 1288.2,554.8 1293.6,552.6 1299.1,550.3 1304.6,548.0 1310.1,545.7 1315.5,543.4 1321.0,541.1 1326.5,538.7 1331.9,536.3 1337.4,533.9 1342.9,531.4 1348.4,529.0 1353.8,526.5 1359.3,524.0 1364.8,521.5 1370.2,519.0 1375.7,516.5 1381.2,513.9 1386.6,511.4 1392.1,508.8 1397.6,506.2 1403.1,503.6 1408.5,501.0 1414.0,498.4 1419.5,495.8 1424.9,493.1 1430.4,490.5 1435.9,487.8 1441.4,485.2 1446.8,482.5 1452.3,479.8 1457.8,477.1 1463.2,474.4 1468.7,471.7 1474.2,468.9 1479.7,466.2 1485.1,463.5 1490.6,460.7 1496.1,458.0 1501.5,455.2 1502.6,454.7" stroke="#12a8dc"/>
<polyline points="1113.1,576.2 1118.6,576.2 1124.0,576.2 1129.5,576.2 1135.0,576.2 1140.5,576.2 1145.9,576.2 1151.4,576.2 1156.9,576.2 1162.3,576.2 1167.8,576.2 1173.3,576.2 1178.8,576.2 1184.2,576.2 1189.7,576.2 1195.2,576.2 1200.6,576.2 1206.1,576.2 1211.6,576.2 1217.0,576.2 1222.5,576.2 1228.0,576.2 1233.5,576.2 1238.9,576.2 1244.4,576.2 1249.9,576.2 1255.3,576.2 1260.8,576.2 1266.3,576.2 1271.8,576.2 1277.2,576.2 1282.7,576.2 1288.2,576.2 1293.6,576.2 1299.1,576.2 1304.6,576.1 1310.1,576.0 1315.5,575.9 1321.0,575.8 1326.5,575.6 1331.9,575.4 1337.4,575.0 1342.9,574.6 1348.4,574.2 1353.8,573.6 1359.3,573.0 1364.8,572.3 1370.2,571.6 1375.7,570.8 1381.2,570.0 1386.6,569.1 1392.1,568.1 1397.6,567.1 1403.1,566.1 1408.5,565.1 1414.0,564.0 1419.5,562.8 1424.9,561.7 1430.4,560.5 1435.9,559.2 1441.4,557.9 1446.8,556.7 1452.3,555.3 1457.8,554.0 1463.2,552.6 1468.7,551.2 1474.2,549.7 1479.7,548.3 1485.1,546.8 1490.6,545.3 1496.1,543.7 1501.5,542.2 1507.0,540.6 1512.5,539.0 1518.0,537.3 1523.4,535.7 1528.9,534.0 1534.4,532.3 1539.8,530.5 1545.3,528.8 1550.8,527.0 1556.3,525.2 1561.7,523.4 1567.2,521.6 1572.7,519.7 1578.1,517.8 1583.6,515.9 1589.1,514.0 1594.5,512.1 1600.0,510.1 1605.5,508.2 1611.0,506.2 1616.4,504.1 1621.9,502.1 1627.4,500.1 1632.8,498.0 1638.3,495.9 1643.8,493.8 1649.3,491.7 1654.7,489.5 1656.0,489.0" stroke="#12a8dc"/>
<polyline points="1113.1,576.2 1118.6,576.2 1124.0,576.2 1129.5,576.2 1135.0,576.2 1140.5,576.2 1145.9,576.2 1151.4,576.2 1156.9,576.2 1162.3,576.2 1167.8,576.2 1173.3,576.2 1178.8,576.2 1184.2,576.2 1189.7,576.2 1195.2,576.2 1200.6,576.2 1206.1,576.2 1211.6,576.2 1217.0,576.2 1222.5,576.2 1228.0,576.2 1233.5,576.2 1238.9,576.2 1244.4,576.2 1249.9,576.2 1255.3,576.2 1260.8,576.2 1266.3,576.2 1271.8,576.2 1277.2,576.2 1282.7,576.2 1288.2,576.2 1293.6,576.2 1299.1,576.2 1304.6,576.2 1310.1,576.2 1315.5,576.2 1321.0,576.2 1326.5,576.2 1331.9,576.2 1337.4,576.2 1342.9,576.2 1348.4,576.2 1353.8,576.2 1359.3,576.2 1364.8,576.2 1370.2,576.2 1375.7,576.2 1381.2,576.2 1386.6,576.2 1392.1,576.2 1397.6,576.2 1403.1,576.2 1408.5,576.2 1414.0,576.2 1419.5,576.2 1424.9,576.2 1430.4,576.2 1435.9,576.2 1441.4,576.2 1446.8,576.2 1452.3,576.2 1457.8,576.2 1463.2,576.2 1468.7,576.2 1474.2,576.2 1479.7,576.2 1485.1,576.2 1490.6,576.2 1496.1,576.2 1501.5,576.2 1507.0,576.2 1512.5,576.2 1518.0,576.2 1523.4,576.2 1528.9,576.2 1534.4,576.2 1539.8,576.2 1545.3,576.2 1550.8,576.2 1556.3,576.2 1561.7,576.2 1567.2,576.1 1572.7,576.1 1578.1,576.0 1583.6,575.8 1589.1,575.6 1594.5,575.4 1600.0,575.0 1605.5,574.6 1611.0,574.1 1616.4,573.6 1621.9,572.9 1627.4,572.2 1632.8,571.4 1638.3,570.5 1643.8,569.6 1649.3,568.6 1654.7,567.6 1660.2,566.5 1665.7,565.3 1671.1,564.2 1676.6,562.9 1682.1,561.7 1687.6,560.4 1693.0,559.0 1698.5,557.7 1704.0,556.3 1709.4,554.8 1714.9,553.3 1720.4,551.8 1725.9,550.3 1731.3,548.7 1736.8,547.1 1742.3,545.5 1747.7,543.8 1753.2,542.1 1758.7,540.4 1764.1,538.6 1769.6,536.9" stroke="#12a8dc"/>
<polyline points="1113.1,576.2 1118.6,576.2 1124.0,576.2 1129.5,576.2 1135.0,576.2 1140.5,576.2 1145.9,576.2 1151.4,576.2 1156.9,576.2 1162.3,576.2 1167.8,576.2 1173.3,576.2 1178.8,576.2 1184.2,576.2 1189.7,576.2 1195.2,576.2 1200.6,576.2 1206.1,576.2 1211.6,576.2 1217.0,576.2 1222.5,576.2 1228.0,576.2 1233.5,576.2 1238.9,576.2 1244.4,576.2 1249.9,576.2 1255.3,576.2 1260.8,576.2 1266.3,576.2 1271.8,576.2 1277.2,576.2 1282.7,576.2 1288.2,576.2 1293.6,576.2 1299.1,576.2 1304.6,576.2 1310.1,576.2 1315.5,576.2 1321.0,576.2 1326.5,576.2 1331.9,576.2 1337.4,576.2 1342.9,576.2 1348.4,576.2 1353.8,576.2 1359.3,576.2 1364.8,576.2 1370.2,576.2 1375.7,576.2 1381.2,576.2 1386.6,576.2 1392.1,576.2 1397.6,576.2 1403.1,576.2 1408.5,576.2 1414.0,576.2 1419.5,576.2 1424.9,576.2 1430.4,576.2 1435.9,576.2 1441.4,576.2 1446.8,576.2 1452.3,576.2 1457.8,576.2 1463.2,576.2 1468.7,576.2 1474.2,576.2 1479.7,576.2 1485.1,576.2 1490.6,576.2 1496.1,576.2 1501.5,576.2 1507.0,576.2 1512.5,576.2 1518.0,576.2 1523.4,576.2 1528.9,576.2 1534.4,576.2 1539.8,576.2 1545.3,576.2 1550.8,576.2 1556.3,576.2 1561.7,576.2 1567.2,576.2 1572.7,576.2 1578.1,576.2 1583.6,576.2 1589.1,576.2 1594.5,576.2 1600.0,576.2 1605.5,576.2 1611.0,576.2 1616.4,576.2 1621.9,576.2 1627.4,576.2 1632.8,576.2 1638.3,576.2 1643.8,576.2 1649.3,576.2 1654.7,576.2 1660.2,576.2 1665.7,576.2 1671.1,576.2 1676.6,576.2 1682.1,576.2 1687.6,576.2 1693.0,576.2 1698.5,576.2 1704.0,576.2 1709.4,576.2 1714.9,576.1 1720.4,576.1 1725.9,576.0 1731.3,576.0 1736.8,575.9 1742.3,575.8 1747.7,575.8 1753.2,575.7 1758.7,575.6 1764.1,575.5 1769.6,575.4" stroke="#12a8dc"/>
<polyline points="1113.1,576.2 1769.6,576.2" stroke="#12a8dc"/>
<polyline points="1113.1,576.2 1118.6,549.6 1124.0,521.1 1129.5,491.5 1135.0,461.8 1140.5,432.5 1145.9,404.1 1151.4,377.1 1156.9,351.5 1162.3,327.5 1167.8,305.1 1173.3,284.2 1178.8,264.7 1184.2,246.5 1189.7,229.5 1195.2,213.6 1200.6,198.8 1206.1,184.9 1211.6,171.9 1217.0,159.6 1222.5,148.1 1223.3,146.5" stroke="#4458d8"/>
<polyline points="1113.1,576.2 1118.6,558.9 1124.0,540.1 1129.5,520.3 1135.0,500.0 1140.5,479.7 1145.9,459.7 1151.4,440.4 1156.9,421.8 1162.3,404.1 1167.8,387.4 1173.3,371.5 1178.8,356.6 1184.2,342.5 1189.7,329.2 1195.2,316.7 1200.6,304.9 1206.1,293.7 1211.6,283.1 1217.0,273.1 1222.5,263.6 1228.0,254.6 1233.5,246.0 1238.9,237.8 1244.4,230.1 1248.0,225.2" stroke="#4458d8"/>
<polyline points="1113.1,576.2 1118.6,565.7 1124.0,554.0 1129.5,541.4 1135.0,528.2 1140.5,514.7 1145.9,501.0 1151.4,487.5 1156.9,474.2 1162.3,461.2 1167.8,448.7 1173.3,436.6 1178.8,424.9 1184.2,413.7 1189.7,403.0 1195.2,392.6 1200.6,382.7 1206.1,373.2 1211.6,364.1 1217.0,355.3 1222.5,346.9 1228.0,338.8 1233.5,331.0 1238.9,323.4 1244.4,316.2 1249.9,309.2 1255.3,302.5 1260.8,296.0 1266.3,289.7 1271.8,283.6 1273.8,281.4" stroke="#4458d8"/>
<polyline points="1113.1,576.2 1118.6,571.7 1124.0,566.4 1129.5,560.6 1135.0,554.2 1140.5,547.4 1145.9,540.2 1151.4,532.9 1156.9,525.4 1162.3,517.9 1167.8,510.3 1173.3,502.7 1178.8,495.2 1184.2,487.8 1189.7,480.4 1195.2,473.2 1200.6,466.0 1206.1,458.9 1211.6,451.9 1217.0,445.0 1222.5,438.1 1228.0,431.4 1233.5,424.8 1238.9,418.3 1244.4,411.8 1249.9,405.5 1255.3,399.2 1260.8,393.1 1266.3,387.0 1271.8,381.0 1277.2,375.1 1282.7,369.2 1288.2,363.4 1293.6,357.8 1299.1,352.1 1304.6,346.6 1310.1,341.1 1312.5,338.7" stroke="#4458d8"/>
<polyline points="1113.1,576.2 1118.6,574.3 1124.0,571.9 1129.5,569.2 1135.0,566.1 1140.5,562.7 1145.9,559.0 1151.4,555.1 1156.9,551.0 1162.3,546.7 1167.8,542.4 1173.3,538.0 1178.8,533.6 1184.2,529.1 1189.7,524.6 1195.2,520.1 1200.6,515.5 1206.1,511.0 1211.6,506.5 1217.0,502.0 1222.5,497.5 1228.0,493.0 1233.5,488.5 1238.9,484.1 1244.4,479.6 1249.9,475.2 1255.3,470.7 1260.8,466.3 1266.3,461.9 1271.8,457.5 1277.2,453.1 1282.7,448.8 1288.2,444.4 1293.6,440.1 1299.1,435.7 1304.6,431.4 1310.1,427.1 1315.5,422.8 1321.0,418.5 1326.5,414.2 1331.9,410.0 1337.4,405.7 1342.9,401.5 1348.4,397.2 1353.8,393.0 1359.3,388.8 1362.5,386.3" stroke="#4458d8"/>
<polyline points="1113.1,576.2 1118.6,576.1 1124.0,575.9 1129.5,575.7 1135.0,575.3 1140.5,574.8 1145.9,574.2 1151.4,573.4 1156.9,572.3 1162.3,571.1 1167.8,569.6 1173.3,567.8 1178.8,565.8 1184.2,563.6 1189.7,561.2 1195.2,558.7 1200.6,556.0 1206.1,553.3 1211.6,550.4 1217.0,547.5 1222.5,544.6 1228.0,541.7 1233.5,538.7 1238.9,535.7 1244.4,532.7 1249.9,529.6 1255.3,526.6 1260.8,523.6 1266.3,520.5 1271.8,517.5 1277.2,514.4 1282.7,511.3 1288.2,508.3 1293.6,505.2 1299.1,502.1 1304.6,499.1 1310.1,496.0 1315.5,492.9 1321.0,489.8 1326.5,486.8 1331.9,483.7 1337.4,480.6 1342.9,477.5 1348.4,474.4 1353.8,471.3 1359.3,468.2 1364.8,465.1 1370.2,462.0 1375.7,458.9 1381.2,455.8 1386.6,452.7 1392.1,449.6 1397.6,446.5 1403.1,443.4 1408.5,440.3 1414.0,437.2 1419.5,434.1 1424.9,431.0 1430.4,427.9 1431.2,427.4" stroke="#4458d8"/>
<polyline points="1113.1,576.2 1118.6,576.2 1124.0,576.2 1129.5,576.2 1135.0,576.2 1140.5,576.2 1145.9,576.2 1151.4,576.2 1156.9,576.2 1162.3,576.2 1167.8,576.2 1173.3,576.2 1178.8,576.2 1184.2,576.2 1189.7,576.1 1195.2,576.1 1200.6,576.0 1206.1,575.9 1211.6,575.7 1217.0,575.5 1222.5,575.2 1228.0,574.8 1233.5,574.3 1238.9,573.6 1244.4,572.8 1249.9,571.8 1255.3,570.7 1260.8,569.4 1266.3,568.1 1271.8,566.6 1277.2,565.0 1282.7,563.3 1288.2,561.6 1293.6,559.8 1299.1,557.9 1304.6,556.0 1310.1,554.1 1315.5,552.1 1321.0,550.0 1326.5,548.0 1331.9,545.9 1337.4,543.8 1342.9,541.6 1348.4,539.4 1353.8,537.2 1359.3,535.0 1364.8,532.7 1370.2,530.4 1375.7,528.1 1381.2,525.8 1386.6,523.4 1392.1,521.1 1397.6,518.7 1403.1,516.3 1408.5,513.8 1414.0,511.4 1419.5,508.9 1424.9,506.4 1430.4,503.9 1435.9,501.4 1441.4,498.9 1446.8,496.3 1452.3,493.8 1457.8,491.2 1463.2,488.6 1468.7,486.0 1474.2,483.4 1479.7,480.7 1485.1,478.1 1490.6,475.4 1496.1,472.7 1501.5,470.0 1507.0,467.3 1512.5,464.6 1518.0,461.8 1521.2,460.2" stroke="#4458d8"/>
<polyline points="1113.1,576.2 1118.6,576.2 1124.0,576.2 1129.5,576.2 1135.0,576.2 1140.5,576.2 1145.9,576.2 1151.4,576.2 1156.9,576.2 1162.3,576.2 1167.8,576.2 1173.3,576.2 1178.8,576.2 1184.2,576.2 1189.7,576.2 1195.2,576.2 1200.6,576.2 1206.1,576.2 1211.6,576.2 1217.0,576.2 1222.5,576.2 1228.0,576.2 1233.5,576.2 1238.9,576.2 1244.4,576.2 1249.9,576.2 1255.3,576.2 1260.8,576.2 1266.3,576.2 1271.8,576.2 1277.2,576.2 1282.7,576.2 1288.2,576.2 1293.6,576.1 1299.1,576.0 1304.6,575.9 1310.1,575.7 1315.5,575.5 1321.0,575.2 1326.5,574.9 1331.9,574.4 1337.4,573.9 1342.9,573.3 1348.4,572.7 1353.8,571.9 1359.3,571.2 1364.8,570.3 1370.2,569.4 1375.7,568.4 1381.2,567.4 1386.6,566.4 1392.1,565.3 1397.6,564.2 1403.1,563.0 1408.5,561.8 1414.0,560.5 1419.5,559.3 1424.9,558.0 1430.4,556.6 1435.9,555.2 1441.4,553.8 1446.8,552.4 1452.3,550.9 1457.8,549.4 1463.2,547.9 1468.7,546.4 1474.2,544.8 1479.7,543.2 1485.1,541.5 1490.6,539.9 1496.1,538.2 1501.5,536.5 1507.0,534.8 1512.5,533.0 1518.0,531.2 1523.4,529.4 1528.9,527.6 1534.4,525.7 1539.8,523.8 1545.3,521.9 1550.8,520.0 1556.3,518.1 1561.7,516.1 1567.2,514.1 1572.7,512.1 1578.1,510.1 1583.6,508.0 1589.1,506.0 1594.5,503.9 1600.0,501.8 1605.5,499.6 1611.0,497.5 1616.4,495.3 1621.9,493.1 1627.4,490.9 1632.8,488.7 1638.3,486.4 1638.9,486.2" stroke="#4458d8"/>
<polyline points="1113.1,576.2 1118.6,576.2 1124.0,576.2 1129.5,576.2 1135.0,576.2 1140.5,576.2 1145.9,576.2 1151.4,576.2 1156.9,576.2 1162.3,576.2 1167.8,576.2 1173.3,576.2 1178.8,576.2 1184.2,576.2 1189.7,576.2 1195.2,576.2 1200.6,576.2 1206.1,576.2 1211.6,576.2 1217.0,576.2 1222.5,576.2 1228.0,576.2 1233.5,576.2 1238.9,576.2 1244.4,576.2 1249.9,576.2 1255.3,576.2 1260.8,576.2 1266.3,576.2 1271.8,576.2 1277.2,576.2 1282.7,576.2 1288.2,576.2 1293.6,576.2 1299.1,576.2 1304.6,576.2 1310.1,576.2 1315.5,576.2 1321.0,576.2 1326.5,576.2 1331.9,576.2 1337.4,576.2 1342.9,576.2 1348.4,576.2 1353.8,576.2 1359.3,576.2 1364.8,576.2 1370.2,576.2 1375.7,576.2 1381.2,576.2 1386.6,576.2 1392.1,576.2 1397.6,576.2 1403.1,576.2 1408.5,576.2 1414.0,576.2 1419.5,576.2 1424.9,576.2 1430.4,576.2 1435.9,576.2 1441.4,576.2 1446.8,576.2 1452.3,576.2 1457.8,576.2 1463.2,576.1 1468.7,576.1 1474.2,576.0 1479.7,575.9 1485.1,575.7 1490.6,575.5 1496.1,575.2 1501.5,574.9 1507.0,574.4 1512.5,574.0 1518.0,573.4 1523.4,572.8 1528.9,572.1 1534.4,571.4 1539.8,570.6 1545.3,569.7 1550.8,568.9 1556.3,567.9 1561.7,567.0 1567.2,566.0 1572.7,564.9 1578.1,563.9 1583.6,562.8 1589.1,561.6 1594.5,560.4 1600.0,559.3 1605.5,558.0 1611.0,556.8 1616.4,555.5 1621.9,554.2 1627.4,552.8 1632.8,551.5 1638.3,550.1 1643.8,548.7 1649.3,547.2 1654.7,545.8 1660.2,544.3 1665.7,542.8 1671.1,541.2 1676.6,539.7 1682.1,538.1 1687.6,536.5 1693.0,534.9 1698.5,533.2 1704.0,531.6 1709.4,529.9 1714.9,528.2 1720.4,526.5 1725.9,524.7 1731.3,522.9 1736.8,521.1 1742.3,519.3 1747.7,517.5 1753.2,515.7 1758.7,513.8 1764.1,511.9 1769.6,510.0" stroke="#4458d8"/>
<polyline points="1113.1,576.2 1118.6,552.8 1124.0,527.6 1129.5,501.4 1135.0,474.7 1140.5,448.3 1145.9,422.7 1151.4,398.0 1156.9,374.6 1162.3,352.5 1167.8,331.8 1173.3,312.3 1178.8,294.1 1184.2,277.1 1189.7,261.1 1195.2,246.1 1200.6,232.1 1206.1,218.9 1211.6,206.4 1217.0,194.7 1222.5,183.7 1228.0,173.2 1229.7,170.1" stroke="#6004cc"/>
<polyline points="1113.1,576.2 1118.6,561.1 1124.0,544.6 1129.5,527.2 1135.0,509.2 1140.5,491.1 1145.9,473.3 1151.4,455.9 1156.9,439.2 1162.3,423.2 1167.8,407.9 1173.3,393.5 1178.8,379.8 1184.2,366.8 1189.7,354.6 1195.2,343.0 1200.6,332.0 1206.1,321.6 1211.6,311.7 1217.0,302.3 1222.5,293.4 1228.0,284.9 1233.5,276.9 1238.9,269.2 1244.4,261.8 1249.9,254.8 1255.3,248.0 1256.7,246.4" stroke="#6004cc"/>
<polyline points="1113.1,576.2 1118.6,568.6 1124.0,559.9 1129.5,550.5 1135.0,540.5 1140.5,530.0 1145.9,519.4 1151.4,508.6 1156.9,497.9 1162.3,487.3 1167.8,476.9 1173.3,466.7 1178.8,456.8 1184.2,447.2 1189.7,437.8 1195.2,428.6 1200.6,419.8 1206.1,411.1 1211.6,402.8 1217.0,394.7 1222.5,386.8 1228.0,379.1 1233.5,371.7 1238.9,364.5 1244.4,357.5 1249.9,350.6 1255.3,344.0 1260.8,337.5 1266.3,331.2 1271.8,325.1 1277.2,319.1 1282.7,313.3 1288.2,307.6 1288.9,306.8" stroke="#6004cc"/>
<polyline points="1113.1,576.2 1118.6,573.2 1124.0,569.7 1129.5,565.6 1135.0,561.2 1140.5,556.3 1145.9,551.2 1151.4,545.9 1156.9,540.4 1162.3,534.7 1167.8,529.0 1173.3,523.3 1178.8,517.5 1184.2,511.8 1189.7,506.0 1195.2,500.3 1200.6,494.6 1206.1,488.9 1211.6,483.3 1217.0,477.7 1222.5,472.1 1228.0,466.6 1233.5,461.1 1238.9,455.6 1244.4,450.2 1249.9,444.8 1255.3,439.5 1260.8,434.2 1266.3,428.9 1271.8,423.7 1277.2,418.5 1282.7,413.3 1288.2,408.2 1293.6,403.1 1299.1,398.0 1304.6,393.0 1310.1,388.0 1315.5,383.1 1321.0,378.2 1326.5,373.3 1331.9,368.4 1336.6,364.3" stroke="#6004cc"/>
<polyline points="1113.1,576.2 1118.6,575.2 1124.0,574.0 1129.5,572.4 1135.0,570.6 1140.5,568.5 1145.9,566.2 1151.4,563.6 1156.9,560.8 1162.3,557.9 1167.8,554.9 1173.3,551.7 1178.8,548.5 1184.2,545.3 1189.7,542.0 1195.2,538.6 1200.6,535.3 1206.1,531.9 1211.6,528.5 1217.0,525.2 1222.5,521.8 1228.0,518.4 1233.5,515.0 1238.9,511.6 1244.4,508.2 1249.9,504.8 1255.3,501.3 1260.8,497.9 1266.3,494.5 1271.8,491.1 1277.2,487.7 1282.7,484.3 1288.2,480.9 1293.6,477.5 1299.1,474.1 1304.6,470.7 1310.1,467.3 1315.5,463.8 1321.0,460.4 1326.5,457.0 1331.9,453.6 1337.4,450.2 1342.9,446.8 1348.4,443.4 1353.8,440.0 1359.3,436.6 1364.8,433.1 1370.2,429.7 1375.7,426.3 1381.2,422.9 1386.6,419.5 1392.1,416.1 1397.6,412.7 1400.0,411.2" stroke="#6004cc"/>
<polyline points="1113.1,576.2 1118.6,576.2 1124.0,576.2 1129.5,576.2 1135.0,576.2 1140.5,576.2 1145.9,576.2 1151.4,576.2 1156.9,576.2 1162.3,576.1 1167.8,576.1 1173.3,576.0 1178.8,575.9 1184.2,575.8 1189.7,575.6 1195.2,575.4 1200.6,575.0 1206.1,574.6 1211.6,574.0 1217.0,573.2 1222.5,572.3 1228.0,571.1 1233.5,569.8 1238.9,568.2 1244.4,566.5 1249.9,564.6 1255.3,562.6 1260.8,560.5 1266.3,558.2 1271.8,555.9 1277.2,553.6 1282.7,551.2 1288.2,548.7 1293.6,546.3 1299.1,543.8 1304.6,541.3 1310.1,538.7 1315.5,536.2 1321.0,533.6 1326.5,531.0 1331.9,528.4 1337.4,525.8 1342.9,523.2 1348.4,520.6 1353.8,517.9 1359.3,515.3 1364.8,512.6 1370.2,510.0 1375.7,507.3 1381.2,504.6 1386.6,502.0 1392.1,499.3 1397.6,496.6 1403.1,493.9 1408.5,491.2 1414.0,488.5 1419.5,485.7 1424.9,483.0 1430.4,480.3 1435.9,477.6 1441.4,474.8 1446.8,472.1 1452.3,469.3 1457.8,466.6 1463.2,463.8 1468.7,461.0 1474.2,458.3 1479.7,455.5 1485.1,452.7 1489.6,450.5" stroke="#6004cc"/>
<polyline points="1113.1,576.2 1118.6,576.2 1124.0,576.2 1129.5,576.2 1135.0,576.2 1140.5,576.2 1145.9,576.2 1151.4,576.2 1156.9,576.2 1162.3,576.2 1167.8,576.2 1173.3,576.2 1178.8,576.2 1184.2,576.2 1189.7,576.2 1195.2,576.2 1200.6,576.2 1206.1,576.2 1211.6,576.2 1217.0,576.2 1222.5,576.2 1228.0,576.2 1233.5,576.2 1238.9,576.2 1244.4,576.2 1249.9,576.2 1255.3,576.2 1260.8,576.2 1266.3,576.1 1271.8,576.1 1277.2,576.0 1282.7,575.9 1288.2,575.7 1293.6,575.4 1299.1,575.1 1304.6,574.7 1310.1,574.3 1315.5,573.7 1321.0,573.0 1326.5,572.3 1331.9,571.5 1337.4,570.6 1342.9,569.7 1348.4,568.7 1353.8,567.6 1359.3,566.5 1364.8,565.4 1370.2,564.2 1375.7,562.9 1381.2,561.6 1386.6,560.3 1392.1,558.9 1397.6,557.5 1403.1,556.1 1408.5,554.6 1414.0,553.0 1419.5,551.5 1424.9,549.9 1430.4,548.3 1435.9,546.6 1441.4,544.9 1446.8,543.2 1452.3,541.5 1457.8,539.7 1463.2,537.9 1468.7,536.1 1474.2,534.2 1479.7,532.3 1485.1,530.4 1490.6,528.5 1496.1,526.5 1501.5,524.5 1507.0,522.5 1512.5,520.4 1518.0,518.4 1523.4,516.3 1528.9,514.1 1534.4,512.0 1539.8,509.8 1545.3,507.6 1550.8,505.4 1556.3,503.1 1561.7,500.9 1567.2,498.6 1572.7,496.3 1578.1,493.9 1583.6,491.6 1589.1,489.2 1594.5,486.8 1600.0,484.4 1605.5,481.9 1608.4,480.6" stroke="#6004cc"/>
<polyline points="1113.1,576.2 1118.6,576.2 1124.0,576.2 1129.5,576.2 1135.0,576.2 1140.5,576.2 1145.9,576.2 1151.4,576.2 1156.9,576.2 1162.3,576.2 1167.8,576.2 1173.3,576.2 1178.8,576.2 1184.2,576.2 1189.7,576.2 1195.2,576.2 1200.6,576.2 1206.1,576.2 1211.6,576.2 1217.0,576.2 1222.5,576.2 1228.0,576.2 1233.5,576.2 1238.9,576.2 1244.4,576.2 1249.9,576.2 1255.3,576.2 1260.8,576.2 1266.3,576.2 1271.8,576.2 1277.2,576.2 1282.7,576.2 1288.2,576.2 1293.6,576.2 1299.1,576.2 1304.6,576.2 1310.1,576.2 1315.5,576.2 1321.0,576.2 1326.5,576.2 1331.9,576.2 1337.4,576.2 1342.9,576.2 1348.4,576.2 1353.8,576.2 1359.3,576.2 1364.8,576.2 1370.2,576.2 1375.7,576.1 1381.2,576.0 1386.6,576.0 1392.1,575.8 1397.6,575.6 1403.1,575.4 1408.5,575.1 1414.0,574.8 1419.5,574.4 1424.9,574.0 1430.4,573.5 1435.9,573.0 1441.4,572.5 1446.8,571.8 1452.3,571.2 1457.8,570.5 1463.2,569.8 1468.7,569.1 1474.2,568.3 1479.7,567.6 1485.1,566.8 1490.6,565.9 1496.1,565.1 1501.5,564.2 1507.0,563.3 1512.5,562.3 1518.0,561.4 1523.4,560.4 1528.9,559.4 1534.4,558.4 1539.8,557.4 1545.3,556.3 1550.8,555.3 1556.3,554.2 1561.7,553.1 1567.2,552.0 1572.7,550.8 1578.1,549.7 1583.6,548.5 1589.1,547.3 1594.5,546.1 1600.0,544.9 1605.5,543.6 1611.0,542.4 1616.4,541.1 1621.9,539.8 1627.4,538.5 1632.8,537.2 1638.3,535.8 1643.8,534.5 1649.3,533.1 1654.7,531.8 1660.2,530.4 1665.7,529.0 1671.1,527.5 1676.6,526.1 1682.1,524.7 1687.6,523.2 1693.0,521.7 1698.5,520.2 1704.0,518.7 1709.4,517.2 1714.9,515.7 1720.4,514.2 1725.9,512.6 1731.3,511.0 1736.8,509.5 1742.3,507.9 1747.7,506.3 1753.2,504.6 1758.7,503.0 1759.0,502.9" stroke="#6004cc"/>
<polyline points="1113.1,576.2 1118.6,576.2 1124.0,576.2 1129.5,576.2 1135.0,576.2 1140.5,576.2 1145.9,576.2 1151.4,576.2 1156.9,576.2 1162.3,576.2 1167.8,576.2 1173.3,576.2 1178.8,576.2 1184.2,576.2 1189.7,576.2 1195.2,576.2 1200.6,576.2 1206.1,576.2 1211.6,576.2 1217.0,576.2 1222.5,576.2 1228.0,576.2 1233.5,576.2 1238.9,576.2 1244.4,576.2 1249.9,576.2 1255.3,576.2 1260.8,576.2 1266.3,576.2 1271.8,576.2 1277.2,576.2 1282.7,576.2 1288.2,576.2 1293.6,576.2 1299.1,576.2 1304.6,576.2 1310.1,576.2 1315.5,576.2 1321.0,576.2 1326.5,576.2 1331.9,576.2 1337.4,576.2 1342.9,576.2 1348.4,576.2 1353.8,576.2 1359.3,576.2 1364.8,576.2 1370.2,576.2 1375.7,576.2 1381.2,576.2 1386.6,576.2 1392.1,576.2 1397.6,576.2 1403.1,576.2 1408.5,576.2 1414.0,576.2 1419.5,576.2 1424.9,576.2 1430.4,576.2 1435.9,576.2 1441.4,576.2 1446.8,576.2 1452.3,576.2 1457.8,576.2 1463.2,576.2 1468.7,576.2 1474.2,576.2 1479.7,576.2 1485.1,576.2 1490.6,576.2 1496.1,576.2 1501.5,576.2 1507.0,576.2 1512.5,576.2 1518.0,576.2 1523.4,576.2 1528.9,576.2 1534.4,576.2 1539.8,576.2 1545.3,576.2 1550.8,576.2 1556.3,576.2 1561.7,576.2 1567.2,576.2 1572.7,576.2 1578.1,576.2 1583.6,576.2 1589.1,576.2 1594.5,576.2 1600.0,576.1 1605.5,576.1 1611.0,576.0 1616.4,575.9 1621.9,575.7 1627.4,575.5 1632.8,575.2 1638.3,574.9 1643.8,574.5 1649.3,574.1 1654.7,573.7 1660.2,573.2 1665.7,572.6 1671.1,572.0 1676.6,571.4 1682.1,570.7 1687.6,570.1 1693.0,569.3 1698.5,568.6 1704.0,567.8 1709.4,567.0 1714.9,566.2 1720.4,565.4 1725.9,564.5 1731.3,563.6 1736.8,562.7 1742.3,561.7 1747.7,560.8 1753.2,559.8 1758.7,558.8 1764.1,557.8 1769.6,556.8" stroke="#6004cc"/>
</g>

<rect x="1662.20" y="88.6" width="150" height="20.8" fill="#fff"/>
<text x="1808.90" y="104.60" font-size="16.90" text-anchor="end">PyPSUcurvetrace</text>
<rect x="1223.20" y="150.23" width="27.51" height="16.60" fill="#fff"/><text x="1223.70" y="162.90" font-size="16.67" text-anchor="start">0.0</text>
<rect x="1251.90" y="224.63" width="27.51" height="16.60" fill="#fff"/><text x="1252.40" y="237.30" font-size="16.67" text-anchor="start">2.0</text>
<rect x="1289.80" y="287.13" width="27.51" height="16.60" fill="#fff"/><text x="1290.30" y="299.80" font-size="16.67" text-anchor="start">4.0</text>
<rect x="1337.20" y="343.03" width="27.51" height="16.60" fill="#fff"/><text x="1337.70" y="355.70" font-size="16.67" text-anchor="start">6.0</text>
<rect x="1405.50" y="390.93" width="27.51" height="16.60" fill="#fff"/><text x="1406.00" y="403.60" font-size="16.67" text-anchor="start">8.0</text>
<rect x="1495.80" y="430.83" width="38.12" height="16.60" fill="#fff"/><text x="1496.30" y="443.50" font-size="16.67" text-anchor="start">10.0</text>
<rect x="1616.90" y="461.53" width="38.12" height="16.60" fill="#fff"/><text x="1617.40" y="474.20" font-size="16.67" text-anchor="start">12.0</text>
<rect x="1766.30" y="486.03" width="38.12" height="16.60" fill="#fff"/><text x="1766.80" y="498.70" font-size="16.67" text-anchor="start">14.0</text>
<rect x="1778.30" y="544.63" width="38.12" height="16.60" fill="#fff"/><text x="1778.80" y="557.30" font-size="16.67" text-anchor="start">16.0</text>
<rect x="1080.45" y="81.30" width="743.75" height="517.00" fill="none" stroke="#000" stroke-width="2.8"/>
<text x="1113.10" y="620.90" font-size="22.80" text-anchor="middle">0</text>
<text x="1222.52" y="620.90" font-size="22.80" text-anchor="middle">−10</text>
<text x="1331.94" y="620.90" font-size="22.80" text-anchor="middle">−20</text>
<text x="1441.36" y="620.90" font-size="22.80" text-anchor="middle">−30</text>
<text x="1550.78" y="620.90" font-size="22.80" text-anchor="middle">−40</text>
<text x="1660.20" y="620.90" font-size="22.80" text-anchor="middle">−50</text>
<text x="1769.62" y="620.90" font-size="22.80" text-anchor="middle">−60</text>
<text x="1075.25" y="584.75" font-size="22.80" text-anchor="end">0</text>
<text x="1075.25" y="498.18" font-size="22.80" text-anchor="end">−1</text>
<text x="1075.25" y="411.61" font-size="22.80" text-anchor="end">−2</text>
<text x="1075.25" y="325.04" font-size="22.80" text-anchor="end">−3</text>
<text x="1075.25" y="238.47" font-size="22.80" text-anchor="end">−4</text>
<text x="1075.25" y="151.90" font-size="22.80" text-anchor="end">−5</text>
<text x="1452.30" y="649.60" font-size="22.80" text-anchor="middle" textLength="75.7">U1 (V)</text>
<text x="0" y="0" font-size="22.8" text-anchor="middle" textLength="65.6" transform="translate(1029.00 340.45) rotate(-90)">I1 (A)</text>
<text x="1452.30" y="72.60" font-size="28.80" text-anchor="middle">2SJ28 Overlay</text></svg>
</body></html>
